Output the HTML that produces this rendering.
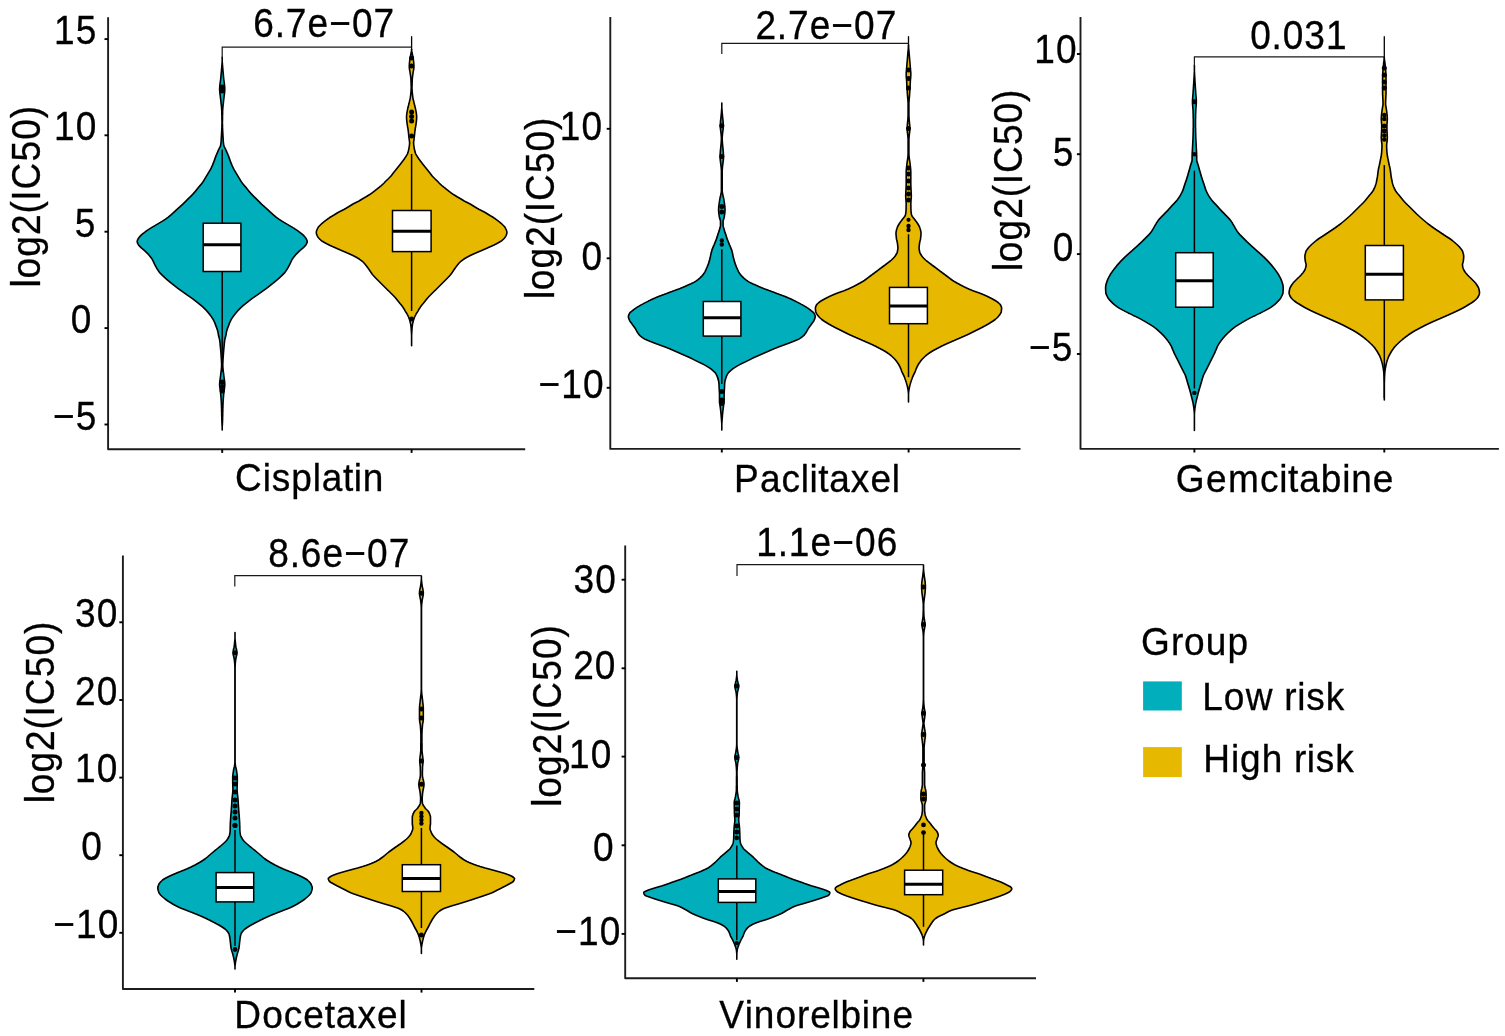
<!DOCTYPE html>
<html lang="en"><head><meta charset="utf-8"><title>Drug sensitivity violin plots</title>
<style>html,body{margin:0;padding:0;background:#fff;overflow:hidden;}svg{display:block;}text{font-family:"Liberation Sans", Arial, Helvetica, sans-serif;fill:#000;stroke:#000;stroke-width:0.3px;}</style></head><body>
<svg width="1505" height="1036" viewBox="0 0 1505 1036">
<rect width="1505" height="1036" fill="#fff"/>
<g>
<path d="M222.2,57.4 222.2,57.9 222.2,58.4 222.2,58.9 222.2,59.4 222.2,59.9 222.2,60.4 222.2,60.9 222.2,61.4 222.2,61.9 222.3,62.4 222.3,62.9 222.4,63.4 222.4,63.9 222.4,64.4 222.5,64.9 222.5,65.4 222.6,65.9 222.6,66.4 222.6,66.9 222.7,67.4 222.7,67.9 222.8,68.4 222.8,68.9 222.9,69.4 222.9,69.9 222.9,70.4 223.0,70.9 223.0,71.4 223.1,71.9 223.1,72.4 223.2,72.9 223.2,73.4 223.3,73.9 223.3,74.4 223.4,74.9 223.4,75.4 223.4,75.9 223.5,76.4 223.5,76.9 223.6,77.4 223.6,77.9 223.7,78.4 223.7,78.9 223.8,79.4 223.8,79.9 223.9,80.4 224.0,80.9 224.0,81.4 224.1,81.9 224.2,82.4 224.2,82.9 224.3,83.4 224.4,83.9 224.4,84.4 224.5,84.9 224.5,85.4 224.6,85.9 224.6,86.4 224.7,86.9 224.7,87.4 224.7,87.9 224.7,88.4 224.8,88.9 224.8,89.4 224.8,89.9 224.7,90.4 224.7,90.9 224.7,91.4 224.6,91.9 224.6,92.4 224.5,92.9 224.5,93.4 224.4,93.9 224.4,94.4 224.3,94.9 224.2,95.4 224.2,95.9 224.1,96.4 224.0,96.9 224.0,97.4 223.9,97.9 223.9,98.4 223.8,98.9 223.7,99.4 223.7,99.9 223.6,100.4 223.6,100.9 223.5,101.4 223.5,101.9 223.4,102.4 223.4,102.9 223.3,103.4 223.3,103.9 223.2,104.4 223.1,104.9 223.1,105.4 223.0,105.9 223.0,106.4 222.9,106.9 222.9,107.4 222.8,107.9 222.8,108.4 222.8,108.9 222.7,109.4 222.7,109.9 222.7,110.4 222.6,110.9 222.6,111.4 222.6,111.9 222.6,112.4 222.6,112.9 222.6,113.4 222.6,113.9 222.6,114.4 222.5,114.9 222.5,115.4 222.5,115.9 222.5,116.4 222.5,116.9 222.5,117.4 222.5,117.9 222.5,118.4 222.5,118.9 222.5,119.4 222.5,119.9 222.5,120.4 222.4,120.9 222.4,121.4 222.4,121.9 222.4,122.4 222.4,122.9 222.4,123.4 222.4,123.9 222.5,124.4 222.5,124.9 222.5,125.4 222.5,125.9 222.5,126.4 222.5,126.9 222.5,127.4 222.5,127.9 222.6,128.4 222.6,128.9 222.6,129.4 222.6,129.9 222.7,130.4 222.7,130.9 222.7,131.4 222.7,131.9 222.8,132.4 222.8,132.9 222.8,133.4 222.9,133.9 222.9,134.4 222.9,134.9 222.9,135.4 223.0,135.9 223.0,136.4 223.0,136.9 223.1,137.4 223.1,137.9 223.1,138.4 223.1,138.9 223.2,139.4 223.2,139.9 223.2,140.4 223.3,140.9 223.3,141.4 223.3,141.9 223.4,142.4 223.4,142.9 223.5,143.4 223.6,143.9 223.6,144.4 223.7,144.9 223.8,145.4 223.9,145.9 224.1,146.4 224.3,146.9 224.6,147.4 224.9,147.9 225.1,148.4 225.4,148.9 225.6,149.4 225.9,149.9 226.1,150.4 226.3,150.9 226.5,151.4 226.7,151.9 226.9,152.4 227.2,152.9 227.4,153.4 227.6,153.9 227.8,154.4 228.0,154.9 228.3,155.4 228.4,155.9 228.6,156.4 228.8,156.9 229.0,157.4 229.1,157.9 229.3,158.4 229.5,158.9 229.7,159.4 229.8,159.9 230.0,160.4 230.2,160.9 230.4,161.4 230.6,161.9 230.8,162.4 231.0,162.9 231.2,163.4 231.4,163.9 231.6,164.4 231.8,164.9 232.0,165.4 232.2,165.9 232.5,166.4 232.7,166.9 232.9,167.4 233.2,167.9 233.4,168.4 233.7,168.9 233.9,169.4 234.2,169.9 234.5,170.4 234.8,170.9 235.1,171.4 235.4,171.9 235.7,172.4 236.0,172.9 236.3,173.4 236.6,173.9 236.9,174.4 237.2,174.9 237.5,175.4 237.8,175.9 238.1,176.4 238.4,176.9 238.7,177.4 239.0,177.9 239.3,178.4 239.6,178.9 239.9,179.4 240.2,179.9 240.5,180.4 240.8,180.9 241.2,181.4 241.5,181.9 241.9,182.4 242.2,182.9 242.6,183.4 243.0,183.9 243.4,184.4 243.8,184.9 244.2,185.4 244.7,185.9 245.1,186.4 245.5,186.9 246.0,187.4 246.4,187.9 246.8,188.4 247.2,188.9 247.6,189.4 248.0,189.9 248.4,190.4 248.8,190.9 249.2,191.4 249.6,191.9 250.0,192.4 250.5,192.9 250.9,193.4 251.3,193.9 251.8,194.4 252.3,194.9 252.7,195.4 253.2,195.9 253.7,196.4 254.2,196.9 254.8,197.4 255.3,197.9 255.8,198.4 256.3,198.9 256.8,199.4 257.3,199.9 257.8,200.4 258.3,200.9 258.8,201.4 259.3,201.9 259.8,202.4 260.3,202.9 260.8,203.4 261.3,203.9 261.8,204.4 262.4,204.9 262.9,205.4 263.5,205.9 264.1,206.4 264.6,206.9 265.2,207.4 265.8,207.9 266.3,208.4 266.9,208.9 267.4,209.4 268.0,209.9 268.5,210.4 269.0,210.9 269.6,211.4 270.1,211.9 270.7,212.4 271.2,212.9 271.8,213.4 272.3,213.9 272.9,214.4 273.4,214.9 274.0,215.4 274.6,215.9 275.2,216.4 275.8,216.9 276.4,217.4 277.1,217.9 277.8,218.4 278.5,218.9 279.2,219.4 280.0,219.9 280.8,220.4 281.5,220.9 282.4,221.4 283.2,221.9 284.0,222.4 284.9,222.9 285.7,223.4 286.6,223.9 287.4,224.4 288.3,224.9 289.1,225.4 290.0,225.9 290.8,226.4 291.7,226.9 292.5,227.4 293.3,227.9 294.2,228.4 294.9,228.9 295.7,229.4 296.4,229.9 297.2,230.4 297.9,230.9 298.6,231.4 299.2,231.9 299.9,232.4 300.5,232.9 301.2,233.4 301.8,233.9 302.4,234.4 303.0,234.9 303.5,235.4 304.0,235.9 304.4,236.4 304.9,236.9 305.3,237.4 305.7,237.9 306.0,238.4 306.3,238.9 306.5,239.4 306.8,239.9 307.0,240.4 307.1,240.9 307.2,241.4 307.2,241.9 307.1,242.4 306.9,242.9 306.7,243.4 306.4,243.9 306.2,244.4 305.9,244.9 305.5,245.4 305.0,245.9 304.6,246.4 304.1,246.9 303.6,247.4 303.1,247.9 302.5,248.4 301.9,248.9 301.3,249.4 300.7,249.9 300.1,250.4 299.6,250.9 299.0,251.4 298.5,251.9 298.0,252.4 297.5,252.9 297.0,253.4 296.5,253.9 296.0,254.4 295.5,254.9 295.1,255.4 294.7,255.9 294.3,256.4 293.9,256.9 293.5,257.4 293.1,257.9 292.8,258.4 292.4,258.9 292.1,259.4 291.9,259.9 291.6,260.4 291.4,260.9 291.1,261.4 290.9,261.9 290.7,262.4 290.4,262.9 290.2,263.4 290.0,263.9 289.7,264.4 289.5,264.9 289.2,265.4 289.0,265.9 288.7,266.4 288.4,266.9 288.1,267.4 287.9,267.9 287.6,268.4 287.3,268.9 286.9,269.4 286.6,269.9 286.3,270.4 285.9,270.9 285.6,271.4 285.2,271.9 284.8,272.4 284.4,272.9 284.0,273.4 283.5,273.9 283.0,274.4 282.5,274.9 282.0,275.4 281.5,275.9 280.9,276.4 280.4,276.9 279.9,277.4 279.3,277.9 278.8,278.4 278.2,278.9 277.7,279.4 277.1,279.9 276.5,280.4 275.9,280.9 275.3,281.4 274.7,281.9 274.1,282.4 273.5,282.9 272.8,283.4 272.2,283.9 271.5,284.4 270.9,284.9 270.3,285.4 269.7,285.9 269.0,286.4 268.4,286.9 267.8,287.4 267.1,287.9 266.5,288.4 265.8,288.9 265.1,289.4 264.4,289.9 263.7,290.4 263.0,290.9 262.3,291.4 261.6,291.9 260.9,292.4 260.2,292.9 259.5,293.4 258.8,293.9 258.1,294.4 257.4,294.9 256.6,295.4 255.9,295.9 255.2,296.4 254.5,296.9 253.7,297.4 253.0,297.9 252.3,298.4 251.6,298.9 250.9,299.4 250.3,299.9 249.7,300.4 249.0,300.9 248.4,301.4 247.8,301.9 247.2,302.4 246.5,302.9 245.9,303.4 245.3,303.9 244.6,304.4 244.0,304.9 243.4,305.4 242.8,305.9 242.2,306.4 241.7,306.9 241.1,307.4 240.6,307.9 240.1,308.4 239.6,308.9 239.1,309.4 238.6,309.9 238.1,310.4 237.6,310.9 237.2,311.4 236.8,311.9 236.3,312.4 235.9,312.9 235.5,313.4 235.1,313.9 234.7,314.4 234.3,314.9 233.9,315.4 233.6,315.9 233.2,316.4 232.9,316.9 232.6,317.4 232.2,317.9 231.9,318.4 231.6,318.9 231.3,319.4 231.0,319.9 230.8,320.4 230.5,320.9 230.3,321.4 230.0,321.9 229.8,322.4 229.6,322.9 229.4,323.4 229.2,323.9 229.0,324.4 228.9,324.9 228.7,325.4 228.5,325.9 228.3,326.4 228.1,326.9 227.9,327.4 227.7,327.9 227.5,328.4 227.4,328.9 227.2,329.4 227.0,329.9 226.9,330.4 226.8,330.9 226.6,331.4 226.5,331.9 226.4,332.4 226.3,332.9 226.2,333.4 226.2,333.9 226.1,334.4 226.0,334.9 225.9,335.4 225.8,335.9 225.6,336.4 225.5,336.9 225.4,337.4 225.2,337.9 225.1,338.4 225.0,338.9 224.9,339.4 224.8,339.9 224.7,340.4 224.6,340.9 224.6,341.4 224.5,341.9 224.4,342.4 224.4,342.9 224.3,343.4 224.3,343.9 224.3,344.4 224.2,344.9 224.2,345.4 224.1,345.9 224.1,346.4 224.0,346.9 224.0,347.4 223.9,347.9 223.9,348.4 223.8,348.9 223.8,349.4 223.7,349.9 223.7,350.4 223.6,350.9 223.6,351.4 223.6,351.9 223.5,352.4 223.5,352.9 223.4,353.4 223.4,353.9 223.4,354.4 223.3,354.9 223.3,355.4 223.3,355.9 223.2,356.4 223.2,356.9 223.2,357.4 223.1,357.9 223.1,358.4 223.1,358.9 223.0,359.4 223.0,359.9 223.0,360.4 222.9,360.9 222.9,361.4 222.9,361.9 222.9,362.4 222.9,362.9 222.8,363.4 222.8,363.9 222.8,364.4 222.8,364.9 222.8,365.4 222.8,365.9 222.8,366.4 222.9,366.9 222.9,367.4 222.9,367.9 223.0,368.4 223.0,368.9 223.1,369.4 223.1,369.9 223.2,370.4 223.2,370.9 223.3,371.4 223.4,371.9 223.4,372.4 223.5,372.9 223.6,373.4 223.6,373.9 223.7,374.4 223.7,374.9 223.8,375.4 223.8,375.9 223.9,376.4 224.0,376.9 224.0,377.4 224.1,377.9 224.2,378.4 224.2,378.9 224.3,379.4 224.4,379.9 224.5,380.4 224.5,380.9 224.6,381.4 224.6,381.9 224.7,382.4 224.7,382.9 224.7,383.4 224.8,383.9 224.8,384.4 224.8,384.9 224.7,385.4 224.7,385.9 224.7,386.4 224.6,386.9 224.6,387.4 224.5,387.9 224.4,388.4 224.4,388.9 224.3,389.4 224.2,389.9 224.2,390.4 224.1,390.9 224.0,391.4 224.0,391.9 223.9,392.4 223.8,392.9 223.8,393.4 223.7,393.9 223.7,394.4 223.6,394.9 223.6,395.4 223.5,395.9 223.5,396.4 223.5,396.9 223.4,397.4 223.4,397.9 223.3,398.4 223.3,398.9 223.3,399.4 223.2,399.9 223.2,400.4 223.2,400.9 223.1,401.4 223.1,401.9 223.1,402.4 223.0,402.9 223.0,403.4 223.0,403.9 223.0,404.4 223.0,404.9 222.9,405.4 222.9,405.9 222.9,406.4 222.9,406.9 222.9,407.4 222.9,407.9 222.8,408.4 222.8,408.9 222.8,409.4 222.8,409.9 222.8,410.4 222.8,410.9 222.8,411.4 222.8,411.9 222.7,412.4 222.7,412.9 222.7,413.4 222.7,413.9 222.7,414.4 222.7,414.9 222.7,415.4 222.7,415.9 222.7,416.4 222.6,416.9 222.6,417.4 222.6,417.9 222.6,418.4 222.6,418.9 222.6,419.4 222.6,419.9 222.5,420.4 222.5,420.9 222.5,421.4 222.5,421.9 222.5,422.4 222.4,422.9 222.4,423.4 222.4,423.9 222.4,424.4 222.3,424.9 222.3,425.4 222.3,425.9 222.2,426.4 222.2,426.9 222.2,427.4 222.2,427.9 222.2,428.4 222.2,428.9 222.2,429.4 222.2,429.9 222.2,429.9 222.2,429.4 222.2,428.9 222.2,428.4 222.2,427.9 222.2,427.4 222.2,426.9 222.2,426.4 222.1,425.9 222.1,425.4 222.1,424.9 222.0,424.4 222.0,423.9 222.0,423.4 222.0,422.9 221.9,422.4 221.9,421.9 221.9,421.4 221.9,420.9 221.9,420.4 221.8,419.9 221.8,419.4 221.8,418.9 221.8,418.4 221.8,417.9 221.8,417.4 221.8,416.9 221.7,416.4 221.7,415.9 221.7,415.4 221.7,414.9 221.7,414.4 221.7,413.9 221.7,413.4 221.7,412.9 221.7,412.4 221.6,411.9 221.6,411.4 221.6,410.9 221.6,410.4 221.6,409.9 221.6,409.4 221.6,408.9 221.6,408.4 221.5,407.9 221.5,407.4 221.5,406.9 221.5,406.4 221.5,405.9 221.5,405.4 221.4,404.9 221.4,404.4 221.4,403.9 221.4,403.4 221.4,402.9 221.3,402.4 221.3,401.9 221.3,401.4 221.2,400.9 221.2,400.4 221.2,399.9 221.1,399.4 221.1,398.9 221.1,398.4 221.0,397.9 221.0,397.4 220.9,396.9 220.9,396.4 220.9,395.9 220.8,395.4 220.8,394.9 220.7,394.4 220.7,393.9 220.6,393.4 220.6,392.9 220.5,392.4 220.4,391.9 220.4,391.4 220.3,390.9 220.2,390.4 220.2,389.9 220.1,389.4 220.0,388.9 220.0,388.4 219.9,387.9 219.8,387.4 219.8,386.9 219.7,386.4 219.7,385.9 219.7,385.4 219.6,384.9 219.6,384.4 219.6,383.9 219.7,383.4 219.7,382.9 219.7,382.4 219.8,381.9 219.8,381.4 219.9,380.9 219.9,380.4 220.0,379.9 220.1,379.4 220.2,378.9 220.2,378.4 220.3,377.9 220.4,377.4 220.4,376.9 220.5,376.4 220.6,375.9 220.6,375.4 220.7,374.9 220.7,374.4 220.8,373.9 220.8,373.4 220.9,372.9 221.0,372.4 221.0,371.9 221.1,371.4 221.2,370.9 221.2,370.4 221.3,369.9 221.3,369.4 221.4,368.9 221.4,368.4 221.5,367.9 221.5,367.4 221.5,366.9 221.6,366.4 221.6,365.9 221.6,365.4 221.6,364.9 221.6,364.4 221.6,363.9 221.6,363.4 221.5,362.9 221.5,362.4 221.5,361.9 221.5,361.4 221.5,360.9 221.4,360.4 221.4,359.9 221.4,359.4 221.3,358.9 221.3,358.4 221.3,357.9 221.2,357.4 221.2,356.9 221.2,356.4 221.1,355.9 221.1,355.4 221.1,354.9 221.0,354.4 221.0,353.9 221.0,353.4 220.9,352.9 220.9,352.4 220.8,351.9 220.8,351.4 220.8,350.9 220.7,350.4 220.7,349.9 220.6,349.4 220.6,348.9 220.5,348.4 220.5,347.9 220.4,347.4 220.4,346.9 220.3,346.4 220.3,345.9 220.2,345.4 220.2,344.9 220.1,344.4 220.1,343.9 220.1,343.4 220.0,342.9 220.0,342.4 219.9,341.9 219.8,341.4 219.8,340.9 219.7,340.4 219.6,339.9 219.5,339.4 219.4,338.9 219.3,338.4 219.2,337.9 219.0,337.4 218.9,336.9 218.8,336.4 218.6,335.9 218.5,335.4 218.4,334.9 218.3,334.4 218.2,333.9 218.2,333.4 218.1,332.9 218.0,332.4 217.9,331.9 217.8,331.4 217.6,330.9 217.5,330.4 217.4,329.9 217.2,329.4 217.0,328.9 216.9,328.4 216.7,327.9 216.5,327.4 216.3,326.9 216.1,326.4 215.9,325.9 215.7,325.4 215.5,324.9 215.4,324.4 215.2,323.9 215.0,323.4 214.8,322.9 214.6,322.4 214.4,321.9 214.1,321.4 213.9,320.9 213.6,320.4 213.4,319.9 213.1,319.4 212.8,318.9 212.5,318.4 212.2,317.9 211.8,317.4 211.5,316.9 211.2,316.4 210.8,315.9 210.5,315.4 210.1,314.9 209.7,314.4 209.3,313.9 208.9,313.4 208.5,312.9 208.1,312.4 207.6,311.9 207.2,311.4 206.8,310.9 206.3,310.4 205.8,309.9 205.3,309.4 204.8,308.9 204.3,308.4 203.8,307.9 203.3,307.4 202.7,306.9 202.2,306.4 201.6,305.9 201.0,305.4 200.4,304.9 199.8,304.4 199.1,303.9 198.5,303.4 197.9,302.9 197.2,302.4 196.6,301.9 196.0,301.4 195.4,300.9 194.7,300.4 194.1,299.9 193.5,299.4 192.8,298.9 192.1,298.4 191.4,297.9 190.7,297.4 189.9,296.9 189.2,296.4 188.5,295.9 187.8,295.4 187.0,294.9 186.3,294.4 185.6,293.9 184.9,293.4 184.2,292.9 183.5,292.4 182.8,291.9 182.1,291.4 181.4,290.9 180.7,290.4 180.0,289.9 179.3,289.4 178.6,288.9 177.9,288.4 177.3,287.9 176.6,287.4 176.0,286.9 175.4,286.4 174.7,285.9 174.1,285.4 173.5,284.9 172.9,284.4 172.2,283.9 171.6,283.4 170.9,282.9 170.3,282.4 169.7,281.9 169.1,281.4 168.5,280.9 167.9,280.4 167.3,279.9 166.7,279.4 166.2,278.9 165.6,278.4 165.1,277.9 164.5,277.4 164.0,276.9 163.5,276.4 162.9,275.9 162.4,275.4 161.9,274.9 161.4,274.4 160.9,273.9 160.4,273.4 160.0,272.9 159.6,272.4 159.2,271.9 158.8,271.4 158.5,270.9 158.1,270.4 157.8,269.9 157.5,269.4 157.1,268.9 156.8,268.4 156.5,267.9 156.3,267.4 156.0,266.9 155.7,266.4 155.4,265.9 155.2,265.4 154.9,264.9 154.7,264.4 154.4,263.9 154.2,263.4 154.0,262.9 153.7,262.4 153.5,261.9 153.3,261.4 153.0,260.9 152.8,260.4 152.5,259.9 152.3,259.4 152.0,258.9 151.6,258.4 151.3,257.9 150.9,257.4 150.5,256.9 150.1,256.4 149.7,255.9 149.3,255.4 148.9,254.9 148.4,254.4 147.9,253.9 147.4,253.4 146.9,252.9 146.4,252.4 145.9,251.9 145.4,251.4 144.8,250.9 144.3,250.4 143.7,249.9 143.1,249.4 142.5,248.9 141.9,248.4 141.3,247.9 140.8,247.4 140.3,246.9 139.8,246.4 139.4,245.9 138.9,245.4 138.5,244.9 138.2,244.4 138.0,243.9 137.7,243.4 137.5,242.9 137.3,242.4 137.2,241.9 137.2,241.4 137.3,240.9 137.4,240.4 137.6,239.9 137.9,239.4 138.1,238.9 138.4,238.4 138.7,237.9 139.1,237.4 139.5,236.9 140.0,236.4 140.4,235.9 140.9,235.4 141.4,234.9 142.0,234.4 142.6,233.9 143.2,233.4 143.9,232.9 144.5,232.4 145.2,231.9 145.8,231.4 146.5,230.9 147.2,230.4 148.0,229.9 148.7,229.4 149.5,228.9 150.2,228.4 151.1,227.9 151.9,227.4 152.7,226.9 153.6,226.4 154.4,225.9 155.3,225.4 156.1,224.9 157.0,224.4 157.8,223.9 158.7,223.4 159.5,222.9 160.4,222.4 161.2,221.9 162.0,221.4 162.9,220.9 163.6,220.4 164.4,219.9 165.2,219.4 165.9,218.9 166.6,218.4 167.3,217.9 168.0,217.4 168.6,216.9 169.2,216.4 169.8,215.9 170.4,215.4 171.0,214.9 171.5,214.4 172.1,213.9 172.6,213.4 173.2,212.9 173.7,212.4 174.3,211.9 174.8,211.4 175.4,210.9 175.9,210.4 176.4,209.9 177.0,209.4 177.5,208.9 178.1,208.4 178.6,207.9 179.2,207.4 179.8,206.9 180.3,206.4 180.9,205.9 181.5,205.4 182.0,204.9 182.6,204.4 183.1,203.9 183.6,203.4 184.1,202.9 184.6,202.4 185.1,201.9 185.6,201.4 186.1,200.9 186.6,200.4 187.1,199.9 187.6,199.4 188.1,198.9 188.6,198.4 189.1,197.9 189.6,197.4 190.2,196.9 190.7,196.4 191.2,195.9 191.7,195.4 192.1,194.9 192.6,194.4 193.1,193.9 193.5,193.4 193.9,192.9 194.4,192.4 194.8,191.9 195.2,191.4 195.6,190.9 196.0,190.4 196.4,189.9 196.8,189.4 197.2,188.9 197.6,188.4 198.0,187.9 198.4,187.4 198.9,186.9 199.3,186.4 199.7,185.9 200.2,185.4 200.6,184.9 201.0,184.4 201.4,183.9 201.8,183.4 202.2,182.9 202.5,182.4 202.9,181.9 203.2,181.4 203.6,180.9 203.9,180.4 204.2,179.9 204.5,179.4 204.8,178.9 205.1,178.4 205.4,177.9 205.7,177.4 206.0,176.9 206.3,176.4 206.6,175.9 206.9,175.4 207.2,174.9 207.5,174.4 207.8,173.9 208.1,173.4 208.4,172.9 208.7,172.4 209.0,171.9 209.3,171.4 209.6,170.9 209.9,170.4 210.2,169.9 210.5,169.4 210.7,168.9 211.0,168.4 211.2,167.9 211.5,167.4 211.7,166.9 211.9,166.4 212.2,165.9 212.4,165.4 212.6,164.9 212.8,164.4 213.0,163.9 213.2,163.4 213.4,162.9 213.6,162.4 213.8,161.9 214.0,161.4 214.2,160.9 214.4,160.4 214.6,159.9 214.7,159.4 214.9,158.9 215.1,158.4 215.3,157.9 215.4,157.4 215.6,156.9 215.8,156.4 216.0,155.9 216.1,155.4 216.4,154.9 216.6,154.4 216.8,153.9 217.0,153.4 217.2,152.9 217.5,152.4 217.7,151.9 217.9,151.4 218.1,150.9 218.3,150.4 218.5,149.9 218.8,149.4 219.0,148.9 219.3,148.4 219.5,147.9 219.8,147.4 220.1,146.9 220.3,146.4 220.5,145.9 220.6,145.4 220.7,144.9 220.8,144.4 220.8,143.9 220.9,143.4 221.0,142.9 221.0,142.4 221.1,141.9 221.1,141.4 221.1,140.9 221.2,140.4 221.2,139.9 221.2,139.4 221.3,138.9 221.3,138.4 221.3,137.9 221.3,137.4 221.4,136.9 221.4,136.4 221.4,135.9 221.5,135.4 221.5,134.9 221.5,134.4 221.5,133.9 221.6,133.4 221.6,132.9 221.6,132.4 221.7,131.9 221.7,131.4 221.7,130.9 221.7,130.4 221.8,129.9 221.8,129.4 221.8,128.9 221.8,128.4 221.9,127.9 221.9,127.4 221.9,126.9 221.9,126.4 221.9,125.9 221.9,125.4 221.9,124.9 221.9,124.4 222.0,123.9 222.0,123.4 222.0,122.9 222.0,122.4 222.0,121.9 222.0,121.4 222.0,120.9 221.9,120.4 221.9,119.9 221.9,119.4 221.9,118.9 221.9,118.4 221.9,117.9 221.9,117.4 221.9,116.9 221.9,116.4 221.9,115.9 221.9,115.4 221.9,114.9 221.8,114.4 221.8,113.9 221.8,113.4 221.8,112.9 221.8,112.4 221.8,111.9 221.8,111.4 221.8,110.9 221.7,110.4 221.7,109.9 221.7,109.4 221.6,108.9 221.6,108.4 221.6,107.9 221.5,107.4 221.5,106.9 221.4,106.4 221.4,105.9 221.3,105.4 221.3,104.9 221.2,104.4 221.1,103.9 221.1,103.4 221.0,102.9 221.0,102.4 220.9,101.9 220.9,101.4 220.8,100.9 220.8,100.4 220.7,99.9 220.7,99.4 220.6,98.9 220.5,98.4 220.5,97.9 220.4,97.4 220.4,96.9 220.3,96.4 220.2,95.9 220.2,95.4 220.1,94.9 220.0,94.4 220.0,93.9 219.9,93.4 219.9,92.9 219.8,92.4 219.8,91.9 219.7,91.4 219.7,90.9 219.7,90.4 219.6,89.9 219.6,89.4 219.6,88.9 219.7,88.4 219.7,87.9 219.7,87.4 219.7,86.9 219.8,86.4 219.8,85.9 219.9,85.4 219.9,84.9 220.0,84.4 220.0,83.9 220.1,83.4 220.2,82.9 220.2,82.4 220.3,81.9 220.4,81.4 220.4,80.9 220.5,80.4 220.6,79.9 220.6,79.4 220.7,78.9 220.7,78.4 220.8,77.9 220.8,77.4 220.9,76.9 220.9,76.4 221.0,75.9 221.0,75.4 221.0,74.9 221.1,74.4 221.1,73.9 221.2,73.4 221.2,72.9 221.3,72.4 221.3,71.9 221.4,71.4 221.4,70.9 221.5,70.4 221.5,69.9 221.5,69.4 221.6,68.9 221.6,68.4 221.7,67.9 221.7,67.4 221.8,66.9 221.8,66.4 221.8,65.9 221.9,65.4 221.9,64.9 222.0,64.4 222.0,63.9 222.0,63.4 222.1,62.9 222.1,62.4 222.2,61.9 222.2,61.4 222.2,60.9 222.2,60.4 222.2,59.9 222.2,59.4 222.2,58.9 222.2,58.4 222.2,57.9 222.2,57.4Z" fill="#00AFBB" stroke="#000" stroke-width="1.60" stroke-linejoin="round"/>
<line x1="222.20" y1="149.50" x2="222.20" y2="372.00" stroke="#000" stroke-width="1.50"/>
<circle cx="222.20" cy="87.00" r="2.50" fill="#000"/>
<circle cx="222.20" cy="91.00" r="2.50" fill="#000"/>
<circle cx="222.20" cy="382.00" r="2.50" fill="#000"/>
<circle cx="222.20" cy="386.50" r="2.50" fill="#000"/>
<circle cx="222.20" cy="391.00" r="2.50" fill="#000"/>
<rect x="203.20" y="223.20" width="37.70" height="48.30" fill="#fff" stroke="#000" stroke-width="1.50"/>
<line x1="203.20" y1="244.70" x2="240.90" y2="244.70" stroke="#000" stroke-width="3.00"/>
<path d="M411.6,49.3 411.6,49.8 411.6,50.3 411.7,50.8 411.8,51.3 411.9,51.8 412.0,52.3 412.1,52.8 412.2,53.3 412.3,53.8 412.4,54.3 412.5,54.8 412.6,55.3 412.7,55.8 412.8,56.3 412.9,56.8 413.0,57.3 413.1,57.8 413.2,58.3 413.2,58.8 413.3,59.3 413.4,59.8 413.5,60.3 413.5,60.8 413.6,61.3 413.6,61.8 413.7,62.3 413.7,62.8 413.8,63.3 413.8,63.8 413.8,64.3 413.9,64.8 413.9,65.3 413.9,65.8 413.9,66.3 413.9,66.8 413.9,67.3 413.9,67.8 413.8,68.3 413.8,68.8 413.7,69.3 413.6,69.8 413.5,70.3 413.4,70.8 413.3,71.3 413.2,71.8 413.1,72.3 413.1,72.8 413.0,73.3 412.9,73.8 412.9,74.3 412.8,74.8 412.7,75.3 412.6,75.8 412.6,76.3 412.5,76.8 412.5,77.3 412.4,77.8 412.3,78.3 412.3,78.8 412.3,79.3 412.2,79.8 412.2,80.3 412.2,80.8 412.2,81.3 412.2,81.8 412.1,82.3 412.1,82.8 412.1,83.3 412.1,83.8 412.1,84.3 412.1,84.8 412.1,85.3 412.0,85.8 412.0,86.3 412.0,86.8 412.0,87.3 412.0,87.8 412.0,88.3 412.0,88.8 412.1,89.3 412.1,89.8 412.1,90.3 412.1,90.8 412.2,91.3 412.2,91.8 412.3,92.3 412.3,92.8 412.4,93.3 412.4,93.8 412.5,94.3 412.5,94.8 412.6,95.3 412.6,95.8 412.7,96.3 412.8,96.8 412.8,97.3 412.9,97.8 413.0,98.3 413.1,98.8 413.2,99.3 413.3,99.8 413.4,100.3 413.6,100.8 413.7,101.3 413.8,101.8 413.9,102.3 414.0,102.8 414.1,103.3 414.3,103.8 414.4,104.3 414.5,104.8 414.6,105.3 414.8,105.8 414.9,106.3 415.0,106.8 415.1,107.3 415.3,107.8 415.4,108.3 415.5,108.8 415.6,109.3 415.7,109.8 415.8,110.3 415.9,110.8 416.0,111.3 416.1,111.8 416.2,112.3 416.3,112.8 416.3,113.3 416.4,113.8 416.5,114.3 416.5,114.8 416.6,115.3 416.6,115.8 416.6,116.3 416.7,116.8 416.7,117.3 416.6,117.8 416.6,118.3 416.6,118.8 416.6,119.3 416.5,119.8 416.5,120.3 416.4,120.8 416.4,121.3 416.3,121.8 416.2,122.3 416.2,122.8 416.1,123.3 416.1,123.8 416.0,124.3 415.9,124.8 415.8,125.3 415.8,125.8 415.7,126.3 415.6,126.8 415.5,127.3 415.4,127.8 415.3,128.3 415.2,128.8 415.2,129.3 415.1,129.8 415.0,130.3 415.0,130.8 414.9,131.3 414.8,131.8 414.8,132.3 414.7,132.8 414.7,133.3 414.6,133.8 414.6,134.3 414.5,134.8 414.5,135.3 414.4,135.8 414.4,136.3 414.3,136.8 414.3,137.3 414.2,137.8 414.1,138.3 414.1,138.8 414.0,139.3 413.9,139.8 413.9,140.3 413.8,140.8 413.7,141.3 413.7,141.8 413.6,142.3 413.6,142.8 413.6,143.3 413.7,143.8 413.7,144.3 413.7,144.8 413.8,145.3 413.9,145.8 413.9,146.3 414.0,146.8 414.1,147.3 414.2,147.8 414.3,148.3 414.3,148.8 414.4,149.3 414.5,149.8 414.7,150.3 414.8,150.8 414.9,151.3 415.0,151.8 415.2,152.3 415.3,152.8 415.5,153.3 415.7,153.8 416.0,154.3 416.3,154.8 416.6,155.3 416.9,155.8 417.2,156.3 417.5,156.8 417.8,157.3 418.1,157.8 418.5,158.3 418.8,158.8 419.1,159.3 419.5,159.8 419.9,160.3 420.2,160.8 420.6,161.3 421.0,161.8 421.4,162.3 421.8,162.8 422.1,163.3 422.5,163.8 422.9,164.3 423.3,164.8 423.7,165.3 424.1,165.8 424.5,166.3 424.9,166.8 425.3,167.3 425.7,167.8 426.1,168.3 426.5,168.8 426.9,169.3 427.3,169.8 427.7,170.3 428.1,170.8 428.5,171.3 428.9,171.8 429.3,172.3 429.7,172.8 430.1,173.3 430.5,173.8 430.8,174.3 431.2,174.8 431.6,175.3 432.0,175.8 432.4,176.3 432.9,176.8 433.4,177.3 433.9,177.8 434.4,178.3 434.9,178.8 435.4,179.3 436.0,179.8 436.5,180.3 437.0,180.8 437.5,181.3 438.0,181.8 438.5,182.3 438.9,182.8 439.4,183.3 440.0,183.8 440.5,184.3 441.1,184.8 441.6,185.3 442.2,185.8 442.9,186.3 443.5,186.8 444.1,187.3 444.8,187.8 445.4,188.3 446.0,188.8 446.6,189.3 447.3,189.8 447.9,190.3 448.5,190.8 449.2,191.3 449.8,191.8 450.5,192.3 451.1,192.8 451.8,193.3 452.5,193.8 453.2,194.3 453.9,194.8 454.7,195.3 455.5,195.8 456.3,196.3 457.1,196.8 458.0,197.3 458.9,197.8 459.7,198.3 460.6,198.8 461.4,199.3 462.2,199.8 463.0,200.3 463.8,200.8 464.7,201.3 465.7,201.8 466.7,202.3 467.7,202.8 468.7,203.3 469.7,203.8 470.6,204.3 471.4,204.8 472.2,205.3 473.0,205.8 473.8,206.3 474.6,206.8 475.5,207.3 476.3,207.8 477.1,208.3 478.0,208.8 478.8,209.3 479.8,209.8 480.8,210.3 481.8,210.8 482.8,211.3 483.8,211.8 484.7,212.3 485.6,212.8 486.4,213.3 487.2,213.8 488.0,214.3 488.8,214.8 489.6,215.3 490.5,215.8 491.3,216.3 492.2,216.8 493.0,217.3 493.8,217.8 494.5,218.3 495.3,218.8 496.0,219.3 496.7,219.8 497.4,220.3 498.1,220.8 498.7,221.3 499.4,221.8 499.9,222.3 500.5,222.8 501.1,223.3 501.6,223.8 502.1,224.3 502.6,224.8 503.1,225.3 503.6,225.8 504.1,226.3 504.6,226.8 505.0,227.3 505.3,227.8 505.5,228.3 505.8,228.8 506.0,229.3 506.2,229.8 506.4,230.3 506.6,230.8 506.8,231.3 506.8,231.8 506.9,232.3 506.9,232.8 506.8,233.3 506.7,233.8 506.6,234.3 506.4,234.8 506.2,235.3 505.9,235.8 505.7,236.3 505.4,236.8 505.1,237.3 504.7,237.8 504.3,238.3 503.8,238.8 503.2,239.3 502.7,239.8 502.1,240.3 501.5,240.8 500.8,241.3 500.0,241.8 499.2,242.3 498.3,242.8 497.4,243.3 496.5,243.8 495.5,244.3 494.5,244.8 493.5,245.3 492.4,245.8 491.3,246.3 490.1,246.8 489.0,247.3 487.9,247.8 486.8,248.3 485.7,248.8 484.5,249.3 483.4,249.8 482.2,250.3 481.1,250.8 479.9,251.3 478.7,251.8 477.5,252.3 476.4,252.8 475.2,253.3 474.1,253.8 473.0,254.3 471.9,254.8 470.8,255.3 469.8,255.8 468.8,256.3 467.9,256.8 466.9,257.3 466.1,257.8 465.2,258.3 464.4,258.8 463.6,259.3 462.9,259.8 462.2,260.3 461.5,260.8 460.9,261.3 460.4,261.8 459.9,262.3 459.4,262.8 458.9,263.3 458.5,263.8 458.1,264.3 457.7,264.8 457.3,265.3 456.9,265.8 456.5,266.3 456.1,266.8 455.8,267.3 455.4,267.8 455.0,268.3 454.7,268.8 454.3,269.3 454.0,269.8 453.6,270.3 453.3,270.8 453.0,271.3 452.6,271.8 452.3,272.3 452.0,272.8 451.6,273.3 451.3,273.8 450.9,274.3 450.5,274.8 450.1,275.3 449.6,275.8 449.2,276.3 448.7,276.8 448.2,277.3 447.8,277.8 447.3,278.3 446.8,278.8 446.3,279.3 445.8,279.8 445.3,280.3 444.8,280.8 444.3,281.3 443.8,281.8 443.3,282.3 442.8,282.8 442.3,283.3 441.8,283.8 441.3,284.3 440.8,284.8 440.3,285.3 439.8,285.8 439.3,286.3 438.8,286.8 438.3,287.3 437.8,287.8 437.3,288.3 436.8,288.8 436.3,289.3 435.8,289.8 435.2,290.3 434.7,290.8 434.2,291.3 433.7,291.8 433.2,292.3 432.7,292.8 432.2,293.3 431.7,293.8 431.2,294.3 430.7,294.8 430.2,295.3 429.7,295.8 429.2,296.3 428.7,296.8 428.3,297.3 427.8,297.8 427.4,298.3 427.0,298.8 426.6,299.3 426.2,299.8 425.8,300.3 425.4,300.8 425.0,301.3 424.6,301.8 424.2,302.3 423.8,302.8 423.4,303.3 423.0,303.8 422.5,304.3 422.1,304.8 421.7,305.3 421.3,305.8 420.9,306.3 420.6,306.8 420.2,307.3 419.9,307.8 419.6,308.3 419.3,308.8 418.9,309.3 418.6,309.8 418.4,310.3 418.1,310.8 417.8,311.3 417.5,311.8 417.2,312.3 416.9,312.8 416.5,313.3 416.2,313.8 416.0,314.3 415.7,314.8 415.4,315.3 415.2,315.8 415.0,316.3 414.7,316.8 414.5,317.3 414.3,317.8 414.2,318.3 414.0,318.8 413.8,319.3 413.6,319.8 413.5,320.3 413.3,320.8 413.2,321.3 413.1,321.8 413.0,322.3 412.9,322.8 412.7,323.3 412.6,323.8 412.5,324.3 412.5,324.8 412.4,325.3 412.3,325.8 412.2,326.3 412.2,326.8 412.1,327.3 412.1,327.8 412.0,328.3 412.0,328.8 412.0,329.3 411.9,329.8 411.9,330.3 411.9,330.8 411.8,331.3 411.8,331.8 411.8,332.3 411.7,332.8 411.7,333.3 411.7,333.8 411.7,334.3 411.6,334.8 411.6,335.3 411.6,335.8 411.6,336.3 411.6,336.8 411.6,337.3 411.6,337.8 411.6,338.3 411.6,338.8 411.6,339.3 411.6,339.8 411.6,340.3 411.6,340.8 411.6,341.3 411.6,341.8 411.6,342.3 411.6,342.8 411.6,343.3 411.6,343.8 411.6,344.3 411.6,344.8 411.6,345.3 411.6,345.8 411.6,345.8 411.6,345.3 411.6,344.8 411.6,344.3 411.6,343.8 411.6,343.3 411.6,342.8 411.6,342.3 411.6,341.8 411.6,341.3 411.6,340.8 411.6,340.3 411.6,339.8 411.6,339.3 411.6,338.8 411.6,338.3 411.6,337.8 411.6,337.3 411.6,336.8 411.6,336.3 411.6,335.8 411.6,335.3 411.6,334.8 411.5,334.3 411.5,333.8 411.5,333.3 411.5,332.8 411.4,332.3 411.4,331.8 411.4,331.3 411.3,330.8 411.3,330.3 411.3,329.8 411.2,329.3 411.2,328.8 411.2,328.3 411.1,327.8 411.1,327.3 411.0,326.8 411.0,326.3 410.9,325.8 410.8,325.3 410.7,324.8 410.7,324.3 410.6,323.8 410.5,323.3 410.3,322.8 410.2,322.3 410.1,321.8 410.0,321.3 409.9,320.8 409.7,320.3 409.6,319.8 409.4,319.3 409.2,318.8 409.0,318.3 408.9,317.8 408.7,317.3 408.5,316.8 408.2,316.3 408.0,315.8 407.8,315.3 407.5,314.8 407.2,314.3 407.0,313.8 406.7,313.3 406.3,312.8 406.0,312.3 405.7,311.8 405.4,311.3 405.1,310.8 404.8,310.3 404.6,309.8 404.3,309.3 403.9,308.8 403.6,308.3 403.3,307.8 403.0,307.3 402.6,306.8 402.3,306.3 401.9,305.8 401.5,305.3 401.1,304.8 400.7,304.3 400.2,303.8 399.8,303.3 399.4,302.8 399.0,302.3 398.6,301.8 398.2,301.3 397.8,300.8 397.4,300.3 397.0,299.8 396.6,299.3 396.2,298.8 395.8,298.3 395.4,297.8 394.9,297.3 394.5,296.8 394.0,296.3 393.5,295.8 393.0,295.3 392.5,294.8 392.0,294.3 391.5,293.8 391.0,293.3 390.5,292.8 390.0,292.3 389.5,291.8 389.0,291.3 388.5,290.8 388.0,290.3 387.4,289.8 386.9,289.3 386.4,288.8 385.9,288.3 385.4,287.8 384.9,287.3 384.4,286.8 383.9,286.3 383.4,285.8 382.9,285.3 382.4,284.8 381.9,284.3 381.4,283.8 380.9,283.3 380.4,282.8 379.9,282.3 379.4,281.8 378.9,281.3 378.4,280.8 377.9,280.3 377.4,279.8 376.9,279.3 376.4,278.8 375.9,278.3 375.4,277.8 375.0,277.3 374.5,276.8 374.0,276.3 373.6,275.8 373.1,275.3 372.7,274.8 372.3,274.3 371.9,273.8 371.6,273.3 371.2,272.8 370.9,272.3 370.6,271.8 370.2,271.3 369.9,270.8 369.6,270.3 369.2,269.8 368.9,269.3 368.5,268.8 368.2,268.3 367.8,267.8 367.4,267.3 367.1,266.8 366.7,266.3 366.3,265.8 365.9,265.3 365.5,264.8 365.1,264.3 364.7,263.8 364.3,263.3 363.8,262.8 363.3,262.3 362.8,261.8 362.3,261.3 361.7,260.8 361.0,260.3 360.3,259.8 359.6,259.3 358.8,258.8 358.0,258.3 357.1,257.8 356.3,257.3 355.3,256.8 354.4,256.3 353.4,255.8 352.4,255.3 351.3,254.8 350.2,254.3 349.1,253.8 348.0,253.3 346.8,252.8 345.7,252.3 344.5,251.8 343.3,251.3 342.1,250.8 341.0,250.3 339.8,249.8 338.7,249.3 337.5,248.8 336.4,248.3 335.3,247.8 334.2,247.3 333.1,246.8 331.9,246.3 330.8,245.8 329.7,245.3 328.7,244.8 327.7,244.3 326.7,243.8 325.8,243.3 324.9,242.8 324.0,242.3 323.2,241.8 322.4,241.3 321.7,240.8 321.1,240.3 320.5,239.8 320.0,239.3 319.4,238.8 318.9,238.3 318.5,237.8 318.1,237.3 317.8,236.8 317.5,236.3 317.3,235.8 317.0,235.3 316.8,234.8 316.6,234.3 316.5,233.8 316.4,233.3 316.3,232.8 316.3,232.3 316.4,231.8 316.4,231.3 316.6,230.8 316.8,230.3 317.0,229.8 317.2,229.3 317.4,228.8 317.7,228.3 317.9,227.8 318.2,227.3 318.6,226.8 319.1,226.3 319.6,225.8 320.1,225.3 320.6,224.8 321.1,224.3 321.6,223.8 322.1,223.3 322.7,222.8 323.3,222.3 323.8,221.8 324.5,221.3 325.1,220.8 325.8,220.3 326.5,219.8 327.2,219.3 327.9,218.8 328.7,218.3 329.4,217.8 330.2,217.3 331.0,216.8 331.9,216.3 332.7,215.8 333.6,215.3 334.4,214.8 335.2,214.3 336.0,213.8 336.8,213.3 337.6,212.8 338.5,212.3 339.4,211.8 340.4,211.3 341.4,210.8 342.4,210.3 343.4,209.8 344.4,209.3 345.2,208.8 346.1,208.3 346.9,207.8 347.7,207.3 348.6,206.8 349.4,206.3 350.2,205.8 351.0,205.3 351.8,204.8 352.6,204.3 353.5,203.8 354.5,203.3 355.5,202.8 356.5,202.3 357.5,201.8 358.5,201.3 359.4,200.8 360.2,200.3 361.0,199.8 361.8,199.3 362.6,198.8 363.5,198.3 364.3,197.8 365.2,197.3 366.1,196.8 366.9,196.3 367.7,195.8 368.5,195.3 369.3,194.8 370.0,194.3 370.7,193.8 371.4,193.3 372.1,192.8 372.7,192.3 373.4,191.8 374.0,191.3 374.7,190.8 375.3,190.3 375.9,189.8 376.6,189.3 377.2,188.8 377.8,188.3 378.4,187.8 379.1,187.3 379.7,186.8 380.3,186.3 381.0,185.8 381.6,185.3 382.1,184.8 382.7,184.3 383.2,183.8 383.8,183.3 384.3,182.8 384.7,182.3 385.2,181.8 385.7,181.3 386.2,180.8 386.7,180.3 387.2,179.8 387.8,179.3 388.3,178.8 388.8,178.3 389.3,177.8 389.8,177.3 390.3,176.8 390.8,176.3 391.2,175.8 391.6,175.3 392.0,174.8 392.4,174.3 392.7,173.8 393.1,173.3 393.5,172.8 393.9,172.3 394.3,171.8 394.7,171.3 395.1,170.8 395.5,170.3 395.9,169.8 396.3,169.3 396.7,168.8 397.1,168.3 397.5,167.8 397.9,167.3 398.3,166.8 398.7,166.3 399.1,165.8 399.5,165.3 399.9,164.8 400.3,164.3 400.7,163.8 401.1,163.3 401.4,162.8 401.8,162.3 402.2,161.8 402.6,161.3 403.0,160.8 403.3,160.3 403.7,159.8 404.1,159.3 404.4,158.8 404.7,158.3 405.1,157.8 405.4,157.3 405.7,156.8 406.0,156.3 406.3,155.8 406.6,155.3 406.9,154.8 407.2,154.3 407.5,153.8 407.7,153.3 407.9,152.8 408.0,152.3 408.2,151.8 408.3,151.3 408.4,150.8 408.5,150.3 408.7,149.8 408.8,149.3 408.9,148.8 408.9,148.3 409.0,147.8 409.1,147.3 409.2,146.8 409.3,146.3 409.3,145.8 409.4,145.3 409.5,144.8 409.5,144.3 409.5,143.8 409.6,143.3 409.6,142.8 409.6,142.3 409.5,141.8 409.5,141.3 409.4,140.8 409.3,140.3 409.3,139.8 409.2,139.3 409.1,138.8 409.1,138.3 409.0,137.8 408.9,137.3 408.9,136.8 408.8,136.3 408.8,135.8 408.7,135.3 408.7,134.8 408.6,134.3 408.6,133.8 408.5,133.3 408.5,132.8 408.4,132.3 408.4,131.8 408.3,131.3 408.2,130.8 408.2,130.3 408.1,129.8 408.0,129.3 408.0,128.8 407.9,128.3 407.8,127.8 407.7,127.3 407.6,126.8 407.5,126.3 407.4,125.8 407.4,125.3 407.3,124.8 407.2,124.3 407.1,123.8 407.1,123.3 407.0,122.8 407.0,122.3 406.9,121.8 406.8,121.3 406.8,120.8 406.7,120.3 406.7,119.8 406.6,119.3 406.6,118.8 406.6,118.3 406.6,117.8 406.5,117.3 406.5,116.8 406.6,116.3 406.6,115.8 406.6,115.3 406.7,114.8 406.7,114.3 406.8,113.8 406.9,113.3 406.9,112.8 407.0,112.3 407.1,111.8 407.2,111.3 407.3,110.8 407.4,110.3 407.5,109.8 407.6,109.3 407.7,108.8 407.8,108.3 407.9,107.8 408.1,107.3 408.2,106.8 408.3,106.3 408.4,105.8 408.6,105.3 408.7,104.8 408.8,104.3 408.9,103.8 409.1,103.3 409.2,102.8 409.3,102.3 409.4,101.8 409.5,101.3 409.6,100.8 409.8,100.3 409.9,99.8 410.0,99.3 410.1,98.8 410.2,98.3 410.3,97.8 410.4,97.3 410.4,96.8 410.5,96.3 410.6,95.8 410.6,95.3 410.7,94.8 410.7,94.3 410.8,93.8 410.8,93.3 410.9,92.8 410.9,92.3 411.0,91.8 411.0,91.3 411.1,90.8 411.1,90.3 411.1,89.8 411.1,89.3 411.2,88.8 411.2,88.3 411.2,87.8 411.2,87.3 411.2,86.8 411.2,86.3 411.2,85.8 411.1,85.3 411.1,84.8 411.1,84.3 411.1,83.8 411.1,83.3 411.1,82.8 411.1,82.3 411.0,81.8 411.0,81.3 411.0,80.8 411.0,80.3 411.0,79.8 410.9,79.3 410.9,78.8 410.9,78.3 410.8,77.8 410.7,77.3 410.7,76.8 410.6,76.3 410.6,75.8 410.5,75.3 410.4,74.8 410.3,74.3 410.3,73.8 410.2,73.3 410.1,72.8 410.1,72.3 410.0,71.8 409.9,71.3 409.8,70.8 409.7,70.3 409.6,69.8 409.5,69.3 409.4,68.8 409.4,68.3 409.3,67.8 409.3,67.3 409.3,66.8 409.3,66.3 409.3,65.8 409.3,65.3 409.3,64.8 409.4,64.3 409.4,63.8 409.4,63.3 409.5,62.8 409.5,62.3 409.6,61.8 409.6,61.3 409.7,60.8 409.7,60.3 409.8,59.8 409.9,59.3 410.0,58.8 410.0,58.3 410.1,57.8 410.2,57.3 410.3,56.8 410.4,56.3 410.5,55.8 410.6,55.3 410.7,54.8 410.8,54.3 410.9,53.8 411.0,53.3 411.1,52.8 411.2,52.3 411.3,51.8 411.4,51.3 411.5,50.8 411.6,50.3 411.6,49.8 411.6,49.3Z" fill="#E7B800" stroke="#000" stroke-width="1.60" stroke-linejoin="round"/>
<line x1="411.60" y1="154.00" x2="411.60" y2="311.00" stroke="#000" stroke-width="1.50"/>
<line x1="411.60" y1="36.20" x2="411.60" y2="50.00" stroke="#000" stroke-width="1.30"/>
<circle cx="411.60" cy="58.00" r="2.50" fill="#000"/>
<circle cx="411.60" cy="66.00" r="2.50" fill="#000"/>
<circle cx="411.60" cy="112.00" r="2.50" fill="#000"/>
<circle cx="411.60" cy="116.50" r="2.50" fill="#000"/>
<circle cx="411.60" cy="121.00" r="2.50" fill="#000"/>
<circle cx="411.60" cy="136.00" r="2.50" fill="#000"/>
<circle cx="411.60" cy="319.00" r="2.50" fill="#000"/>
<rect x="392.50" y="210.50" width="38.60" height="41.10" fill="#fff" stroke="#000" stroke-width="1.50"/>
<line x1="392.50" y1="231.30" x2="431.10" y2="231.30" stroke="#000" stroke-width="3.00"/>
<path d="M222.20,58.00 V47.10 H411.60 V47.10" fill="none" stroke="#1a1a1a" stroke-width="1.20"/>
<text transform="translate(323.70,37.30) scale(0.950,1.040)" font-size="39.00" x="-74.20 -51.65 -39.96 -17.13 5.73 29.68 52.51">6.7e−07</text>
<path d="M108.10,17.20 V449.30 H525.20" fill="none" stroke="#1c1c1c" stroke-width="1.90" stroke-linecap="butt" stroke-linejoin="round"/>
<line x1="104.50" y1="39.10" x2="108.10" y2="39.10" stroke="#000" stroke-width="1.90"/>
<text transform="translate(96.80,43.50) scale(0.950,1.040)" font-size="39.00" x="-45.09 -22.26">15</text>
<line x1="104.50" y1="135.30" x2="108.10" y2="135.30" stroke="#000" stroke-width="1.90"/>
<text transform="translate(96.80,139.80) scale(0.950,1.040)" font-size="39.00" x="-45.09 -22.26">10</text>
<line x1="104.50" y1="231.70" x2="108.10" y2="231.70" stroke="#000" stroke-width="1.90"/>
<text transform="translate(95.90,237.15) scale(0.950,1.040)" font-size="39.00" x="-22.26">5</text>
<line x1="104.50" y1="328.10" x2="108.10" y2="328.10" stroke="#000" stroke-width="1.90"/>
<text transform="translate(91.80,333.40) scale(0.950,1.040)" font-size="39.00" x="-22.26">0</text>
<line x1="104.50" y1="424.50" x2="108.10" y2="424.50" stroke="#000" stroke-width="1.90"/>
<text transform="translate(96.80,430.15) scale(0.950,1.040)" font-size="39.00" x="-46.21 -22.26">−5</text>
<line x1="222.20" y1="449.30" x2="222.20" y2="452.90" stroke="#000" stroke-width="1.90"/>
<line x1="411.60" y1="449.30" x2="411.60" y2="452.90" stroke="#000" stroke-width="1.90"/>
<text transform="translate(309.20,491.00) scale(0.950,1.012)" font-size="39.00" x="-77.98 -48.84 -39.44 -18.85 3.64 13.10 35.64 46.99 56.46">Cisplatin</text>
<text transform="translate(39.80,196.60) rotate(-90) scale(0.950,1.030)" font-size="39.00" x="-95.61 -86.14 -63.31 -40.48 -17.88 -4.27 7.60 37.07 59.90 82.51">log2(IC50)</text>
</g>
<g>
<path d="M721.8,103.1 721.8,103.6 721.8,104.1 721.8,104.6 721.8,105.1 721.8,105.6 721.8,106.1 721.8,106.6 721.8,107.1 721.8,107.6 721.8,108.1 721.9,108.6 721.9,109.1 722.0,109.6 722.0,110.1 722.0,110.6 722.1,111.1 722.1,111.6 722.1,112.1 722.2,112.6 722.2,113.1 722.3,113.6 722.3,114.1 722.4,114.6 722.4,115.1 722.5,115.6 722.5,116.1 722.6,116.6 722.6,117.1 722.7,117.6 722.7,118.1 722.8,118.6 722.8,119.1 722.9,119.6 723.0,120.1 723.0,120.6 723.1,121.1 723.1,121.6 723.1,122.1 723.2,122.6 723.2,123.1 723.2,123.6 723.3,124.1 723.3,124.6 723.3,125.1 723.3,125.6 723.3,126.1 723.3,126.6 723.3,127.1 723.2,127.6 723.2,128.1 723.2,128.6 723.1,129.1 723.1,129.6 723.0,130.1 722.9,130.6 722.9,131.1 722.8,131.6 722.7,132.1 722.7,132.6 722.6,133.1 722.6,133.6 722.5,134.1 722.4,134.6 722.4,135.1 722.4,135.6 722.3,136.1 722.3,136.6 722.3,137.1 722.2,137.6 722.2,138.1 722.2,138.6 722.2,139.1 722.2,139.6 722.3,140.1 722.3,140.6 722.3,141.1 722.3,141.6 722.4,142.1 722.4,142.6 722.4,143.1 722.5,143.6 722.5,144.1 722.6,144.6 722.6,145.1 722.7,145.6 722.7,146.1 722.8,146.6 722.8,147.1 722.9,147.6 722.9,148.1 723.0,148.6 723.0,149.1 723.1,149.6 723.1,150.1 723.2,150.6 723.2,151.1 723.3,151.6 723.3,152.1 723.3,152.6 723.4,153.1 723.4,153.6 723.4,154.1 723.5,154.6 723.5,155.1 723.5,155.6 723.5,156.1 723.5,156.6 723.5,157.1 723.5,157.6 723.5,158.1 723.4,158.6 723.4,159.1 723.4,159.6 723.3,160.1 723.3,160.6 723.2,161.1 723.1,161.6 723.1,162.1 723.0,162.6 723.0,163.1 722.9,163.6 722.8,164.1 722.8,164.6 722.7,165.1 722.6,165.6 722.6,166.1 722.5,166.6 722.5,167.1 722.4,167.6 722.4,168.1 722.3,168.6 722.3,169.1 722.3,169.6 722.2,170.1 722.2,170.6 722.2,171.1 722.2,171.6 722.2,172.1 722.2,172.6 722.2,173.1 722.2,173.6 722.2,174.1 722.2,174.6 722.2,175.1 722.2,175.6 722.2,176.1 722.2,176.6 722.2,177.1 722.2,177.6 722.2,178.1 722.2,178.6 722.2,179.1 722.2,179.6 722.2,180.1 722.2,180.6 722.2,181.1 722.2,181.6 722.2,182.1 722.2,182.6 722.2,183.1 722.2,183.6 722.2,184.1 722.2,184.6 722.2,185.1 722.2,185.6 722.2,186.1 722.2,186.6 722.2,187.1 722.2,187.6 722.2,188.1 722.2,188.6 722.2,189.1 722.2,189.6 722.2,190.1 722.2,190.6 722.2,191.1 722.3,191.6 722.3,192.1 722.4,192.6 722.5,193.1 722.6,193.6 722.7,194.1 722.8,194.6 722.9,195.1 723.0,195.6 723.1,196.1 723.2,196.6 723.3,197.1 723.5,197.6 723.6,198.1 723.7,198.6 723.8,199.1 723.9,199.6 723.9,200.1 724.0,200.6 724.1,201.1 724.2,201.6 724.2,202.1 724.3,202.6 724.4,203.1 724.5,203.6 724.5,204.1 724.6,204.6 724.7,205.1 724.7,205.6 724.8,206.1 724.9,206.6 724.9,207.1 724.9,207.6 725.0,208.1 725.0,208.6 725.0,209.1 725.0,209.6 725.0,210.1 725.0,210.6 725.0,211.1 724.9,211.6 724.9,212.1 724.9,212.6 724.8,213.1 724.7,213.6 724.7,214.1 724.6,214.6 724.5,215.1 724.4,215.6 724.4,216.1 724.3,216.6 724.2,217.1 724.1,217.6 724.0,218.1 723.8,218.6 723.7,219.1 723.5,219.6 723.3,220.1 723.2,220.6 723.1,221.1 723.1,221.6 723.1,222.1 723.1,222.6 723.1,223.1 723.1,223.6 723.1,224.1 723.1,224.6 723.1,225.1 723.1,225.6 723.2,226.1 723.3,226.6 723.4,227.1 723.5,227.6 723.7,228.1 723.8,228.6 723.9,229.1 724.1,229.6 724.2,230.1 724.4,230.6 724.5,231.1 724.7,231.6 724.9,232.1 725.0,232.6 725.2,233.1 725.4,233.6 725.6,234.1 725.7,234.6 725.9,235.1 726.0,235.6 726.2,236.1 726.3,236.6 726.5,237.1 726.7,237.6 726.8,238.1 727.0,238.6 727.2,239.1 727.4,239.6 727.6,240.1 727.8,240.6 728.0,241.1 728.2,241.6 728.4,242.1 728.6,242.6 728.8,243.1 729.0,243.6 729.2,244.1 729.4,244.6 729.6,245.1 729.9,245.6 730.1,246.1 730.3,246.6 730.5,247.1 730.7,247.6 730.9,248.1 731.1,248.6 731.3,249.1 731.5,249.6 731.6,250.1 731.8,250.6 731.9,251.1 732.1,251.6 732.2,252.1 732.3,252.6 732.5,253.1 732.6,253.6 732.7,254.1 732.8,254.6 732.9,255.1 733.0,255.6 733.1,256.1 733.2,256.6 733.3,257.1 733.4,257.6 733.5,258.1 733.7,258.6 733.8,259.1 733.9,259.6 734.0,260.1 734.2,260.6 734.3,261.1 734.5,261.6 734.6,262.1 734.8,262.6 734.9,263.1 735.1,263.6 735.3,264.1 735.5,264.6 735.7,265.1 735.9,265.6 736.1,266.1 736.3,266.6 736.5,267.1 736.7,267.6 737.0,268.1 737.2,268.6 737.4,269.1 737.6,269.6 737.8,270.1 738.1,270.6 738.3,271.1 738.5,271.6 738.8,272.1 739.1,272.6 739.4,273.1 739.7,273.6 740.1,274.1 740.4,274.6 740.9,275.1 741.3,275.6 741.8,276.1 742.3,276.6 742.8,277.1 743.3,277.6 743.8,278.1 744.4,278.6 745.0,279.1 745.6,279.6 746.3,280.1 747.0,280.6 747.7,281.1 748.5,281.6 749.3,282.1 750.2,282.6 751.1,283.1 752.2,283.6 753.2,284.1 754.4,284.6 755.5,285.1 756.6,285.6 757.7,286.1 758.8,286.6 760.0,287.1 761.1,287.6 762.4,288.1 763.6,288.6 764.9,289.1 766.3,289.6 767.7,290.1 769.0,290.6 770.4,291.1 771.7,291.6 773.1,292.1 774.4,292.6 775.7,293.1 777.0,293.6 778.4,294.1 779.7,294.6 781.1,295.1 782.4,295.6 783.8,296.1 785.1,296.6 786.3,297.1 787.5,297.6 788.6,298.1 789.8,298.6 790.9,299.1 792.0,299.6 793.1,300.1 794.1,300.6 795.2,301.1 796.2,301.6 797.2,302.1 798.2,302.6 799.2,303.1 800.1,303.6 801.0,304.1 802.0,304.6 802.9,305.1 803.8,305.6 804.6,306.1 805.5,306.6 806.3,307.1 807.0,307.6 807.8,308.1 808.5,308.6 809.2,309.1 809.9,309.6 810.5,310.1 811.1,310.6 811.8,311.1 812.4,311.6 813.0,312.1 813.5,312.6 813.9,313.1 814.2,313.6 814.5,314.1 814.7,314.6 814.9,315.1 815.1,315.6 815.2,316.1 815.2,316.6 815.2,317.1 815.1,317.6 814.9,318.1 814.8,318.6 814.6,319.1 814.3,319.6 814.1,320.1 813.9,320.6 813.7,321.1 813.4,321.6 813.0,322.1 812.7,322.6 812.3,323.1 811.9,323.6 811.6,324.1 811.2,324.6 810.9,325.1 810.5,325.6 810.1,326.1 809.8,326.6 809.4,327.1 809.0,327.6 808.7,328.1 808.3,328.6 808.0,329.1 807.7,329.6 807.4,330.1 807.1,330.6 806.9,331.1 806.6,331.6 806.3,332.1 806.1,332.6 805.7,333.1 805.4,333.6 805.0,334.1 804.6,334.6 804.1,335.1 803.6,335.6 803.0,336.1 802.4,336.6 801.8,337.1 801.1,337.6 800.4,338.1 799.6,338.6 798.8,339.1 797.8,339.6 796.7,340.1 795.6,340.6 794.3,341.1 793.1,341.6 791.8,342.1 790.6,342.6 789.3,343.1 788.0,343.6 786.6,344.1 785.2,344.6 783.9,345.1 782.5,345.6 781.2,346.1 779.8,346.6 778.4,347.1 777.1,347.6 775.9,348.1 774.6,348.6 773.4,349.1 772.3,349.6 771.1,350.1 770.0,350.6 768.9,351.1 767.7,351.6 766.6,352.1 765.4,352.6 764.3,353.1 763.2,353.6 762.1,354.1 760.9,354.6 759.8,355.1 758.6,355.6 757.5,356.1 756.3,356.6 755.2,357.1 754.1,357.6 753.0,358.1 751.9,358.6 750.9,359.1 749.9,359.6 748.9,360.1 747.9,360.6 746.9,361.1 745.9,361.6 744.9,362.1 743.9,362.6 742.8,363.1 741.8,363.6 740.7,364.1 739.7,364.6 738.8,365.1 737.8,365.6 737.0,366.1 736.2,366.6 735.4,367.1 734.6,367.6 733.8,368.1 733.1,368.6 732.4,369.1 731.8,369.6 731.2,370.1 730.6,370.6 730.1,371.1 729.5,371.6 729.0,372.1 728.5,372.6 728.2,373.1 727.8,373.6 727.5,374.1 727.2,374.6 727.0,375.1 726.7,375.6 726.5,376.1 726.3,376.6 726.2,377.1 726.0,377.6 725.8,378.1 725.7,378.6 725.5,379.1 725.4,379.6 725.3,380.1 725.1,380.6 725.0,381.1 724.9,381.6 724.8,382.1 724.8,382.6 724.7,383.1 724.7,383.6 724.6,384.1 724.6,384.6 724.6,385.1 724.6,385.6 724.5,386.1 724.5,386.6 724.5,387.1 724.5,387.6 724.5,388.1 724.4,388.6 724.4,389.1 724.4,389.6 724.3,390.1 724.3,390.6 724.3,391.1 724.2,391.6 724.2,392.1 724.2,392.6 724.2,393.1 724.1,393.6 724.1,394.1 724.1,394.6 724.1,395.1 724.1,395.6 724.1,396.1 724.1,396.6 724.1,397.1 724.1,397.6 724.1,398.1 724.1,398.6 724.1,399.1 724.1,399.6 724.1,400.1 724.1,400.6 724.1,401.1 724.1,401.6 724.1,402.1 724.1,402.6 724.0,403.1 723.9,403.6 723.8,404.1 723.7,404.6 723.6,405.1 723.6,405.6 723.5,406.1 723.4,406.6 723.4,407.1 723.3,407.6 723.2,408.1 723.2,408.6 723.1,409.1 723.1,409.6 723.0,410.1 722.9,410.6 722.9,411.1 722.8,411.6 722.8,412.1 722.7,412.6 722.7,413.1 722.6,413.6 722.6,414.1 722.5,414.6 722.5,415.1 722.4,415.6 722.4,416.1 722.4,416.6 722.3,417.1 722.3,417.6 722.2,418.1 722.2,418.6 722.2,419.1 722.1,419.6 722.1,420.1 722.0,420.6 722.0,421.1 722.0,421.6 721.9,422.1 721.9,422.6 721.9,423.1 721.8,423.6 721.8,424.1 721.8,424.6 721.8,425.1 721.8,425.6 721.8,426.1 721.8,426.6 721.8,427.1 721.8,427.6 721.8,428.1 721.8,428.6 721.8,429.1 721.8,429.6 721.8,430.1 721.8,430.1 721.8,429.6 721.8,429.1 721.8,428.6 721.8,428.1 721.8,427.6 721.8,427.1 721.8,426.6 721.8,426.1 721.8,425.6 721.8,425.1 721.8,424.6 721.8,424.1 721.8,423.6 721.7,423.1 721.7,422.6 721.7,422.1 721.6,421.6 721.6,421.1 721.6,420.6 721.5,420.1 721.5,419.6 721.4,419.1 721.4,418.6 721.4,418.1 721.3,417.6 721.3,417.1 721.2,416.6 721.2,416.1 721.2,415.6 721.1,415.1 721.1,414.6 721.0,414.1 721.0,413.6 720.9,413.1 720.9,412.6 720.8,412.1 720.8,411.6 720.7,411.1 720.7,410.6 720.6,410.1 720.5,409.6 720.5,409.1 720.4,408.6 720.4,408.1 720.3,407.6 720.2,407.1 720.2,406.6 720.1,406.1 720.0,405.6 720.0,405.1 719.9,404.6 719.8,404.1 719.7,403.6 719.6,403.1 719.5,402.6 719.5,402.1 719.5,401.6 719.5,401.1 719.5,400.6 719.5,400.1 719.5,399.6 719.5,399.1 719.5,398.6 719.5,398.1 719.5,397.6 719.5,397.1 719.5,396.6 719.5,396.1 719.5,395.6 719.5,395.1 719.5,394.6 719.5,394.1 719.5,393.6 719.4,393.1 719.4,392.6 719.4,392.1 719.4,391.6 719.3,391.1 719.3,390.6 719.3,390.1 719.2,389.6 719.2,389.1 719.2,388.6 719.1,388.1 719.1,387.6 719.1,387.1 719.1,386.6 719.1,386.1 719.0,385.6 719.0,385.1 719.0,384.6 719.0,384.1 718.9,383.6 718.9,383.1 718.8,382.6 718.8,382.1 718.7,381.6 718.6,381.1 718.5,380.6 718.3,380.1 718.2,379.6 718.1,379.1 717.9,378.6 717.8,378.1 717.6,377.6 717.4,377.1 717.3,376.6 717.1,376.1 716.9,375.6 716.6,375.1 716.4,374.6 716.1,374.1 715.8,373.6 715.4,373.1 715.1,372.6 714.6,372.1 714.1,371.6 713.5,371.1 713.0,370.6 712.4,370.1 711.8,369.6 711.2,369.1 710.5,368.6 709.8,368.1 709.0,367.6 708.2,367.1 707.4,366.6 706.6,366.1 705.8,365.6 704.8,365.1 703.9,364.6 702.9,364.1 701.8,363.6 700.8,363.1 699.7,362.6 698.7,362.1 697.7,361.6 696.7,361.1 695.7,360.6 694.7,360.1 693.7,359.6 692.7,359.1 691.7,358.6 690.6,358.1 689.5,357.6 688.4,357.1 687.3,356.6 686.1,356.1 685.0,355.6 683.8,355.1 682.7,354.6 681.5,354.1 680.4,353.6 679.3,353.1 678.2,352.6 677.0,352.1 675.9,351.6 674.7,351.1 673.6,350.6 672.5,350.1 671.3,349.6 670.2,349.1 669.0,348.6 667.7,348.1 666.5,347.6 665.2,347.1 663.8,346.6 662.4,346.1 661.1,345.6 659.7,345.1 658.4,344.6 657.0,344.1 655.6,343.6 654.3,343.1 653.0,342.6 651.8,342.1 650.5,341.6 649.3,341.1 648.0,340.6 646.9,340.1 645.8,339.6 644.8,339.1 644.0,338.6 643.2,338.1 642.5,337.6 641.8,337.1 641.2,336.6 640.6,336.1 640.0,335.6 639.5,335.1 639.0,334.6 638.6,334.1 638.2,333.6 637.9,333.1 637.5,332.6 637.3,332.1 637.0,331.6 636.7,331.1 636.5,330.6 636.2,330.1 635.9,329.6 635.6,329.1 635.3,328.6 634.9,328.1 634.6,327.6 634.2,327.1 633.8,326.6 633.5,326.1 633.1,325.6 632.7,325.1 632.4,324.6 632.0,324.1 631.7,323.6 631.3,323.1 630.9,322.6 630.6,322.1 630.2,321.6 629.9,321.1 629.7,320.6 629.5,320.1 629.3,319.6 629.0,319.1 628.8,318.6 628.7,318.1 628.5,317.6 628.4,317.1 628.4,316.6 628.4,316.1 628.5,315.6 628.7,315.1 628.9,314.6 629.1,314.1 629.4,313.6 629.7,313.1 630.1,312.6 630.6,312.1 631.2,311.6 631.8,311.1 632.5,310.6 633.1,310.1 633.7,309.6 634.4,309.1 635.1,308.6 635.8,308.1 636.6,307.6 637.3,307.1 638.1,306.6 639.0,306.1 639.8,305.6 640.7,305.1 641.6,304.6 642.6,304.1 643.5,303.6 644.4,303.1 645.4,302.6 646.4,302.1 647.4,301.6 648.4,301.1 649.5,300.6 650.5,300.1 651.6,299.6 652.7,299.1 653.8,298.6 655.0,298.1 656.1,297.6 657.3,297.1 658.5,296.6 659.8,296.1 661.2,295.6 662.5,295.1 663.9,294.6 665.2,294.1 666.6,293.6 667.9,293.1 669.2,292.6 670.5,292.1 671.9,291.6 673.2,291.1 674.6,290.6 675.9,290.1 677.3,289.6 678.7,289.1 680.0,288.6 681.2,288.1 682.5,287.6 683.6,287.1 684.8,286.6 685.9,286.1 687.0,285.6 688.1,285.1 689.2,284.6 690.4,284.1 691.4,283.6 692.5,283.1 693.4,282.6 694.3,282.1 695.1,281.6 695.9,281.1 696.6,280.6 697.3,280.1 698.0,279.6 698.6,279.1 699.2,278.6 699.8,278.1 700.3,277.6 700.8,277.1 701.3,276.6 701.8,276.1 702.3,275.6 702.7,275.1 703.2,274.6 703.5,274.1 703.9,273.6 704.2,273.1 704.5,272.6 704.8,272.1 705.1,271.6 705.3,271.1 705.5,270.6 705.8,270.1 706.0,269.6 706.2,269.1 706.4,268.6 706.6,268.1 706.9,267.6 707.1,267.1 707.3,266.6 707.5,266.1 707.7,265.6 707.9,265.1 708.1,264.6 708.3,264.1 708.5,263.6 708.7,263.1 708.8,262.6 709.0,262.1 709.1,261.6 709.3,261.1 709.4,260.6 709.6,260.1 709.7,259.6 709.8,259.1 709.9,258.6 710.1,258.1 710.2,257.6 710.3,257.1 710.4,256.6 710.5,256.1 710.6,255.6 710.7,255.1 710.8,254.6 710.9,254.1 711.0,253.6 711.1,253.1 711.3,252.6 711.4,252.1 711.5,251.6 711.7,251.1 711.8,250.6 712.0,250.1 712.1,249.6 712.3,249.1 712.5,248.6 712.7,248.1 712.9,247.6 713.1,247.1 713.3,246.6 713.5,246.1 713.7,245.6 714.0,245.1 714.2,244.6 714.4,244.1 714.6,243.6 714.8,243.1 715.0,242.6 715.2,242.1 715.4,241.6 715.6,241.1 715.8,240.6 716.0,240.1 716.2,239.6 716.4,239.1 716.6,238.6 716.8,238.1 716.9,237.6 717.1,237.1 717.3,236.6 717.4,236.1 717.6,235.6 717.7,235.1 717.9,234.6 718.0,234.1 718.2,233.6 718.4,233.1 718.6,232.6 718.7,232.1 718.9,231.6 719.1,231.1 719.2,230.6 719.4,230.1 719.5,229.6 719.7,229.1 719.8,228.6 719.9,228.1 720.1,227.6 720.2,227.1 720.3,226.6 720.4,226.1 720.5,225.6 720.5,225.1 720.5,224.6 720.5,224.1 720.5,223.6 720.5,223.1 720.5,222.6 720.5,222.1 720.5,221.6 720.5,221.1 720.4,220.6 720.3,220.1 720.1,219.6 719.9,219.1 719.8,218.6 719.6,218.1 719.5,217.6 719.4,217.1 719.3,216.6 719.2,216.1 719.2,215.6 719.1,215.1 719.0,214.6 718.9,214.1 718.9,213.6 718.8,213.1 718.7,212.6 718.7,212.1 718.7,211.6 718.6,211.1 718.6,210.6 718.6,210.1 718.6,209.6 718.6,209.1 718.6,208.6 718.6,208.1 718.7,207.6 718.7,207.1 718.7,206.6 718.8,206.1 718.9,205.6 718.9,205.1 719.0,204.6 719.1,204.1 719.1,203.6 719.2,203.1 719.3,202.6 719.4,202.1 719.4,201.6 719.5,201.1 719.6,200.6 719.7,200.1 719.7,199.6 719.8,199.1 719.9,198.6 720.0,198.1 720.1,197.6 720.3,197.1 720.4,196.6 720.5,196.1 720.6,195.6 720.7,195.1 720.8,194.6 720.9,194.1 721.0,193.6 721.1,193.1 721.2,192.6 721.3,192.1 721.3,191.6 721.4,191.1 721.4,190.6 721.4,190.1 721.4,189.6 721.4,189.1 721.4,188.6 721.4,188.1 721.4,187.6 721.4,187.1 721.4,186.6 721.4,186.1 721.4,185.6 721.4,185.1 721.4,184.6 721.4,184.1 721.4,183.6 721.4,183.1 721.4,182.6 721.4,182.1 721.4,181.6 721.4,181.1 721.4,180.6 721.4,180.1 721.4,179.6 721.4,179.1 721.4,178.6 721.4,178.1 721.4,177.6 721.4,177.1 721.4,176.6 721.4,176.1 721.4,175.6 721.4,175.1 721.4,174.6 721.4,174.1 721.4,173.6 721.4,173.1 721.4,172.6 721.4,172.1 721.4,171.6 721.4,171.1 721.4,170.6 721.4,170.1 721.3,169.6 721.3,169.1 721.3,168.6 721.2,168.1 721.2,167.6 721.1,167.1 721.1,166.6 721.0,166.1 721.0,165.6 720.9,165.1 720.8,164.6 720.8,164.1 720.7,163.6 720.6,163.1 720.6,162.6 720.5,162.1 720.5,161.6 720.4,161.1 720.3,160.6 720.3,160.1 720.2,159.6 720.2,159.1 720.2,158.6 720.1,158.1 720.1,157.6 720.1,157.1 720.1,156.6 720.1,156.1 720.1,155.6 720.1,155.1 720.1,154.6 720.2,154.1 720.2,153.6 720.2,153.1 720.3,152.6 720.3,152.1 720.3,151.6 720.4,151.1 720.4,150.6 720.5,150.1 720.5,149.6 720.6,149.1 720.6,148.6 720.7,148.1 720.7,147.6 720.8,147.1 720.8,146.6 720.9,146.1 720.9,145.6 721.0,145.1 721.0,144.6 721.1,144.1 721.1,143.6 721.2,143.1 721.2,142.6 721.2,142.1 721.3,141.6 721.3,141.1 721.3,140.6 721.3,140.1 721.4,139.6 721.4,139.1 721.4,138.6 721.4,138.1 721.4,137.6 721.3,137.1 721.3,136.6 721.3,136.1 721.2,135.6 721.2,135.1 721.2,134.6 721.1,134.1 721.0,133.6 721.0,133.1 720.9,132.6 720.9,132.1 720.8,131.6 720.7,131.1 720.7,130.6 720.6,130.1 720.5,129.6 720.5,129.1 720.4,128.6 720.4,128.1 720.4,127.6 720.3,127.1 720.3,126.6 720.3,126.1 720.3,125.6 720.3,125.1 720.3,124.6 720.3,124.1 720.4,123.6 720.4,123.1 720.4,122.6 720.5,122.1 720.5,121.6 720.5,121.1 720.6,120.6 720.6,120.1 720.7,119.6 720.8,119.1 720.8,118.6 720.9,118.1 720.9,117.6 721.0,117.1 721.0,116.6 721.1,116.1 721.1,115.6 721.2,115.1 721.2,114.6 721.3,114.1 721.3,113.6 721.4,113.1 721.4,112.6 721.5,112.1 721.5,111.6 721.5,111.1 721.6,110.6 721.6,110.1 721.6,109.6 721.7,109.1 721.7,108.6 721.8,108.1 721.8,107.6 721.8,107.1 721.8,106.6 721.8,106.1 721.8,105.6 721.8,105.1 721.8,104.6 721.8,104.1 721.8,103.6 721.8,103.1Z" fill="#00AFBB" stroke="#000" stroke-width="1.60" stroke-linejoin="round"/>
<line x1="721.80" y1="249.30" x2="721.80" y2="384.00" stroke="#000" stroke-width="1.50"/>
<circle cx="721.80" cy="125.70" r="2.50" fill="#000"/>
<circle cx="721.80" cy="156.60" r="2.50" fill="#000"/>
<circle cx="721.80" cy="206.50" r="2.50" fill="#000"/>
<circle cx="721.80" cy="212.00" r="2.50" fill="#000"/>
<circle cx="721.80" cy="240.50" r="2.20" fill="#000"/>
<circle cx="721.80" cy="244.50" r="2.20" fill="#000"/>
<circle cx="721.80" cy="391.50" r="2.50" fill="#000"/>
<circle cx="721.80" cy="400.00" r="2.50" fill="#000"/>
<circle cx="721.80" cy="403.50" r="2.50" fill="#000"/>
<rect x="703.30" y="301.50" width="37.60" height="34.60" fill="#fff" stroke="#000" stroke-width="1.50"/>
<line x1="703.30" y1="317.80" x2="740.90" y2="317.80" stroke="#000" stroke-width="3.00"/>
<path d="M908.5,45.0 908.5,45.5 908.5,46.0 908.5,46.5 908.5,47.0 908.5,47.5 908.6,48.0 908.7,48.5 908.7,49.0 908.8,49.5 908.8,50.0 908.9,50.5 908.9,51.0 909.0,51.5 909.0,52.0 909.1,52.5 909.1,53.0 909.1,53.5 909.2,54.0 909.2,54.5 909.3,55.0 909.3,55.5 909.4,56.0 909.4,56.5 909.4,57.0 909.5,57.5 909.5,58.0 909.6,58.5 909.6,59.0 909.6,59.5 909.7,60.0 909.7,60.5 909.8,61.0 909.8,61.5 909.9,62.0 909.9,62.5 910.0,63.0 910.0,63.5 910.0,64.0 910.1,64.5 910.1,65.0 910.2,65.5 910.2,66.0 910.2,66.5 910.3,67.0 910.3,67.5 910.4,68.0 910.4,68.5 910.5,69.0 910.5,69.5 910.5,70.0 910.6,70.5 910.6,71.0 910.7,71.5 910.7,72.0 910.8,72.5 910.8,73.0 910.8,73.5 910.8,74.0 910.8,74.5 910.8,75.0 910.8,75.5 910.8,76.0 910.7,76.5 910.7,77.0 910.7,77.5 910.6,78.0 910.6,78.5 910.5,79.0 910.5,79.5 910.4,80.0 910.4,80.5 910.4,81.0 910.3,81.5 910.3,82.0 910.3,82.5 910.3,83.0 910.2,83.5 910.2,84.0 910.2,84.5 910.2,85.0 910.1,85.5 910.1,86.0 910.1,86.5 910.1,87.0 910.0,87.5 910.0,88.0 910.0,88.5 909.9,89.0 909.9,89.5 909.9,90.0 909.8,90.5 909.8,91.0 909.8,91.5 909.7,92.0 909.7,92.5 909.7,93.0 909.6,93.5 909.6,94.0 909.6,94.5 909.5,95.0 909.5,95.5 909.5,96.0 909.4,96.5 909.4,97.0 909.3,97.5 909.3,98.0 909.2,98.5 909.2,99.0 909.1,99.5 909.1,100.0 909.1,100.5 909.0,101.0 909.0,101.5 909.0,102.0 908.9,102.5 908.9,103.0 908.9,103.5 908.9,104.0 908.9,104.5 908.9,105.0 908.9,105.5 908.9,106.0 908.9,106.5 908.9,107.0 908.9,107.5 908.9,108.0 908.9,108.5 908.9,109.0 908.9,109.5 908.9,110.0 908.9,110.5 908.9,111.0 908.9,111.5 908.9,112.0 908.9,112.5 908.9,113.0 908.9,113.5 908.9,114.0 908.9,114.5 908.9,115.0 908.9,115.5 908.9,116.0 909.0,116.5 909.0,117.0 909.0,117.5 909.0,118.0 909.1,118.5 909.1,119.0 909.1,119.5 909.2,120.0 909.2,120.5 909.3,121.0 909.3,121.5 909.4,122.0 909.4,122.5 909.5,123.0 909.5,123.5 909.6,124.0 909.6,124.5 909.7,125.0 909.7,125.5 909.7,126.0 909.7,126.5 909.8,127.0 909.8,127.5 909.8,128.0 909.8,128.5 909.8,129.0 909.8,129.5 909.8,130.0 909.7,130.5 909.7,131.0 909.7,131.5 909.6,132.0 909.6,132.5 909.5,133.0 909.4,133.5 909.4,134.0 909.3,134.5 909.3,135.0 909.2,135.5 909.2,136.0 909.1,136.5 909.1,137.0 909.0,137.5 909.0,138.0 909.0,138.5 908.9,139.0 908.9,139.5 908.9,140.0 908.9,140.5 908.9,141.0 908.9,141.5 908.9,142.0 908.9,142.5 908.9,143.0 908.9,143.5 908.9,144.0 908.9,144.5 908.9,145.0 908.9,145.5 908.9,146.0 908.9,146.5 908.9,147.0 908.9,147.5 908.9,148.0 908.9,148.5 908.9,149.0 908.9,149.5 908.9,150.0 908.9,150.5 908.9,151.0 908.9,151.5 908.9,152.0 908.9,152.5 908.9,153.0 908.9,153.5 908.9,154.0 908.9,154.5 909.0,155.0 909.0,155.5 909.0,156.0 909.1,156.5 909.1,157.0 909.2,157.5 909.2,158.0 909.3,158.5 909.4,159.0 909.4,159.5 909.5,160.0 909.6,160.5 909.7,161.0 909.7,161.5 909.8,162.0 909.9,162.5 910.0,163.0 910.0,163.5 910.1,164.0 910.1,164.5 910.2,165.0 910.2,165.5 910.3,166.0 910.4,166.5 910.4,167.0 910.5,167.5 910.5,168.0 910.6,168.5 910.6,169.0 910.7,169.5 910.7,170.0 910.7,170.5 910.8,171.0 910.8,171.5 910.8,172.0 910.8,172.5 910.8,173.0 910.8,173.5 910.8,174.0 910.8,174.5 910.8,175.0 910.8,175.5 910.8,176.0 910.8,176.5 910.8,177.0 910.8,177.5 910.8,178.0 910.8,178.5 910.8,179.0 910.8,179.5 910.8,180.0 910.8,180.5 910.8,181.0 910.8,181.5 910.8,182.0 910.8,182.5 910.8,183.0 910.8,183.5 910.8,184.0 910.8,184.5 910.8,185.0 910.9,185.5 910.9,186.0 910.9,186.5 910.9,187.0 910.9,187.5 910.9,188.0 911.0,188.5 911.0,189.0 911.0,189.5 911.0,190.0 911.1,190.5 911.1,191.0 911.1,191.5 911.2,192.0 911.2,192.5 911.2,193.0 911.2,193.5 911.2,194.0 911.3,194.5 911.3,195.0 911.3,195.5 911.3,196.0 911.3,196.5 911.3,197.0 911.2,197.5 911.2,198.0 911.2,198.5 911.1,199.0 911.1,199.5 911.0,200.0 911.0,200.5 911.0,201.0 910.9,201.5 910.9,202.0 910.9,202.5 910.9,203.0 910.8,203.5 910.8,204.0 910.8,204.5 910.8,205.0 910.9,205.5 910.9,206.0 910.9,206.5 910.9,207.0 910.9,207.5 910.9,208.0 910.9,208.5 910.9,209.0 910.9,209.5 911.0,210.0 911.0,210.5 911.0,211.0 911.0,211.5 911.1,212.0 911.2,212.5 911.2,213.0 911.3,213.5 911.4,214.0 911.5,214.5 911.6,215.0 911.8,215.5 912.0,216.0 912.3,216.5 912.7,217.0 913.1,217.5 913.5,218.0 913.9,218.5 914.3,219.0 914.7,219.5 915.1,220.0 915.4,220.5 915.8,221.0 916.2,221.5 916.6,222.0 916.9,222.5 917.3,223.0 917.6,223.5 917.9,224.0 918.2,224.5 918.5,225.0 918.8,225.5 919.0,226.0 919.3,226.5 919.5,227.0 919.8,227.5 919.9,228.0 920.1,228.5 920.2,229.0 920.4,229.5 920.5,230.0 920.6,230.5 920.7,231.0 920.8,231.5 920.9,232.0 921.0,232.5 921.0,233.0 921.0,233.5 921.0,234.0 921.0,234.5 920.9,235.0 920.9,235.5 920.8,236.0 920.8,236.5 920.7,237.0 920.7,237.5 920.6,238.0 920.6,238.5 920.5,239.0 920.4,239.5 920.3,240.0 920.1,240.5 920.0,241.0 919.9,241.5 919.8,242.0 919.7,242.5 919.6,243.0 919.5,243.5 919.5,244.0 919.4,244.5 919.3,245.0 919.3,245.5 919.2,246.0 919.2,246.5 919.1,247.0 919.1,247.5 919.1,248.0 919.1,248.5 919.2,249.0 919.2,249.5 919.3,250.0 919.4,250.5 919.5,251.0 919.6,251.5 919.7,252.0 919.8,252.5 920.0,253.0 920.3,253.5 920.6,254.0 920.9,254.5 921.2,255.0 921.5,255.5 921.8,256.0 922.2,256.5 922.6,257.0 923.1,257.5 923.5,258.0 924.0,258.5 924.5,259.0 925.0,259.5 925.5,260.0 926.1,260.5 926.7,261.0 927.4,261.5 928.0,262.0 928.7,262.5 929.3,263.0 930.0,263.5 930.6,264.0 931.3,264.5 932.0,265.0 932.6,265.5 933.3,266.0 934.0,266.5 934.7,267.0 935.4,267.5 936.0,268.0 936.7,268.5 937.4,269.0 938.0,269.5 938.7,270.0 939.3,270.5 940.0,271.0 940.6,271.5 941.3,272.0 942.0,272.5 942.6,273.0 943.3,273.5 944.0,274.0 944.7,274.5 945.3,275.0 946.0,275.5 946.7,276.0 947.4,276.5 948.0,277.0 948.7,277.5 949.3,278.0 950.0,278.5 950.6,279.0 951.3,279.5 952.0,280.0 952.7,280.5 953.5,281.0 954.3,281.5 955.2,282.0 956.1,282.5 956.9,283.0 957.9,283.5 958.8,284.0 959.7,284.5 960.6,285.0 961.6,285.5 962.5,286.0 963.5,286.5 964.5,287.0 965.6,287.5 966.6,288.0 967.7,288.5 968.8,289.0 970.0,289.5 971.2,290.0 972.4,290.5 973.7,291.0 975.1,291.5 976.5,292.0 978.0,292.5 979.4,293.0 980.7,293.5 981.9,294.0 983.1,294.5 984.3,295.0 985.4,295.5 986.5,296.0 987.6,296.5 988.6,297.0 989.6,297.5 990.6,298.0 991.6,298.5 992.5,299.0 993.4,299.5 994.3,300.0 995.2,300.5 996.0,301.0 996.8,301.5 997.4,302.0 998.1,302.5 998.7,303.0 999.2,303.5 999.8,304.0 1000.2,304.5 1000.5,305.0 1000.8,305.5 1001.0,306.0 1001.2,306.5 1001.4,307.0 1001.5,307.5 1001.6,308.0 1001.6,308.5 1001.6,309.0 1001.5,309.5 1001.5,310.0 1001.4,310.5 1001.3,311.0 1001.3,311.5 1001.2,312.0 1001.0,312.5 1000.8,313.0 1000.5,313.5 1000.2,314.0 999.8,314.5 999.5,315.0 999.1,315.5 998.7,316.0 998.3,316.5 997.9,317.0 997.4,317.5 996.9,318.0 996.3,318.5 995.7,319.0 995.2,319.5 994.5,320.0 993.8,320.5 993.1,321.0 992.3,321.5 991.5,322.0 990.7,322.5 989.9,323.0 989.1,323.5 988.3,324.0 987.4,324.5 986.5,325.0 985.6,325.5 984.7,326.0 983.7,326.5 982.8,327.0 981.9,327.5 980.9,328.0 979.9,328.5 978.9,329.0 977.9,329.5 976.9,330.0 975.9,330.5 974.9,331.0 973.9,331.5 972.9,332.0 971.9,332.5 970.9,333.0 969.9,333.5 968.9,334.0 967.8,334.5 966.8,335.0 965.6,335.5 964.5,336.0 963.4,336.5 962.2,337.0 961.1,337.5 959.9,338.0 958.8,338.5 957.6,339.0 956.5,339.5 955.3,340.0 954.2,340.5 953.0,341.0 951.9,341.5 950.8,342.0 949.6,342.5 948.4,343.0 947.3,343.5 946.2,344.0 945.1,344.5 944.0,345.0 943.0,345.5 941.9,346.0 940.9,346.5 940.0,347.0 939.0,347.5 938.1,348.0 937.1,348.5 936.2,349.0 935.2,349.5 934.3,350.0 933.4,350.5 932.5,351.0 931.7,351.5 930.9,352.0 930.1,352.5 929.4,353.0 928.6,353.5 928.0,354.0 927.3,354.5 926.7,355.0 926.0,355.5 925.5,356.0 924.9,356.5 924.4,357.0 923.9,357.5 923.4,358.0 922.9,358.5 922.4,359.0 921.9,359.5 921.5,360.0 921.1,360.5 920.7,361.0 920.3,361.5 920.0,362.0 919.6,362.5 919.3,363.0 918.9,363.5 918.6,364.0 918.3,364.5 918.0,365.0 917.8,365.5 917.5,366.0 917.2,366.5 917.0,367.0 916.8,367.5 916.6,368.0 916.3,368.5 916.1,369.0 915.9,369.5 915.7,370.0 915.6,370.5 915.4,371.0 915.2,371.5 915.0,372.0 914.8,372.5 914.5,373.0 914.3,373.5 914.0,374.0 913.8,374.5 913.5,375.0 913.3,375.5 913.1,376.0 912.8,376.5 912.6,377.0 912.4,377.5 912.2,378.0 912.1,378.5 911.9,379.0 911.7,379.5 911.5,380.0 911.3,380.5 911.2,381.0 911.0,381.5 910.8,382.0 910.7,382.5 910.5,383.0 910.4,383.5 910.2,384.0 910.1,384.5 910.0,385.0 909.8,385.5 909.7,386.0 909.6,386.5 909.5,387.0 909.4,387.5 909.3,388.0 909.2,388.5 909.1,389.0 909.0,389.5 908.9,390.0 908.9,390.5 908.8,391.0 908.7,391.5 908.7,392.0 908.6,392.5 908.6,393.0 908.5,393.5 908.5,394.0 908.5,394.5 908.5,395.0 908.5,395.5 908.5,396.0 908.5,396.5 908.5,397.0 908.5,397.5 908.5,398.0 908.5,398.5 908.5,399.0 908.5,399.5 908.5,400.0 908.5,400.5 908.5,401.0 908.5,401.5 908.5,402.0 908.5,402.0 908.5,401.5 908.5,401.0 908.5,400.5 908.5,400.0 908.5,399.5 908.5,399.0 908.5,398.5 908.5,398.0 908.5,397.5 908.5,397.0 908.5,396.5 908.5,396.0 908.5,395.5 908.5,395.0 908.5,394.5 908.5,394.0 908.5,393.5 908.4,393.0 908.4,392.5 908.3,392.0 908.3,391.5 908.2,391.0 908.1,390.5 908.1,390.0 908.0,389.5 907.9,389.0 907.8,388.5 907.7,388.0 907.6,387.5 907.5,387.0 907.4,386.5 907.3,386.0 907.2,385.5 907.0,385.0 906.9,384.5 906.8,384.0 906.6,383.5 906.5,383.0 906.3,382.5 906.2,382.0 906.0,381.5 905.8,381.0 905.7,380.5 905.5,380.0 905.3,379.5 905.1,379.0 904.9,378.5 904.8,378.0 904.6,377.5 904.4,377.0 904.2,376.5 903.9,376.0 903.7,375.5 903.5,375.0 903.2,374.5 903.0,374.0 902.7,373.5 902.5,373.0 902.2,372.5 902.0,372.0 901.8,371.5 901.6,371.0 901.4,370.5 901.3,370.0 901.1,369.5 900.9,369.0 900.7,368.5 900.4,368.0 900.2,367.5 900.0,367.0 899.8,366.5 899.5,366.0 899.2,365.5 899.0,365.0 898.7,364.5 898.4,364.0 898.1,363.5 897.7,363.0 897.4,362.5 897.0,362.0 896.7,361.5 896.3,361.0 895.9,360.5 895.5,360.0 895.1,359.5 894.6,359.0 894.1,358.5 893.6,358.0 893.1,357.5 892.6,357.0 892.1,356.5 891.5,356.0 891.0,355.5 890.3,355.0 889.7,354.5 889.0,354.0 888.4,353.5 887.6,353.0 886.9,352.5 886.1,352.0 885.3,351.5 884.5,351.0 883.6,350.5 882.7,350.0 881.8,349.5 880.8,349.0 879.9,348.5 878.9,348.0 878.0,347.5 877.0,347.0 876.1,346.5 875.1,346.0 874.0,345.5 873.0,345.0 871.9,344.5 870.8,344.0 869.7,343.5 868.6,343.0 867.4,342.5 866.2,342.0 865.1,341.5 864.0,341.0 862.8,340.5 861.7,340.0 860.5,339.5 859.4,339.0 858.2,338.5 857.1,338.0 855.9,337.5 854.8,337.0 853.6,336.5 852.5,336.0 851.4,335.5 850.2,335.0 849.2,334.5 848.1,334.0 847.1,333.5 846.1,333.0 845.1,332.5 844.1,332.0 843.1,331.5 842.1,331.0 841.1,330.5 840.1,330.0 839.1,329.5 838.1,329.0 837.1,328.5 836.1,328.0 835.1,327.5 834.2,327.0 833.3,326.5 832.3,326.0 831.4,325.5 830.5,325.0 829.6,324.5 828.7,324.0 827.9,323.5 827.1,323.0 826.3,322.5 825.5,322.0 824.7,321.5 823.9,321.0 823.2,320.5 822.5,320.0 821.8,319.5 821.3,319.0 820.7,318.5 820.1,318.0 819.6,317.5 819.1,317.0 818.7,316.5 818.3,316.0 817.9,315.5 817.5,315.0 817.2,314.5 816.8,314.0 816.5,313.5 816.2,313.0 816.0,312.5 815.8,312.0 815.7,311.5 815.7,311.0 815.6,310.5 815.5,310.0 815.5,309.5 815.4,309.0 815.4,308.5 815.4,308.0 815.5,307.5 815.6,307.0 815.8,306.5 816.0,306.0 816.2,305.5 816.5,305.0 816.8,304.5 817.2,304.0 817.8,303.5 818.3,303.0 818.9,302.5 819.6,302.0 820.2,301.5 821.0,301.0 821.8,300.5 822.7,300.0 823.6,299.5 824.5,299.0 825.4,298.5 826.4,298.0 827.4,297.5 828.4,297.0 829.4,296.5 830.5,296.0 831.6,295.5 832.7,295.0 833.9,294.5 835.1,294.0 836.3,293.5 837.6,293.0 839.0,292.5 840.5,292.0 841.9,291.5 843.3,291.0 844.6,290.5 845.8,290.0 847.0,289.5 848.2,289.0 849.3,288.5 850.4,288.0 851.4,287.5 852.5,287.0 853.5,286.5 854.5,286.0 855.4,285.5 856.4,285.0 857.3,284.5 858.2,284.0 859.1,283.5 860.1,283.0 860.9,282.5 861.8,282.0 862.7,281.5 863.5,281.0 864.3,280.5 865.0,280.0 865.7,279.5 866.4,279.0 867.0,278.5 867.7,278.0 868.3,277.5 869.0,277.0 869.6,276.5 870.3,276.0 871.0,275.5 871.7,275.0 872.3,274.5 873.0,274.0 873.7,273.5 874.4,273.0 875.0,272.5 875.7,272.0 876.4,271.5 877.0,271.0 877.7,270.5 878.3,270.0 879.0,269.5 879.6,269.0 880.3,268.5 881.0,268.0 881.6,267.5 882.3,267.0 883.0,266.5 883.7,266.0 884.4,265.5 885.0,265.0 885.7,264.5 886.4,264.0 887.0,263.5 887.7,263.0 888.3,262.5 889.0,262.0 889.6,261.5 890.3,261.0 890.9,260.5 891.5,260.0 892.0,259.5 892.5,259.0 893.0,258.5 893.5,258.0 893.9,257.5 894.4,257.0 894.8,256.5 895.2,256.0 895.5,255.5 895.8,255.0 896.1,254.5 896.4,254.0 896.7,253.5 897.0,253.0 897.2,252.5 897.3,252.0 897.4,251.5 897.5,251.0 897.6,250.5 897.7,250.0 897.8,249.5 897.8,249.0 897.9,248.5 897.9,248.0 897.9,247.5 897.9,247.0 897.8,246.5 897.8,246.0 897.7,245.5 897.7,245.0 897.6,244.5 897.5,244.0 897.5,243.5 897.4,243.0 897.3,242.5 897.2,242.0 897.1,241.5 897.0,241.0 896.9,240.5 896.7,240.0 896.6,239.5 896.5,239.0 896.4,238.5 896.4,238.0 896.3,237.5 896.3,237.0 896.2,236.5 896.2,236.0 896.1,235.5 896.1,235.0 896.0,234.5 896.0,234.0 896.0,233.5 896.0,233.0 896.0,232.5 896.1,232.0 896.2,231.5 896.3,231.0 896.4,230.5 896.5,230.0 896.6,229.5 896.8,229.0 896.9,228.5 897.1,228.0 897.2,227.5 897.5,227.0 897.7,226.5 898.0,226.0 898.2,225.5 898.5,225.0 898.8,224.5 899.1,224.0 899.4,223.5 899.7,223.0 900.1,222.5 900.4,222.0 900.8,221.5 901.2,221.0 901.6,220.5 901.9,220.0 902.3,219.5 902.7,219.0 903.1,218.5 903.5,218.0 903.9,217.5 904.3,217.0 904.7,216.5 905.0,216.0 905.2,215.5 905.4,215.0 905.5,214.5 905.6,214.0 905.7,213.5 905.8,213.0 905.8,212.5 905.9,212.0 906.0,211.5 906.0,211.0 906.0,210.5 906.0,210.0 906.1,209.5 906.1,209.0 906.1,208.5 906.1,208.0 906.1,207.5 906.1,207.0 906.1,206.5 906.1,206.0 906.1,205.5 906.2,205.0 906.2,204.5 906.2,204.0 906.2,203.5 906.1,203.0 906.1,202.5 906.1,202.0 906.1,201.5 906.0,201.0 906.0,200.5 906.0,200.0 905.9,199.5 905.9,199.0 905.8,198.5 905.8,198.0 905.8,197.5 905.7,197.0 905.7,196.5 905.7,196.0 905.7,195.5 905.7,195.0 905.7,194.5 905.8,194.0 905.8,193.5 905.8,193.0 905.8,192.5 905.8,192.0 905.9,191.5 905.9,191.0 905.9,190.5 906.0,190.0 906.0,189.5 906.0,189.0 906.0,188.5 906.1,188.0 906.1,187.5 906.1,187.0 906.1,186.5 906.1,186.0 906.1,185.5 906.2,185.0 906.2,184.5 906.2,184.0 906.2,183.5 906.2,183.0 906.2,182.5 906.2,182.0 906.2,181.5 906.2,181.0 906.2,180.5 906.2,180.0 906.2,179.5 906.2,179.0 906.2,178.5 906.2,178.0 906.2,177.5 906.2,177.0 906.2,176.5 906.2,176.0 906.2,175.5 906.2,175.0 906.2,174.5 906.2,174.0 906.2,173.5 906.2,173.0 906.2,172.5 906.2,172.0 906.2,171.5 906.2,171.0 906.3,170.5 906.3,170.0 906.3,169.5 906.4,169.0 906.4,168.5 906.5,168.0 906.5,167.5 906.6,167.0 906.6,166.5 906.7,166.0 906.8,165.5 906.8,165.0 906.9,164.5 906.9,164.0 907.0,163.5 907.0,163.0 907.1,162.5 907.2,162.0 907.3,161.5 907.3,161.0 907.4,160.5 907.5,160.0 907.6,159.5 907.6,159.0 907.7,158.5 907.8,158.0 907.8,157.5 907.9,157.0 907.9,156.5 908.0,156.0 908.0,155.5 908.0,155.0 908.1,154.5 908.1,154.0 908.1,153.5 908.1,153.0 908.1,152.5 908.1,152.0 908.1,151.5 908.1,151.0 908.1,150.5 908.1,150.0 908.1,149.5 908.1,149.0 908.1,148.5 908.1,148.0 908.1,147.5 908.1,147.0 908.1,146.5 908.1,146.0 908.1,145.5 908.1,145.0 908.1,144.5 908.1,144.0 908.1,143.5 908.1,143.0 908.1,142.5 908.1,142.0 908.1,141.5 908.1,141.0 908.1,140.5 908.1,140.0 908.1,139.5 908.1,139.0 908.0,138.5 908.0,138.0 908.0,137.5 907.9,137.0 907.9,136.5 907.8,136.0 907.8,135.5 907.7,135.0 907.7,134.5 907.6,134.0 907.6,133.5 907.5,133.0 907.4,132.5 907.4,132.0 907.3,131.5 907.3,131.0 907.3,130.5 907.2,130.0 907.2,129.5 907.2,129.0 907.2,128.5 907.2,128.0 907.2,127.5 907.2,127.0 907.3,126.5 907.3,126.0 907.3,125.5 907.3,125.0 907.4,124.5 907.4,124.0 907.5,123.5 907.5,123.0 907.6,122.5 907.6,122.0 907.7,121.5 907.7,121.0 907.8,120.5 907.8,120.0 907.9,119.5 907.9,119.0 907.9,118.5 908.0,118.0 908.0,117.5 908.0,117.0 908.0,116.5 908.1,116.0 908.1,115.5 908.1,115.0 908.1,114.5 908.1,114.0 908.1,113.5 908.1,113.0 908.1,112.5 908.1,112.0 908.1,111.5 908.1,111.0 908.1,110.5 908.1,110.0 908.1,109.5 908.1,109.0 908.1,108.5 908.1,108.0 908.1,107.5 908.1,107.0 908.1,106.5 908.1,106.0 908.1,105.5 908.1,105.0 908.1,104.5 908.1,104.0 908.1,103.5 908.1,103.0 908.1,102.5 908.0,102.0 908.0,101.5 908.0,101.0 907.9,100.5 907.9,100.0 907.9,99.5 907.8,99.0 907.8,98.5 907.7,98.0 907.7,97.5 907.6,97.0 907.6,96.5 907.5,96.0 907.5,95.5 907.5,95.0 907.4,94.5 907.4,94.0 907.4,93.5 907.3,93.0 907.3,92.5 907.3,92.0 907.2,91.5 907.2,91.0 907.2,90.5 907.1,90.0 907.1,89.5 907.1,89.0 907.0,88.5 907.0,88.0 907.0,87.5 906.9,87.0 906.9,86.5 906.9,86.0 906.9,85.5 906.8,85.0 906.8,84.5 906.8,84.0 906.8,83.5 906.7,83.0 906.7,82.5 906.7,82.0 906.7,81.5 906.6,81.0 906.6,80.5 906.6,80.0 906.5,79.5 906.5,79.0 906.4,78.5 906.4,78.0 906.3,77.5 906.3,77.0 906.3,76.5 906.2,76.0 906.2,75.5 906.2,75.0 906.2,74.5 906.2,74.0 906.2,73.5 906.2,73.0 906.2,72.5 906.3,72.0 906.3,71.5 906.4,71.0 906.4,70.5 906.5,70.0 906.5,69.5 906.5,69.0 906.6,68.5 906.6,68.0 906.7,67.5 906.7,67.0 906.8,66.5 906.8,66.0 906.8,65.5 906.9,65.0 906.9,64.5 907.0,64.0 907.0,63.5 907.0,63.0 907.1,62.5 907.1,62.0 907.2,61.5 907.2,61.0 907.3,60.5 907.3,60.0 907.4,59.5 907.4,59.0 907.4,58.5 907.5,58.0 907.5,57.5 907.6,57.0 907.6,56.5 907.6,56.0 907.7,55.5 907.7,55.0 907.8,54.5 907.8,54.0 907.9,53.5 907.9,53.0 907.9,52.5 908.0,52.0 908.0,51.5 908.1,51.0 908.1,50.5 908.2,50.0 908.2,49.5 908.3,49.0 908.3,48.5 908.4,48.0 908.5,47.5 908.5,47.0 908.5,46.5 908.5,46.0 908.5,45.5 908.5,45.0Z" fill="#E7B800" stroke="#000" stroke-width="1.60" stroke-linejoin="round"/>
<line x1="908.50" y1="234.30" x2="908.50" y2="377.20" stroke="#000" stroke-width="1.50"/>
<line x1="908.50" y1="36.20" x2="908.50" y2="48.00" stroke="#000" stroke-width="1.30"/>
<circle cx="908.50" cy="70.00" r="2.50" fill="#000"/>
<circle cx="908.50" cy="78.50" r="2.50" fill="#000"/>
<circle cx="908.50" cy="88.00" r="2.50" fill="#000"/>
<circle cx="908.50" cy="128.50" r="2.50" fill="#000"/>
<circle cx="908.50" cy="168.00" r="2.50" fill="#000"/>
<circle cx="908.50" cy="174.00" r="2.50" fill="#000"/>
<circle cx="908.50" cy="181.00" r="2.50" fill="#000"/>
<circle cx="908.50" cy="188.00" r="2.50" fill="#000"/>
<circle cx="908.50" cy="194.00" r="2.50" fill="#000"/>
<circle cx="908.50" cy="200.00" r="2.50" fill="#000"/>
<circle cx="908.50" cy="219.80" r="2.10" fill="#000"/>
<circle cx="908.50" cy="226.00" r="2.20" fill="#000"/>
<circle cx="908.50" cy="230.00" r="2.20" fill="#000"/>
<rect x="889.50" y="287.40" width="37.90" height="36.30" fill="#fff" stroke="#000" stroke-width="1.50"/>
<line x1="889.50" y1="306.10" x2="927.40" y2="306.10" stroke="#000" stroke-width="3.00"/>
<path d="M721.80,54.00 V43.30 H908.50 V43.30" fill="none" stroke="#1a1a1a" stroke-width="1.20"/>
<text transform="translate(825.90,39.30) scale(0.950,1.040)" font-size="39.00" x="-74.20 -51.65 -39.96 -17.13 5.73 29.68 52.51">2.7e−07</text>
<path d="M610.30,17.00 V448.90 H1020.50" fill="none" stroke="#1c1c1c" stroke-width="1.90" stroke-linecap="butt" stroke-linejoin="round"/>
<line x1="606.70" y1="128.80" x2="610.30" y2="128.80" stroke="#000" stroke-width="1.90"/>
<text transform="translate(602.70,140.20) scale(0.950,1.040)" font-size="39.00" x="-45.09 -22.26">10</text>
<line x1="606.70" y1="258.30" x2="610.30" y2="258.30" stroke="#000" stroke-width="1.90"/>
<text transform="translate(602.70,269.90) scale(0.950,1.040)" font-size="39.00" x="-22.26">0</text>
<line x1="606.70" y1="387.80" x2="610.30" y2="387.80" stroke="#000" stroke-width="1.90"/>
<text transform="translate(604.10,398.20) scale(0.950,1.040)" font-size="39.00" x="-69.04 -45.09 -22.26">−10</text>
<line x1="721.80" y1="448.90" x2="721.80" y2="452.50" stroke="#000" stroke-width="1.90"/>
<line x1="908.60" y1="448.90" x2="908.60" y2="452.50" stroke="#000" stroke-width="1.90"/>
<text transform="translate(816.80,492.45) scale(0.950,1.012)" font-size="39.00" x="-87.16 -59.90 -37.12 -16.88 -7.76 1.42 13.11 35.88 56.47 78.96">Paclitaxel</text>
<text transform="translate(554.10,208.30) rotate(-90) scale(0.950,1.030)" font-size="39.00" x="-95.61 -86.14 -63.31 -40.48 -17.88 -4.27 7.60 37.07 59.90 82.51">log2(IC50)</text>
</g>
<g>
<path d="M1194.4,65.4 1194.4,65.9 1194.4,66.4 1194.4,66.9 1194.4,67.4 1194.4,67.9 1194.4,68.4 1194.4,68.9 1194.4,69.4 1194.4,69.9 1194.4,70.4 1194.4,70.9 1194.4,71.4 1194.4,71.9 1194.5,72.4 1194.5,72.9 1194.5,73.4 1194.5,73.9 1194.6,74.4 1194.6,74.9 1194.6,75.4 1194.6,75.9 1194.7,76.4 1194.7,76.9 1194.7,77.4 1194.8,77.9 1194.8,78.4 1194.8,78.9 1194.9,79.4 1194.9,79.9 1194.9,80.4 1194.9,80.9 1195.0,81.4 1195.0,81.9 1195.0,82.4 1195.1,82.9 1195.1,83.4 1195.1,83.9 1195.2,84.4 1195.2,84.9 1195.2,85.4 1195.3,85.9 1195.3,86.4 1195.3,86.9 1195.4,87.4 1195.4,87.9 1195.4,88.4 1195.5,88.9 1195.5,89.4 1195.5,89.9 1195.6,90.4 1195.6,90.9 1195.6,91.4 1195.7,91.9 1195.7,92.4 1195.7,92.9 1195.8,93.4 1195.8,93.9 1195.8,94.4 1195.9,94.9 1195.9,95.4 1196.0,95.9 1196.0,96.4 1196.1,96.9 1196.1,97.4 1196.1,97.9 1196.2,98.4 1196.2,98.9 1196.2,99.4 1196.3,99.9 1196.3,100.4 1196.3,100.9 1196.3,101.4 1196.3,101.9 1196.3,102.4 1196.3,102.9 1196.3,103.4 1196.3,103.9 1196.2,104.4 1196.2,104.9 1196.2,105.4 1196.1,105.9 1196.1,106.4 1196.0,106.9 1196.0,107.4 1195.9,107.9 1195.9,108.4 1195.9,108.9 1195.8,109.4 1195.8,109.9 1195.8,110.4 1195.7,110.9 1195.7,111.4 1195.7,111.9 1195.7,112.4 1195.7,112.9 1195.7,113.4 1195.6,113.9 1195.6,114.4 1195.6,114.9 1195.6,115.4 1195.6,115.9 1195.6,116.4 1195.6,116.9 1195.6,117.4 1195.6,117.9 1195.5,118.4 1195.5,118.9 1195.5,119.4 1195.5,119.9 1195.5,120.4 1195.5,120.9 1195.5,121.4 1195.5,121.9 1195.5,122.4 1195.5,122.9 1195.5,123.4 1195.5,123.9 1195.5,124.4 1195.5,124.9 1195.5,125.4 1195.5,125.9 1195.5,126.4 1195.5,126.9 1195.5,127.4 1195.5,127.9 1195.6,128.4 1195.6,128.9 1195.6,129.4 1195.6,129.9 1195.6,130.4 1195.6,130.9 1195.6,131.4 1195.6,131.9 1195.6,132.4 1195.7,132.9 1195.7,133.4 1195.7,133.9 1195.7,134.4 1195.7,134.9 1195.7,135.4 1195.7,135.9 1195.7,136.4 1195.8,136.9 1195.8,137.4 1195.8,137.9 1195.8,138.4 1195.8,138.9 1195.9,139.4 1195.9,139.9 1195.9,140.4 1195.9,140.9 1196.0,141.4 1196.0,141.9 1196.0,142.4 1196.0,142.9 1196.1,143.4 1196.1,143.9 1196.1,144.4 1196.1,144.9 1196.2,145.4 1196.2,145.9 1196.2,146.4 1196.2,146.9 1196.3,147.4 1196.3,147.9 1196.3,148.4 1196.4,148.9 1196.4,149.4 1196.4,149.9 1196.4,150.4 1196.5,150.9 1196.5,151.4 1196.5,151.9 1196.6,152.4 1196.6,152.9 1196.6,153.4 1196.6,153.9 1196.6,154.4 1196.7,154.9 1196.7,155.4 1196.7,155.9 1196.7,156.4 1196.7,156.9 1196.7,157.4 1196.7,157.9 1196.7,158.4 1196.7,158.9 1196.7,159.4 1196.7,159.9 1196.8,160.4 1196.8,160.9 1196.9,161.4 1197.1,161.9 1197.2,162.4 1197.4,162.9 1197.6,163.4 1197.7,163.9 1197.9,164.4 1198.1,164.9 1198.2,165.4 1198.4,165.9 1198.5,166.4 1198.6,166.9 1198.8,167.4 1198.9,167.9 1199.0,168.4 1199.2,168.9 1199.3,169.4 1199.4,169.9 1199.6,170.4 1199.7,170.9 1199.9,171.4 1200.0,171.9 1200.2,172.4 1200.3,172.9 1200.5,173.4 1200.6,173.9 1200.8,174.4 1200.9,174.9 1201.0,175.4 1201.2,175.9 1201.3,176.4 1201.5,176.9 1201.6,177.4 1201.8,177.9 1201.9,178.4 1202.1,178.9 1202.3,179.4 1202.4,179.9 1202.6,180.4 1202.8,180.9 1203.0,181.4 1203.1,181.9 1203.3,182.4 1203.5,182.9 1203.7,183.4 1203.8,183.9 1204.0,184.4 1204.2,184.9 1204.3,185.4 1204.5,185.9 1204.6,186.4 1204.8,186.9 1204.9,187.4 1205.1,187.9 1205.3,188.4 1205.4,188.9 1205.6,189.4 1205.8,189.9 1206.0,190.4 1206.2,190.9 1206.4,191.4 1206.7,191.9 1206.9,192.4 1207.2,192.9 1207.4,193.4 1207.7,193.9 1208.0,194.4 1208.2,194.9 1208.5,195.4 1208.8,195.9 1209.1,196.4 1209.5,196.9 1209.8,197.4 1210.1,197.9 1210.5,198.4 1210.9,198.9 1211.2,199.4 1211.6,199.9 1212.0,200.4 1212.4,200.9 1212.8,201.4 1213.3,201.9 1213.7,202.4 1214.2,202.9 1214.6,203.4 1215.1,203.9 1215.6,204.4 1216.1,204.9 1216.6,205.4 1217.0,205.9 1217.5,206.4 1217.9,206.9 1218.4,207.4 1218.8,207.9 1219.3,208.4 1219.7,208.9 1220.2,209.4 1220.6,209.9 1221.1,210.4 1221.5,210.9 1222.0,211.4 1222.5,211.9 1223.0,212.4 1223.5,212.9 1224.0,213.4 1224.5,213.9 1224.9,214.4 1225.4,214.9 1225.9,215.4 1226.4,215.9 1226.9,216.4 1227.4,216.9 1227.9,217.4 1228.3,217.9 1228.8,218.4 1229.3,218.9 1229.8,219.4 1230.2,219.9 1230.6,220.4 1231.0,220.9 1231.3,221.4 1231.6,221.9 1232.0,222.4 1232.3,222.9 1232.5,223.4 1232.8,223.9 1233.1,224.4 1233.4,224.9 1233.7,225.4 1234.0,225.9 1234.3,226.4 1234.6,226.9 1234.8,227.4 1235.1,227.9 1235.4,228.4 1235.7,228.9 1236.0,229.4 1236.3,229.9 1236.6,230.4 1237.0,230.9 1237.3,231.4 1237.7,231.9 1238.1,232.4 1238.4,232.9 1238.8,233.4 1239.3,233.9 1239.7,234.4 1240.1,234.9 1240.6,235.4 1241.1,235.9 1241.6,236.4 1242.1,236.9 1242.6,237.4 1243.1,237.9 1243.6,238.4 1244.1,238.9 1244.6,239.4 1245.1,239.9 1245.6,240.4 1246.1,240.9 1246.6,241.4 1247.1,241.9 1247.7,242.4 1248.2,242.9 1248.7,243.4 1249.3,243.9 1249.8,244.4 1250.3,244.9 1250.9,245.4 1251.4,245.9 1252.0,246.4 1252.5,246.9 1253.1,247.4 1253.7,247.9 1254.2,248.4 1254.8,248.9 1255.3,249.4 1255.9,249.9 1256.4,250.4 1257.0,250.9 1257.6,251.4 1258.1,251.9 1258.7,252.4 1259.3,252.9 1259.8,253.4 1260.4,253.9 1260.9,254.4 1261.5,254.9 1262.1,255.4 1262.6,255.9 1263.1,256.4 1263.7,256.9 1264.2,257.4 1264.7,257.9 1265.2,258.4 1265.7,258.9 1266.2,259.4 1266.7,259.9 1267.2,260.4 1267.7,260.9 1268.2,261.4 1268.6,261.9 1269.1,262.4 1269.5,262.9 1270.0,263.4 1270.4,263.9 1270.9,264.4 1271.3,264.9 1271.8,265.4 1272.2,265.9 1272.6,266.4 1273.0,266.9 1273.4,267.4 1273.8,267.9 1274.2,268.4 1274.6,268.9 1275.0,269.4 1275.3,269.9 1275.7,270.4 1276.1,270.9 1276.4,271.4 1276.8,271.9 1277.1,272.4 1277.5,272.9 1277.8,273.4 1278.1,273.9 1278.4,274.4 1278.7,274.9 1279.0,275.4 1279.2,275.9 1279.5,276.4 1279.8,276.9 1280.1,277.4 1280.3,277.9 1280.6,278.4 1280.8,278.9 1281.0,279.4 1281.2,279.9 1281.4,280.4 1281.6,280.9 1281.8,281.4 1281.9,281.9 1282.1,282.4 1282.3,282.9 1282.4,283.4 1282.6,283.9 1282.7,284.4 1282.8,284.9 1283.0,285.4 1283.0,285.9 1283.1,286.4 1283.2,286.9 1283.2,287.4 1283.2,287.9 1283.2,288.4 1283.2,288.9 1283.2,289.4 1283.2,289.9 1283.1,290.4 1283.1,290.9 1283.1,291.4 1283.0,291.9 1283.0,292.4 1283.0,292.9 1282.9,293.4 1282.7,293.9 1282.5,294.4 1282.3,294.9 1282.1,295.4 1281.8,295.9 1281.6,296.4 1281.3,296.9 1281.0,297.4 1280.8,297.9 1280.4,298.4 1280.1,298.9 1279.7,299.4 1279.2,299.9 1278.8,300.4 1278.3,300.9 1277.9,301.4 1277.4,301.9 1276.9,302.4 1276.4,302.9 1275.9,303.4 1275.3,303.9 1274.8,304.4 1274.2,304.9 1273.5,305.4 1272.9,305.9 1272.2,306.4 1271.5,306.9 1270.8,307.4 1270.0,307.9 1269.2,308.4 1268.3,308.9 1267.3,309.4 1266.4,309.9 1265.5,310.4 1264.5,310.9 1263.6,311.4 1262.6,311.9 1261.6,312.4 1260.6,312.9 1259.5,313.4 1258.5,313.9 1257.5,314.4 1256.5,314.9 1255.5,315.4 1254.4,315.9 1253.4,316.4 1252.4,316.9 1251.4,317.4 1250.4,317.9 1249.4,318.4 1248.5,318.9 1247.5,319.4 1246.6,319.9 1245.8,320.4 1244.9,320.9 1244.0,321.4 1243.2,321.9 1242.3,322.4 1241.5,322.9 1240.7,323.4 1239.8,323.9 1239.0,324.4 1238.2,324.9 1237.4,325.4 1236.6,325.9 1235.8,326.4 1235.1,326.9 1234.4,327.4 1233.8,327.9 1233.1,328.4 1232.5,328.9 1231.9,329.4 1231.3,329.9 1230.8,330.4 1230.2,330.9 1229.7,331.4 1229.1,331.9 1228.6,332.4 1228.0,332.9 1227.5,333.4 1227.0,333.9 1226.5,334.4 1226.0,334.9 1225.5,335.4 1225.0,335.9 1224.5,336.4 1224.1,336.9 1223.7,337.4 1223.2,337.9 1222.8,338.4 1222.4,338.9 1222.0,339.4 1221.6,339.9 1221.2,340.4 1220.9,340.9 1220.5,341.4 1220.2,341.9 1219.8,342.4 1219.5,342.9 1219.2,343.4 1218.9,343.9 1218.6,344.4 1218.3,344.9 1218.0,345.4 1217.7,345.9 1217.4,346.4 1217.2,346.9 1217.0,347.4 1216.8,347.9 1216.6,348.4 1216.4,348.9 1216.2,349.4 1216.0,349.9 1215.7,350.4 1215.5,350.9 1215.3,351.4 1215.1,351.9 1214.9,352.4 1214.7,352.9 1214.5,353.4 1214.2,353.9 1214.0,354.4 1213.7,354.9 1213.5,355.4 1213.2,355.9 1213.0,356.4 1212.7,356.9 1212.5,357.4 1212.2,357.9 1212.0,358.4 1211.7,358.9 1211.5,359.4 1211.2,359.9 1211.0,360.4 1210.7,360.9 1210.5,361.4 1210.2,361.9 1210.0,362.4 1209.7,362.9 1209.5,363.4 1209.2,363.9 1209.0,364.4 1208.7,364.9 1208.5,365.4 1208.2,365.9 1208.0,366.4 1207.7,366.9 1207.5,367.4 1207.2,367.9 1207.0,368.4 1206.7,368.9 1206.5,369.4 1206.2,369.9 1206.0,370.4 1205.7,370.9 1205.4,371.4 1205.2,371.9 1204.9,372.4 1204.6,372.9 1204.4,373.4 1204.1,373.9 1203.9,374.4 1203.6,374.9 1203.4,375.4 1203.3,375.9 1203.1,376.4 1202.9,376.9 1202.8,377.4 1202.6,377.9 1202.5,378.4 1202.3,378.9 1202.2,379.4 1202.0,379.9 1201.9,380.4 1201.8,380.9 1201.6,381.4 1201.5,381.9 1201.3,382.4 1201.2,382.9 1201.0,383.4 1200.9,383.9 1200.7,384.4 1200.6,384.9 1200.4,385.4 1200.3,385.9 1200.1,386.4 1200.0,386.9 1199.8,387.4 1199.7,387.9 1199.5,388.4 1199.4,388.9 1199.2,389.4 1199.1,389.9 1199.0,390.4 1198.8,390.9 1198.7,391.4 1198.5,391.9 1198.4,392.4 1198.3,392.9 1198.1,393.4 1198.0,393.9 1197.9,394.4 1197.8,394.9 1197.6,395.4 1197.5,395.9 1197.4,396.4 1197.3,396.9 1197.1,397.4 1197.0,397.9 1196.9,398.4 1196.7,398.9 1196.6,399.4 1196.5,399.9 1196.4,400.4 1196.3,400.9 1196.1,401.4 1196.0,401.9 1195.9,402.4 1195.8,402.9 1195.7,403.4 1195.6,403.9 1195.5,404.4 1195.5,404.9 1195.4,405.4 1195.3,405.9 1195.2,406.4 1195.1,406.9 1195.1,407.4 1195.0,407.9 1194.9,408.4 1194.9,408.9 1194.8,409.4 1194.8,409.9 1194.7,410.4 1194.7,410.9 1194.6,411.4 1194.6,411.9 1194.5,412.4 1194.5,412.9 1194.5,413.4 1194.4,413.9 1194.4,414.4 1194.4,414.9 1194.4,415.4 1194.4,415.9 1194.4,416.4 1194.4,416.9 1194.4,417.4 1194.4,417.9 1194.4,418.4 1194.4,418.9 1194.4,419.4 1194.4,419.9 1194.4,420.4 1194.4,420.9 1194.4,421.4 1194.4,421.9 1194.4,422.4 1194.4,422.9 1194.4,423.4 1194.4,423.9 1194.4,424.4 1194.4,424.9 1194.4,425.4 1194.4,425.9 1194.4,426.4 1194.4,426.9 1194.4,427.4 1194.4,427.9 1194.4,428.4 1194.4,428.9 1194.4,429.4 1194.4,429.9 1194.4,430.4 1194.4,430.4 1194.4,429.9 1194.4,429.4 1194.4,428.9 1194.4,428.4 1194.4,427.9 1194.4,427.4 1194.4,426.9 1194.4,426.4 1194.4,425.9 1194.4,425.4 1194.4,424.9 1194.4,424.4 1194.4,423.9 1194.4,423.4 1194.4,422.9 1194.4,422.4 1194.4,421.9 1194.4,421.4 1194.4,420.9 1194.4,420.4 1194.4,419.9 1194.4,419.4 1194.4,418.9 1194.4,418.4 1194.4,417.9 1194.4,417.4 1194.4,416.9 1194.4,416.4 1194.4,415.9 1194.4,415.4 1194.4,414.9 1194.4,414.4 1194.4,413.9 1194.3,413.4 1194.3,412.9 1194.3,412.4 1194.2,411.9 1194.2,411.4 1194.1,410.9 1194.1,410.4 1194.0,409.9 1194.0,409.4 1193.9,408.9 1193.9,408.4 1193.8,407.9 1193.7,407.4 1193.7,406.9 1193.6,406.4 1193.5,405.9 1193.4,405.4 1193.3,404.9 1193.3,404.4 1193.2,403.9 1193.1,403.4 1193.0,402.9 1192.9,402.4 1192.8,401.9 1192.7,401.4 1192.5,400.9 1192.4,400.4 1192.3,399.9 1192.2,399.4 1192.1,398.9 1191.9,398.4 1191.8,397.9 1191.7,397.4 1191.5,396.9 1191.4,396.4 1191.3,395.9 1191.2,395.4 1191.0,394.9 1190.9,394.4 1190.8,393.9 1190.7,393.4 1190.5,392.9 1190.4,392.4 1190.3,391.9 1190.1,391.4 1190.0,390.9 1189.8,390.4 1189.7,389.9 1189.6,389.4 1189.4,388.9 1189.3,388.4 1189.1,387.9 1189.0,387.4 1188.8,386.9 1188.7,386.4 1188.5,385.9 1188.4,385.4 1188.2,384.9 1188.1,384.4 1187.9,383.9 1187.8,383.4 1187.6,382.9 1187.5,382.4 1187.3,381.9 1187.2,381.4 1187.0,380.9 1186.9,380.4 1186.8,379.9 1186.6,379.4 1186.5,378.9 1186.3,378.4 1186.2,377.9 1186.0,377.4 1185.9,376.9 1185.7,376.4 1185.5,375.9 1185.4,375.4 1185.2,374.9 1184.9,374.4 1184.7,373.9 1184.4,373.4 1184.2,372.9 1183.9,372.4 1183.6,371.9 1183.4,371.4 1183.1,370.9 1182.9,370.4 1182.6,369.9 1182.4,369.4 1182.1,368.9 1181.9,368.4 1181.6,367.9 1181.4,367.4 1181.1,366.9 1180.9,366.4 1180.6,365.9 1180.4,365.4 1180.1,364.9 1179.9,364.4 1179.6,363.9 1179.4,363.4 1179.1,362.9 1178.9,362.4 1178.6,361.9 1178.4,361.4 1178.1,360.9 1177.9,360.4 1177.6,359.9 1177.4,359.4 1177.1,358.9 1176.8,358.4 1176.6,357.9 1176.3,357.4 1176.1,356.9 1175.8,356.4 1175.6,355.9 1175.3,355.4 1175.1,354.9 1174.8,354.4 1174.6,353.9 1174.3,353.4 1174.1,352.9 1173.9,352.4 1173.7,351.9 1173.5,351.4 1173.3,350.9 1173.1,350.4 1172.8,349.9 1172.6,349.4 1172.4,348.9 1172.2,348.4 1172.0,347.9 1171.8,347.4 1171.6,346.9 1171.4,346.4 1171.1,345.9 1170.8,345.4 1170.5,344.9 1170.2,344.4 1169.9,343.9 1169.6,343.4 1169.3,342.9 1169.0,342.4 1168.6,341.9 1168.3,341.4 1167.9,340.9 1167.6,340.4 1167.2,339.9 1166.8,339.4 1166.4,338.9 1166.0,338.4 1165.6,337.9 1165.1,337.4 1164.7,336.9 1164.3,336.4 1163.8,335.9 1163.3,335.4 1162.8,334.9 1162.3,334.4 1161.8,333.9 1161.3,333.4 1160.8,332.9 1160.2,332.4 1159.7,331.9 1159.1,331.4 1158.6,330.9 1158.0,330.4 1157.5,329.9 1156.9,329.4 1156.3,328.9 1155.7,328.4 1155.0,327.9 1154.4,327.4 1153.7,326.9 1153.0,326.4 1152.2,325.9 1151.4,325.4 1150.6,324.9 1149.8,324.4 1149.0,323.9 1148.1,323.4 1147.3,322.9 1146.5,322.4 1145.6,321.9 1144.8,321.4 1143.9,320.9 1143.0,320.4 1142.2,319.9 1141.3,319.4 1140.3,318.9 1139.4,318.4 1138.4,317.9 1137.4,317.4 1136.4,316.9 1135.4,316.4 1134.4,315.9 1133.3,315.4 1132.3,314.9 1131.3,314.4 1130.3,313.9 1129.3,313.4 1128.2,312.9 1127.2,312.4 1126.2,311.9 1125.2,311.4 1124.3,310.9 1123.3,310.4 1122.4,309.9 1121.5,309.4 1120.5,308.9 1119.6,308.4 1118.8,307.9 1118.0,307.4 1117.3,306.9 1116.6,306.4 1115.9,305.9 1115.3,305.4 1114.6,304.9 1114.0,304.4 1113.5,303.9 1112.9,303.4 1112.4,302.9 1111.9,302.4 1111.4,301.9 1110.9,301.4 1110.5,300.9 1110.0,300.4 1109.6,299.9 1109.1,299.4 1108.7,298.9 1108.4,298.4 1108.0,297.9 1107.8,297.4 1107.5,296.9 1107.2,296.4 1107.0,295.9 1106.7,295.4 1106.5,294.9 1106.3,294.4 1106.1,293.9 1105.9,293.4 1105.8,292.9 1105.8,292.4 1105.8,291.9 1105.7,291.4 1105.7,290.9 1105.7,290.4 1105.6,289.9 1105.6,289.4 1105.6,288.9 1105.6,288.4 1105.6,287.9 1105.6,287.4 1105.6,286.9 1105.7,286.4 1105.8,285.9 1105.8,285.4 1106.0,284.9 1106.1,284.4 1106.2,283.9 1106.4,283.4 1106.5,282.9 1106.7,282.4 1106.9,281.9 1107.0,281.4 1107.2,280.9 1107.4,280.4 1107.6,279.9 1107.8,279.4 1108.0,278.9 1108.2,278.4 1108.5,277.9 1108.7,277.4 1109.0,276.9 1109.3,276.4 1109.6,275.9 1109.8,275.4 1110.1,274.9 1110.4,274.4 1110.7,273.9 1111.0,273.4 1111.3,272.9 1111.7,272.4 1112.0,271.9 1112.4,271.4 1112.7,270.9 1113.1,270.4 1113.5,269.9 1113.8,269.4 1114.2,268.9 1114.6,268.4 1115.0,267.9 1115.4,267.4 1115.8,266.9 1116.2,266.4 1116.6,265.9 1117.0,265.4 1117.5,264.9 1117.9,264.4 1118.4,263.9 1118.8,263.4 1119.3,262.9 1119.7,262.4 1120.2,261.9 1120.6,261.4 1121.1,260.9 1121.6,260.4 1122.1,259.9 1122.6,259.4 1123.1,258.9 1123.6,258.4 1124.1,257.9 1124.6,257.4 1125.1,256.9 1125.7,256.4 1126.2,255.9 1126.7,255.4 1127.3,254.9 1127.9,254.4 1128.4,253.9 1129.0,253.4 1129.5,252.9 1130.1,252.4 1130.7,251.9 1131.2,251.4 1131.8,250.9 1132.4,250.4 1132.9,249.9 1133.5,249.4 1134.0,248.9 1134.6,248.4 1135.1,247.9 1135.7,247.4 1136.3,246.9 1136.8,246.4 1137.4,245.9 1137.9,245.4 1138.5,244.9 1139.0,244.4 1139.5,243.9 1140.1,243.4 1140.6,242.9 1141.1,242.4 1141.7,241.9 1142.2,241.4 1142.7,240.9 1143.2,240.4 1143.7,239.9 1144.2,239.4 1144.7,238.9 1145.2,238.4 1145.7,237.9 1146.2,237.4 1146.7,236.9 1147.2,236.4 1147.7,235.9 1148.2,235.4 1148.7,234.9 1149.1,234.4 1149.5,233.9 1150.0,233.4 1150.4,232.9 1150.7,232.4 1151.1,231.9 1151.5,231.4 1151.8,230.9 1152.2,230.4 1152.5,229.9 1152.8,229.4 1153.1,228.9 1153.4,228.4 1153.7,227.9 1154.0,227.4 1154.2,226.9 1154.5,226.4 1154.8,225.9 1155.1,225.4 1155.4,224.9 1155.7,224.4 1156.0,223.9 1156.3,223.4 1156.5,222.9 1156.8,222.4 1157.2,221.9 1157.5,221.4 1157.8,220.9 1158.2,220.4 1158.6,219.9 1159.0,219.4 1159.5,218.9 1160.0,218.4 1160.5,217.9 1160.9,217.4 1161.4,216.9 1161.9,216.4 1162.4,215.9 1162.9,215.4 1163.4,214.9 1163.9,214.4 1164.3,213.9 1164.8,213.4 1165.3,212.9 1165.8,212.4 1166.3,211.9 1166.8,211.4 1167.3,210.9 1167.7,210.4 1168.2,209.9 1168.6,209.4 1169.1,208.9 1169.5,208.4 1170.0,207.9 1170.4,207.4 1170.9,206.9 1171.3,206.4 1171.8,205.9 1172.2,205.4 1172.7,204.9 1173.2,204.4 1173.7,203.9 1174.2,203.4 1174.6,202.9 1175.1,202.4 1175.5,201.9 1176.0,201.4 1176.4,200.9 1176.8,200.4 1177.2,199.9 1177.6,199.4 1177.9,198.9 1178.3,198.4 1178.7,197.9 1179.0,197.4 1179.3,196.9 1179.7,196.4 1180.0,195.9 1180.3,195.4 1180.6,194.9 1180.8,194.4 1181.1,193.9 1181.4,193.4 1181.6,192.9 1181.9,192.4 1182.1,191.9 1182.4,191.4 1182.6,190.9 1182.8,190.4 1183.0,189.9 1183.2,189.4 1183.4,188.9 1183.5,188.4 1183.7,187.9 1183.9,187.4 1184.0,186.9 1184.2,186.4 1184.3,185.9 1184.5,185.4 1184.6,184.9 1184.8,184.4 1185.0,183.9 1185.1,183.4 1185.3,182.9 1185.5,182.4 1185.7,181.9 1185.8,181.4 1186.0,180.9 1186.2,180.4 1186.4,179.9 1186.5,179.4 1186.7,178.9 1186.9,178.4 1187.0,177.9 1187.2,177.4 1187.3,176.9 1187.5,176.4 1187.6,175.9 1187.8,175.4 1187.9,174.9 1188.0,174.4 1188.2,173.9 1188.3,173.4 1188.5,172.9 1188.6,172.4 1188.8,171.9 1188.9,171.4 1189.1,170.9 1189.2,170.4 1189.4,169.9 1189.5,169.4 1189.6,168.9 1189.8,168.4 1189.9,167.9 1190.0,167.4 1190.2,166.9 1190.3,166.4 1190.4,165.9 1190.6,165.4 1190.7,164.9 1190.9,164.4 1191.1,163.9 1191.2,163.4 1191.4,162.9 1191.6,162.4 1191.7,161.9 1191.9,161.4 1192.0,160.9 1192.0,160.4 1192.1,159.9 1192.1,159.4 1192.1,158.9 1192.1,158.4 1192.1,157.9 1192.1,157.4 1192.1,156.9 1192.1,156.4 1192.1,155.9 1192.1,155.4 1192.1,154.9 1192.2,154.4 1192.2,153.9 1192.2,153.4 1192.2,152.9 1192.2,152.4 1192.3,151.9 1192.3,151.4 1192.3,150.9 1192.4,150.4 1192.4,149.9 1192.4,149.4 1192.4,148.9 1192.5,148.4 1192.5,147.9 1192.5,147.4 1192.6,146.9 1192.6,146.4 1192.6,145.9 1192.6,145.4 1192.7,144.9 1192.7,144.4 1192.7,143.9 1192.7,143.4 1192.8,142.9 1192.8,142.4 1192.8,141.9 1192.8,141.4 1192.9,140.9 1192.9,140.4 1192.9,139.9 1192.9,139.4 1193.0,138.9 1193.0,138.4 1193.0,137.9 1193.0,137.4 1193.0,136.9 1193.1,136.4 1193.1,135.9 1193.1,135.4 1193.1,134.9 1193.1,134.4 1193.1,133.9 1193.1,133.4 1193.1,132.9 1193.2,132.4 1193.2,131.9 1193.2,131.4 1193.2,130.9 1193.2,130.4 1193.2,129.9 1193.2,129.4 1193.2,128.9 1193.2,128.4 1193.3,127.9 1193.3,127.4 1193.3,126.9 1193.3,126.4 1193.3,125.9 1193.3,125.4 1193.3,124.9 1193.3,124.4 1193.3,123.9 1193.3,123.4 1193.3,122.9 1193.3,122.4 1193.3,121.9 1193.3,121.4 1193.3,120.9 1193.3,120.4 1193.3,119.9 1193.3,119.4 1193.3,118.9 1193.3,118.4 1193.2,117.9 1193.2,117.4 1193.2,116.9 1193.2,116.4 1193.2,115.9 1193.2,115.4 1193.2,114.9 1193.2,114.4 1193.2,113.9 1193.1,113.4 1193.1,112.9 1193.1,112.4 1193.1,111.9 1193.1,111.4 1193.1,110.9 1193.0,110.4 1193.0,109.9 1193.0,109.4 1192.9,108.9 1192.9,108.4 1192.9,107.9 1192.8,107.4 1192.8,106.9 1192.7,106.4 1192.7,105.9 1192.6,105.4 1192.6,104.9 1192.6,104.4 1192.5,103.9 1192.5,103.4 1192.5,102.9 1192.5,102.4 1192.5,101.9 1192.5,101.4 1192.5,100.9 1192.5,100.4 1192.5,99.9 1192.6,99.4 1192.6,98.9 1192.6,98.4 1192.7,97.9 1192.7,97.4 1192.7,96.9 1192.8,96.4 1192.8,95.9 1192.9,95.4 1192.9,94.9 1193.0,94.4 1193.0,93.9 1193.0,93.4 1193.1,92.9 1193.1,92.4 1193.1,91.9 1193.2,91.4 1193.2,90.9 1193.2,90.4 1193.3,89.9 1193.3,89.4 1193.3,88.9 1193.4,88.4 1193.4,87.9 1193.4,87.4 1193.5,86.9 1193.5,86.4 1193.5,85.9 1193.6,85.4 1193.6,84.9 1193.6,84.4 1193.7,83.9 1193.7,83.4 1193.7,82.9 1193.8,82.4 1193.8,81.9 1193.8,81.4 1193.9,80.9 1193.9,80.4 1193.9,79.9 1193.9,79.4 1194.0,78.9 1194.0,78.4 1194.0,77.9 1194.1,77.4 1194.1,76.9 1194.1,76.4 1194.2,75.9 1194.2,75.4 1194.2,74.9 1194.2,74.4 1194.3,73.9 1194.3,73.4 1194.3,72.9 1194.3,72.4 1194.4,71.9 1194.4,71.4 1194.4,70.9 1194.4,70.4 1194.4,69.9 1194.4,69.4 1194.4,68.9 1194.4,68.4 1194.4,67.9 1194.4,67.4 1194.4,66.9 1194.4,66.4 1194.4,65.9 1194.4,65.4Z" fill="#00AFBB" stroke="#000" stroke-width="1.60" stroke-linejoin="round"/>
<line x1="1194.40" y1="170.70" x2="1194.40" y2="388.50" stroke="#000" stroke-width="1.50"/>
<circle cx="1194.40" cy="101.70" r="2.50" fill="#000"/>
<circle cx="1194.40" cy="154.20" r="2.20" fill="#000"/>
<circle cx="1194.40" cy="392.90" r="2.20" fill="#000"/>
<rect x="1175.70" y="252.70" width="37.50" height="54.50" fill="#fff" stroke="#000" stroke-width="1.50"/>
<line x1="1175.70" y1="280.70" x2="1213.20" y2="280.70" stroke="#000" stroke-width="3.00"/>
<path d="M1384.3,57.0 1384.3,57.5 1384.3,58.0 1384.3,58.5 1384.3,59.0 1384.4,59.5 1384.5,60.0 1384.6,60.5 1384.6,61.0 1384.7,61.5 1384.8,62.0 1384.9,62.5 1384.9,63.0 1385.0,63.5 1385.0,64.0 1385.1,64.5 1385.1,65.0 1385.2,65.5 1385.2,66.0 1385.3,66.5 1385.3,67.0 1385.4,67.5 1385.4,68.0 1385.5,68.5 1385.5,69.0 1385.6,69.5 1385.6,70.0 1385.6,70.5 1385.7,71.0 1385.7,71.5 1385.8,72.0 1385.8,72.5 1385.8,73.0 1385.9,73.5 1385.9,74.0 1385.9,74.5 1385.9,75.0 1386.0,75.5 1386.0,76.0 1386.0,76.5 1386.0,77.0 1386.0,77.5 1386.0,78.0 1386.0,78.5 1386.0,79.0 1386.0,79.5 1386.0,80.0 1386.0,80.5 1386.0,81.0 1386.0,81.5 1386.0,82.0 1386.0,82.5 1386.0,83.0 1386.0,83.5 1386.0,84.0 1386.0,84.5 1386.0,85.0 1386.0,85.5 1386.0,86.0 1386.0,86.5 1386.0,87.0 1386.0,87.5 1386.0,88.0 1386.0,88.5 1386.0,89.0 1386.0,89.5 1386.0,90.0 1386.0,90.5 1386.0,91.0 1386.0,91.5 1386.0,92.0 1386.0,92.5 1386.0,93.0 1386.0,93.5 1386.0,94.0 1386.0,94.5 1385.9,95.0 1385.9,95.5 1385.9,96.0 1385.9,96.5 1385.8,97.0 1385.8,97.5 1385.8,98.0 1385.8,98.5 1385.7,99.0 1385.7,99.5 1385.7,100.0 1385.7,100.5 1385.6,101.0 1385.6,101.5 1385.6,102.0 1385.6,102.5 1385.6,103.0 1385.6,103.5 1385.6,104.0 1385.6,104.5 1385.7,105.0 1385.7,105.5 1385.8,106.0 1385.9,106.5 1386.0,107.0 1386.1,107.5 1386.2,108.0 1386.2,108.5 1386.3,109.0 1386.4,109.5 1386.5,110.0 1386.6,110.5 1386.6,111.0 1386.7,111.5 1386.7,112.0 1386.8,112.5 1386.9,113.0 1386.9,113.5 1387.0,114.0 1387.0,114.5 1387.1,115.0 1387.1,115.5 1387.2,116.0 1387.2,116.5 1387.2,117.0 1387.3,117.5 1387.3,118.0 1387.3,118.5 1387.3,119.0 1387.3,119.5 1387.3,120.0 1387.2,120.5 1387.2,121.0 1387.2,121.5 1387.1,122.0 1387.1,122.5 1387.1,123.0 1387.0,123.5 1387.0,124.0 1386.9,124.5 1386.9,125.0 1386.9,125.5 1386.9,126.0 1386.9,126.5 1386.9,127.0 1386.9,127.5 1386.9,128.0 1386.9,128.5 1386.9,129.0 1386.9,129.5 1387.0,130.0 1387.0,130.5 1387.0,131.0 1387.0,131.5 1387.1,132.0 1387.1,132.5 1387.1,133.0 1387.1,133.5 1387.2,134.0 1387.2,134.5 1387.2,135.0 1387.2,135.5 1387.3,136.0 1387.3,136.5 1387.3,137.0 1387.3,137.5 1387.3,138.0 1387.3,138.5 1387.3,139.0 1387.2,139.5 1387.2,140.0 1387.1,140.5 1387.1,141.0 1387.0,141.5 1387.0,142.0 1386.9,142.5 1386.8,143.0 1386.8,143.5 1386.7,144.0 1386.7,144.5 1386.7,145.0 1386.6,145.5 1386.6,146.0 1386.6,146.5 1386.7,147.0 1386.7,147.5 1386.7,148.0 1386.7,148.5 1386.7,149.0 1386.8,149.5 1386.8,150.0 1386.8,150.5 1386.9,151.0 1386.9,151.5 1386.9,152.0 1387.0,152.5 1387.0,153.0 1387.1,153.5 1387.1,154.0 1387.2,154.5 1387.3,155.0 1387.3,155.5 1387.4,156.0 1387.5,156.5 1387.6,157.0 1387.7,157.5 1387.8,158.0 1387.9,158.5 1388.0,159.0 1388.2,159.5 1388.2,160.0 1388.3,160.5 1388.4,161.0 1388.5,161.5 1388.6,162.0 1388.7,162.5 1388.8,163.0 1388.9,163.5 1389.0,164.0 1389.1,164.5 1389.2,165.0 1389.3,165.5 1389.5,166.0 1389.6,166.5 1389.7,167.0 1389.8,167.5 1389.9,168.0 1390.0,168.5 1390.1,169.0 1390.2,169.5 1390.3,170.0 1390.4,170.5 1390.4,171.0 1390.5,171.5 1390.6,172.0 1390.6,172.5 1390.7,173.0 1390.8,173.5 1390.8,174.0 1390.9,174.5 1390.9,175.0 1391.0,175.5 1391.1,176.0 1391.1,176.5 1391.2,177.0 1391.3,177.5 1391.4,178.0 1391.5,178.5 1391.6,179.0 1391.7,179.5 1391.8,180.0 1391.9,180.5 1392.0,181.0 1392.1,181.5 1392.2,182.0 1392.3,182.5 1392.4,183.0 1392.6,183.5 1392.7,184.0 1392.9,184.5 1393.0,185.0 1393.2,185.5 1393.4,186.0 1393.5,186.5 1393.7,187.0 1393.9,187.5 1394.2,188.0 1394.4,188.5 1394.6,189.0 1394.9,189.5 1395.1,190.0 1395.4,190.5 1395.7,191.0 1396.1,191.5 1396.4,192.0 1396.8,192.5 1397.2,193.0 1397.6,193.5 1398.0,194.0 1398.5,194.5 1398.9,195.0 1399.3,195.5 1399.7,196.0 1400.1,196.5 1400.5,197.0 1400.9,197.5 1401.3,198.0 1401.7,198.5 1402.1,199.0 1402.5,199.5 1402.9,200.0 1403.3,200.5 1403.8,201.0 1404.2,201.5 1404.7,202.0 1405.1,202.5 1405.6,203.0 1406.1,203.5 1406.6,204.0 1407.1,204.5 1407.6,205.0 1408.2,205.5 1408.7,206.0 1409.2,206.5 1409.7,207.0 1410.2,207.5 1410.7,208.0 1411.2,208.5 1411.7,209.0 1412.2,209.5 1412.7,210.0 1413.2,210.5 1413.7,211.0 1414.2,211.5 1414.7,212.0 1415.2,212.5 1415.7,213.0 1416.2,213.5 1416.7,214.0 1417.3,214.5 1417.8,215.0 1418.3,215.5 1418.9,216.0 1419.4,216.5 1420.0,217.0 1420.6,217.5 1421.1,218.0 1421.7,218.5 1422.3,219.0 1422.8,219.5 1423.4,220.0 1424.0,220.5 1424.6,221.0 1425.2,221.5 1425.8,222.0 1426.4,222.5 1427.0,223.0 1427.6,223.5 1428.3,224.0 1428.9,224.5 1429.6,225.0 1430.3,225.5 1430.9,226.0 1431.6,226.5 1432.3,227.0 1433.0,227.5 1433.7,228.0 1434.5,228.5 1435.2,229.0 1435.9,229.5 1436.7,230.0 1437.4,230.5 1438.2,231.0 1439.0,231.5 1439.7,232.0 1440.4,232.5 1441.2,233.0 1441.9,233.5 1442.7,234.0 1443.4,234.5 1444.1,235.0 1444.9,235.5 1445.7,236.0 1446.4,236.5 1447.2,237.0 1448.0,237.5 1448.8,238.0 1449.6,238.5 1450.3,239.0 1451.0,239.5 1451.6,240.0 1452.3,240.5 1452.9,241.0 1453.5,241.5 1454.1,242.0 1454.7,242.5 1455.3,243.0 1455.8,243.5 1456.4,244.0 1457.0,244.5 1457.5,245.0 1458.0,245.5 1458.5,246.0 1459.0,246.5 1459.5,247.0 1459.9,247.5 1460.3,248.0 1460.7,248.5 1461.1,249.0 1461.5,249.5 1461.8,250.0 1462.2,250.5 1462.4,251.0 1462.7,251.5 1462.8,252.0 1463.0,252.5 1463.1,253.0 1463.2,253.5 1463.4,254.0 1463.5,254.5 1463.6,255.0 1463.6,255.5 1463.7,256.0 1463.7,256.5 1463.7,257.0 1463.7,257.5 1463.6,258.0 1463.6,258.5 1463.6,259.0 1463.5,259.5 1463.4,260.0 1463.4,260.5 1463.3,261.0 1463.2,261.5 1463.1,262.0 1463.0,262.5 1462.8,263.0 1462.7,263.5 1462.6,264.0 1462.5,264.5 1462.5,265.0 1462.5,265.5 1462.6,266.0 1462.7,266.5 1462.8,267.0 1462.9,267.5 1463.1,268.0 1463.3,268.5 1463.4,269.0 1463.6,269.5 1463.8,270.0 1464.1,270.5 1464.4,271.0 1464.7,271.5 1465.1,272.0 1465.4,272.5 1465.8,273.0 1466.3,273.5 1466.7,274.0 1467.1,274.5 1467.5,275.0 1468.0,275.5 1468.5,276.0 1469.0,276.5 1469.5,277.0 1470.1,277.5 1470.6,278.0 1471.1,278.5 1471.6,279.0 1472.1,279.5 1472.6,280.0 1473.1,280.5 1473.6,281.0 1474.1,281.5 1474.6,282.0 1475.0,282.5 1475.5,283.0 1475.9,283.5 1476.2,284.0 1476.6,284.5 1476.9,285.0 1477.2,285.5 1477.5,286.0 1477.8,286.5 1478.1,287.0 1478.4,287.5 1478.6,288.0 1478.8,288.5 1478.9,289.0 1479.0,289.5 1479.1,290.0 1479.2,290.5 1479.3,291.0 1479.4,291.5 1479.5,292.0 1479.5,292.5 1479.5,293.0 1479.4,293.5 1479.3,294.0 1479.2,294.5 1479.0,295.0 1478.8,295.5 1478.5,296.0 1478.3,296.5 1478.0,297.0 1477.7,297.5 1477.3,298.0 1476.9,298.5 1476.4,299.0 1475.9,299.5 1475.4,300.0 1474.8,300.5 1474.2,301.0 1473.5,301.5 1472.8,302.0 1472.1,302.5 1471.3,303.0 1470.5,303.5 1469.6,304.0 1468.8,304.5 1468.0,305.0 1467.2,305.5 1466.4,306.0 1465.5,306.5 1464.7,307.0 1463.8,307.5 1462.9,308.0 1461.9,308.5 1461.0,309.0 1460.0,309.5 1459.0,310.0 1458.0,310.5 1456.9,311.0 1455.9,311.5 1454.8,312.0 1453.7,312.5 1452.7,313.0 1451.5,313.5 1450.4,314.0 1449.3,314.5 1448.2,315.0 1447.0,315.5 1445.9,316.0 1444.8,316.5 1443.6,317.0 1442.5,317.5 1441.3,318.0 1440.2,318.5 1439.0,319.0 1437.9,319.5 1436.7,320.0 1435.6,320.5 1434.5,321.0 1433.3,321.5 1432.2,322.0 1431.1,322.5 1430.0,323.0 1428.9,323.5 1427.9,324.0 1426.8,324.5 1425.8,325.0 1424.8,325.5 1423.8,326.0 1422.9,326.5 1421.9,327.0 1420.9,327.5 1420.0,328.0 1419.0,328.5 1418.1,329.0 1417.2,329.5 1416.2,330.0 1415.3,330.5 1414.4,331.0 1413.6,331.5 1412.7,332.0 1411.9,332.5 1411.2,333.0 1410.4,333.5 1409.7,334.0 1408.9,334.5 1408.2,335.0 1407.6,335.5 1406.9,336.0 1406.2,336.5 1405.6,337.0 1404.9,337.5 1404.3,338.0 1403.7,338.5 1403.0,339.0 1402.4,339.5 1401.9,340.0 1401.3,340.5 1400.7,341.0 1400.1,341.5 1399.6,342.0 1399.1,342.5 1398.5,343.0 1398.0,343.5 1397.5,344.0 1396.9,344.5 1396.4,345.0 1396.0,345.5 1395.5,346.0 1395.0,346.5 1394.6,347.0 1394.2,347.5 1393.8,348.0 1393.4,348.5 1393.1,349.0 1392.7,349.5 1392.4,350.0 1392.0,350.5 1391.7,351.0 1391.4,351.5 1391.1,352.0 1390.8,352.5 1390.6,353.0 1390.3,353.5 1390.0,354.0 1389.7,354.5 1389.4,355.0 1389.2,355.5 1388.9,356.0 1388.7,356.5 1388.5,357.0 1388.3,357.5 1388.1,358.0 1387.9,358.5 1387.7,359.0 1387.5,359.5 1387.4,360.0 1387.2,360.5 1387.0,361.0 1386.9,361.5 1386.7,362.0 1386.6,362.5 1386.5,363.0 1386.3,363.5 1386.2,364.0 1386.1,364.5 1386.0,365.0 1385.9,365.5 1385.8,366.0 1385.7,366.5 1385.6,367.0 1385.5,367.5 1385.4,368.0 1385.3,368.5 1385.3,369.0 1385.2,369.5 1385.1,370.0 1385.0,370.5 1385.0,371.0 1384.9,371.5 1384.8,372.0 1384.8,372.5 1384.7,373.0 1384.7,373.5 1384.7,374.0 1384.7,374.5 1384.6,375.0 1384.6,375.5 1384.6,376.0 1384.5,376.5 1384.5,377.0 1384.5,377.5 1384.5,378.0 1384.5,378.5 1384.4,379.0 1384.4,379.5 1384.4,380.0 1384.4,380.5 1384.4,381.0 1384.4,381.5 1384.3,382.0 1384.3,382.5 1384.3,383.0 1384.3,383.5 1384.3,384.0 1384.3,384.5 1384.3,385.0 1384.3,385.5 1384.3,386.0 1384.3,386.5 1384.3,387.0 1384.3,387.5 1384.3,388.0 1384.3,388.5 1384.3,389.0 1384.3,389.5 1384.3,390.0 1384.3,390.5 1384.3,391.0 1384.3,391.5 1384.3,392.0 1384.3,392.5 1384.3,393.0 1384.3,393.5 1384.3,394.0 1384.3,394.5 1384.3,395.0 1384.3,395.5 1384.3,396.0 1384.3,396.5 1384.3,397.0 1384.3,397.5 1384.3,398.0 1384.3,398.5 1384.3,399.0 1384.3,399.5 1384.3,400.0 1384.3,400.0 1384.3,399.5 1384.3,399.0 1384.3,398.5 1384.3,398.0 1384.3,397.5 1384.3,397.0 1384.3,396.5 1384.3,396.0 1384.3,395.5 1384.3,395.0 1384.3,394.5 1384.3,394.0 1384.3,393.5 1384.3,393.0 1384.3,392.5 1384.3,392.0 1384.3,391.5 1384.3,391.0 1384.3,390.5 1384.3,390.0 1384.3,389.5 1384.3,389.0 1384.3,388.5 1384.3,388.0 1384.3,387.5 1384.3,387.0 1384.3,386.5 1384.3,386.0 1384.3,385.5 1384.3,385.0 1384.3,384.5 1384.3,384.0 1384.3,383.5 1384.3,383.0 1384.3,382.5 1384.3,382.0 1384.2,381.5 1384.2,381.0 1384.2,380.5 1384.2,380.0 1384.2,379.5 1384.2,379.0 1384.1,378.5 1384.1,378.0 1384.1,377.5 1384.1,377.0 1384.1,376.5 1384.0,376.0 1384.0,375.5 1384.0,375.0 1383.9,374.5 1383.9,374.0 1383.9,373.5 1383.9,373.0 1383.8,372.5 1383.8,372.0 1383.7,371.5 1383.6,371.0 1383.6,370.5 1383.5,370.0 1383.4,369.5 1383.3,369.0 1383.3,368.5 1383.2,368.0 1383.1,367.5 1383.0,367.0 1382.9,366.5 1382.8,366.0 1382.7,365.5 1382.6,365.0 1382.5,364.5 1382.4,364.0 1382.3,363.5 1382.1,363.0 1382.0,362.5 1381.9,362.0 1381.7,361.5 1381.6,361.0 1381.4,360.5 1381.2,360.0 1381.1,359.5 1380.9,359.0 1380.7,358.5 1380.5,358.0 1380.3,357.5 1380.1,357.0 1379.9,356.5 1379.7,356.0 1379.4,355.5 1379.2,355.0 1378.9,354.5 1378.6,354.0 1378.3,353.5 1378.0,353.0 1377.8,352.5 1377.5,352.0 1377.2,351.5 1376.9,351.0 1376.6,350.5 1376.2,350.0 1375.9,349.5 1375.5,349.0 1375.2,348.5 1374.8,348.0 1374.4,347.5 1374.0,347.0 1373.6,346.5 1373.1,346.0 1372.6,345.5 1372.2,345.0 1371.7,344.5 1371.1,344.0 1370.6,343.5 1370.1,343.0 1369.5,342.5 1369.0,342.0 1368.5,341.5 1367.9,341.0 1367.3,340.5 1366.7,340.0 1366.2,339.5 1365.6,339.0 1364.9,338.5 1364.3,338.0 1363.7,337.5 1363.0,337.0 1362.4,336.5 1361.7,336.0 1361.0,335.5 1360.4,335.0 1359.7,334.5 1358.9,334.0 1358.2,333.5 1357.4,333.0 1356.7,332.5 1355.9,332.0 1355.0,331.5 1354.2,331.0 1353.3,330.5 1352.4,330.0 1351.4,329.5 1350.5,329.0 1349.6,328.5 1348.6,328.0 1347.7,327.5 1346.7,327.0 1345.7,326.5 1344.8,326.0 1343.8,325.5 1342.8,325.0 1341.8,324.5 1340.7,324.0 1339.7,323.5 1338.6,323.0 1337.5,322.5 1336.4,322.0 1335.3,321.5 1334.1,321.0 1333.0,320.5 1331.9,320.0 1330.7,319.5 1329.6,319.0 1328.4,318.5 1327.3,318.0 1326.1,317.5 1325.0,317.0 1323.8,316.5 1322.7,316.0 1321.6,315.5 1320.4,315.0 1319.3,314.5 1318.2,314.0 1317.1,313.5 1315.9,313.0 1314.9,312.5 1313.8,312.0 1312.7,311.5 1311.7,311.0 1310.6,310.5 1309.6,310.0 1308.6,309.5 1307.6,309.0 1306.7,308.5 1305.7,308.0 1304.8,307.5 1303.9,307.0 1303.1,306.5 1302.2,306.0 1301.4,305.5 1300.6,305.0 1299.8,304.5 1299.0,304.0 1298.1,303.5 1297.3,303.0 1296.5,302.5 1295.8,302.0 1295.1,301.5 1294.4,301.0 1293.8,300.5 1293.2,300.0 1292.7,299.5 1292.2,299.0 1291.7,298.5 1291.3,298.0 1290.9,297.5 1290.6,297.0 1290.3,296.5 1290.1,296.0 1289.8,295.5 1289.6,295.0 1289.4,294.5 1289.3,294.0 1289.2,293.5 1289.1,293.0 1289.1,292.5 1289.1,292.0 1289.2,291.5 1289.3,291.0 1289.4,290.5 1289.5,290.0 1289.6,289.5 1289.7,289.0 1289.8,288.5 1290.0,288.0 1290.2,287.5 1290.5,287.0 1290.8,286.5 1291.1,286.0 1291.4,285.5 1291.7,285.0 1292.0,284.5 1292.4,284.0 1292.7,283.5 1293.1,283.0 1293.6,282.5 1294.0,282.0 1294.5,281.5 1295.0,281.0 1295.5,280.5 1296.0,280.0 1296.5,279.5 1297.0,279.0 1297.5,278.5 1298.0,278.0 1298.5,277.5 1299.1,277.0 1299.6,276.5 1300.1,276.0 1300.6,275.5 1301.1,275.0 1301.5,274.5 1301.9,274.0 1302.3,273.5 1302.8,273.0 1303.2,272.5 1303.5,272.0 1303.9,271.5 1304.2,271.0 1304.5,270.5 1304.8,270.0 1305.0,269.5 1305.2,269.0 1305.3,268.5 1305.5,268.0 1305.7,267.5 1305.8,267.0 1305.9,266.5 1306.0,266.0 1306.1,265.5 1306.1,265.0 1306.1,264.5 1306.0,264.0 1305.9,263.5 1305.8,263.0 1305.6,262.5 1305.5,262.0 1305.4,261.5 1305.3,261.0 1305.2,260.5 1305.2,260.0 1305.1,259.5 1305.0,259.0 1305.0,258.5 1305.0,258.0 1304.9,257.5 1304.9,257.0 1304.9,256.5 1304.9,256.0 1305.0,255.5 1305.0,255.0 1305.1,254.5 1305.2,254.0 1305.4,253.5 1305.5,253.0 1305.6,252.5 1305.8,252.0 1305.9,251.5 1306.2,251.0 1306.4,250.5 1306.8,250.0 1307.1,249.5 1307.5,249.0 1307.9,248.5 1308.3,248.0 1308.7,247.5 1309.1,247.0 1309.6,246.5 1310.1,246.0 1310.6,245.5 1311.1,245.0 1311.6,244.5 1312.2,244.0 1312.8,243.5 1313.3,243.0 1313.9,242.5 1314.5,242.0 1315.1,241.5 1315.7,241.0 1316.3,240.5 1317.0,240.0 1317.6,239.5 1318.3,239.0 1319.0,238.5 1319.8,238.0 1320.6,237.5 1321.4,237.0 1322.2,236.5 1322.9,236.0 1323.7,235.5 1324.5,235.0 1325.2,234.5 1325.9,234.0 1326.7,233.5 1327.4,233.0 1328.2,232.5 1328.9,232.0 1329.6,231.5 1330.4,231.0 1331.2,230.5 1331.9,230.0 1332.7,229.5 1333.4,229.0 1334.1,228.5 1334.9,228.0 1335.6,227.5 1336.3,227.0 1337.0,226.5 1337.7,226.0 1338.3,225.5 1339.0,225.0 1339.7,224.5 1340.3,224.0 1341.0,223.5 1341.6,223.0 1342.2,222.5 1342.8,222.0 1343.4,221.5 1344.0,221.0 1344.6,220.5 1345.2,220.0 1345.8,219.5 1346.3,219.0 1346.9,218.5 1347.5,218.0 1348.0,217.5 1348.6,217.0 1349.2,216.5 1349.7,216.0 1350.3,215.5 1350.8,215.0 1351.3,214.5 1351.9,214.0 1352.4,213.5 1352.9,213.0 1353.4,212.5 1353.9,212.0 1354.4,211.5 1354.9,211.0 1355.4,210.5 1355.9,210.0 1356.4,209.5 1356.9,209.0 1357.4,208.5 1357.9,208.0 1358.4,207.5 1358.9,207.0 1359.4,206.5 1359.9,206.0 1360.4,205.5 1361.0,205.0 1361.5,204.5 1362.0,204.0 1362.5,203.5 1363.0,203.0 1363.5,202.5 1363.9,202.0 1364.4,201.5 1364.8,201.0 1365.3,200.5 1365.7,200.0 1366.1,199.5 1366.5,199.0 1366.9,198.5 1367.3,198.0 1367.7,197.5 1368.1,197.0 1368.5,196.5 1368.9,196.0 1369.3,195.5 1369.7,195.0 1370.1,194.5 1370.6,194.0 1371.0,193.5 1371.4,193.0 1371.8,192.5 1372.2,192.0 1372.5,191.5 1372.9,191.0 1373.2,190.5 1373.5,190.0 1373.7,189.5 1374.0,189.0 1374.2,188.5 1374.4,188.0 1374.7,187.5 1374.9,187.0 1375.1,186.5 1375.2,186.0 1375.4,185.5 1375.6,185.0 1375.7,184.5 1375.9,184.0 1376.0,183.5 1376.2,183.0 1376.3,182.5 1376.4,182.0 1376.5,181.5 1376.6,181.0 1376.7,180.5 1376.8,180.0 1376.9,179.5 1377.0,179.0 1377.1,178.5 1377.2,178.0 1377.3,177.5 1377.4,177.0 1377.5,176.5 1377.5,176.0 1377.6,175.5 1377.7,175.0 1377.7,174.5 1377.8,174.0 1377.8,173.5 1377.9,173.0 1378.0,172.5 1378.0,172.0 1378.1,171.5 1378.2,171.0 1378.2,170.5 1378.3,170.0 1378.4,169.5 1378.5,169.0 1378.6,168.5 1378.7,168.0 1378.8,167.5 1378.9,167.0 1379.0,166.5 1379.1,166.0 1379.3,165.5 1379.4,165.0 1379.5,164.5 1379.6,164.0 1379.7,163.5 1379.8,163.0 1379.9,162.5 1380.0,162.0 1380.1,161.5 1380.2,161.0 1380.3,160.5 1380.4,160.0 1380.4,159.5 1380.6,159.0 1380.7,158.5 1380.8,158.0 1380.9,157.5 1381.0,157.0 1381.1,156.5 1381.2,156.0 1381.3,155.5 1381.3,155.0 1381.4,154.5 1381.5,154.0 1381.5,153.5 1381.6,153.0 1381.6,152.5 1381.7,152.0 1381.7,151.5 1381.7,151.0 1381.8,150.5 1381.8,150.0 1381.8,149.5 1381.9,149.0 1381.9,148.5 1381.9,148.0 1381.9,147.5 1381.9,147.0 1382.0,146.5 1382.0,146.0 1382.0,145.5 1381.9,145.0 1381.9,144.5 1381.9,144.0 1381.8,143.5 1381.8,143.0 1381.7,142.5 1381.6,142.0 1381.6,141.5 1381.5,141.0 1381.5,140.5 1381.4,140.0 1381.4,139.5 1381.3,139.0 1381.3,138.5 1381.3,138.0 1381.3,137.5 1381.3,137.0 1381.3,136.5 1381.3,136.0 1381.4,135.5 1381.4,135.0 1381.4,134.5 1381.4,134.0 1381.5,133.5 1381.5,133.0 1381.5,132.5 1381.5,132.0 1381.6,131.5 1381.6,131.0 1381.6,130.5 1381.6,130.0 1381.7,129.5 1381.7,129.0 1381.7,128.5 1381.7,128.0 1381.7,127.5 1381.7,127.0 1381.7,126.5 1381.7,126.0 1381.7,125.5 1381.7,125.0 1381.7,124.5 1381.6,124.0 1381.6,123.5 1381.5,123.0 1381.5,122.5 1381.5,122.0 1381.4,121.5 1381.4,121.0 1381.4,120.5 1381.3,120.0 1381.3,119.5 1381.3,119.0 1381.3,118.5 1381.3,118.0 1381.3,117.5 1381.4,117.0 1381.4,116.5 1381.4,116.0 1381.5,115.5 1381.5,115.0 1381.6,114.5 1381.6,114.0 1381.7,113.5 1381.7,113.0 1381.8,112.5 1381.9,112.0 1381.9,111.5 1382.0,111.0 1382.0,110.5 1382.1,110.0 1382.2,109.5 1382.3,109.0 1382.4,108.5 1382.4,108.0 1382.5,107.5 1382.6,107.0 1382.7,106.5 1382.8,106.0 1382.9,105.5 1382.9,105.0 1383.0,104.5 1383.0,104.0 1383.0,103.5 1383.0,103.0 1383.0,102.5 1383.0,102.0 1383.0,101.5 1383.0,101.0 1382.9,100.5 1382.9,100.0 1382.9,99.5 1382.9,99.0 1382.8,98.5 1382.8,98.0 1382.8,97.5 1382.8,97.0 1382.7,96.5 1382.7,96.0 1382.7,95.5 1382.7,95.0 1382.6,94.5 1382.6,94.0 1382.6,93.5 1382.6,93.0 1382.6,92.5 1382.6,92.0 1382.6,91.5 1382.6,91.0 1382.6,90.5 1382.6,90.0 1382.6,89.5 1382.6,89.0 1382.6,88.5 1382.6,88.0 1382.6,87.5 1382.6,87.0 1382.6,86.5 1382.6,86.0 1382.6,85.5 1382.6,85.0 1382.6,84.5 1382.6,84.0 1382.6,83.5 1382.6,83.0 1382.6,82.5 1382.6,82.0 1382.6,81.5 1382.6,81.0 1382.6,80.5 1382.6,80.0 1382.6,79.5 1382.6,79.0 1382.6,78.5 1382.6,78.0 1382.6,77.5 1382.6,77.0 1382.6,76.5 1382.6,76.0 1382.6,75.5 1382.7,75.0 1382.7,74.5 1382.7,74.0 1382.7,73.5 1382.8,73.0 1382.8,72.5 1382.8,72.0 1382.9,71.5 1382.9,71.0 1383.0,70.5 1383.0,70.0 1383.0,69.5 1383.1,69.0 1383.1,68.5 1383.2,68.0 1383.2,67.5 1383.3,67.0 1383.3,66.5 1383.4,66.0 1383.4,65.5 1383.5,65.0 1383.5,64.5 1383.6,64.0 1383.6,63.5 1383.7,63.0 1383.7,62.5 1383.8,62.0 1383.9,61.5 1384.0,61.0 1384.0,60.5 1384.1,60.0 1384.2,59.5 1384.3,59.0 1384.3,58.5 1384.3,58.0 1384.3,57.5 1384.3,57.0Z" fill="#E7B800" stroke="#000" stroke-width="1.60" stroke-linejoin="round"/>
<line x1="1384.30" y1="165.10" x2="1384.30" y2="398.00" stroke="#000" stroke-width="1.50"/>
<line x1="1384.30" y1="36.20" x2="1384.30" y2="60.00" stroke="#000" stroke-width="1.30"/>
<circle cx="1384.30" cy="68.00" r="2.50" fill="#000"/>
<circle cx="1384.30" cy="75.00" r="2.50" fill="#000"/>
<circle cx="1384.30" cy="82.00" r="2.50" fill="#000"/>
<circle cx="1384.30" cy="88.00" r="2.50" fill="#000"/>
<circle cx="1384.30" cy="115.00" r="2.30" fill="#000"/>
<circle cx="1384.30" cy="119.00" r="2.30" fill="#000"/>
<circle cx="1384.30" cy="126.00" r="2.50" fill="#000"/>
<circle cx="1384.30" cy="131.00" r="2.50" fill="#000"/>
<circle cx="1384.30" cy="135.50" r="2.30" fill="#000"/>
<circle cx="1384.30" cy="139.50" r="2.30" fill="#000"/>
<rect x="1365.30" y="245.50" width="38.10" height="54.40" fill="#fff" stroke="#000" stroke-width="1.50"/>
<line x1="1365.30" y1="274.20" x2="1403.40" y2="274.20" stroke="#000" stroke-width="3.00"/>
<path d="M1194.40,66.00 V56.80 H1384.30 V56.80" fill="none" stroke="#1a1a1a" stroke-width="1.20"/>
<text transform="translate(1298.40,49.10) scale(0.950,1.040)" font-size="39.00" x="-50.80 -28.25 -16.56 6.27 29.11">0.031</text>
<path d="M1080.50,17.00 V448.90 H1498.90" fill="none" stroke="#1c1c1c" stroke-width="1.90" stroke-linecap="butt" stroke-linejoin="round"/>
<line x1="1076.90" y1="54.00" x2="1080.50" y2="54.00" stroke="#000" stroke-width="1.90"/>
<text transform="translate(1077.20,63.00) scale(0.950,1.040)" font-size="39.00" x="-45.09 -22.26">10</text>
<line x1="1076.90" y1="154.20" x2="1080.50" y2="154.20" stroke="#000" stroke-width="1.90"/>
<text transform="translate(1073.80,166.00) scale(0.950,1.040)" font-size="39.00" x="-22.26">5</text>
<line x1="1076.90" y1="254.10" x2="1080.50" y2="254.10" stroke="#000" stroke-width="1.90"/>
<text transform="translate(1073.80,260.60) scale(0.950,1.040)" font-size="39.00" x="-22.26">0</text>
<line x1="1076.90" y1="354.00" x2="1080.50" y2="354.00" stroke="#000" stroke-width="1.90"/>
<text transform="translate(1073.00,361.20) scale(0.950,1.040)" font-size="39.00" x="-46.21 -22.26">−5</text>
<line x1="1194.40" y1="448.90" x2="1194.40" y2="452.50" stroke="#000" stroke-width="1.90"/>
<line x1="1384.30" y1="448.90" x2="1384.30" y2="452.50" stroke="#000" stroke-width="1.90"/>
<text transform="translate(1284.55,491.80) scale(0.950,1.012)" font-size="39.00" x="-114.43 -82.73 -59.61 -25.76 -5.51 3.66 15.35 38.19 60.67 70.14 92.97">Gemcitabine</text>
<text transform="translate(1022.20,180.30) rotate(-90) scale(0.950,1.030)" font-size="39.00" x="-95.61 -86.14 -63.31 -40.48 -17.88 -4.27 7.60 37.07 59.90 82.51">log2(IC50)</text>
</g>
<g>
<path d="M235.0,632.5 235.0,633.0 235.0,633.5 235.0,634.0 235.0,634.5 235.0,635.0 235.0,635.5 235.0,636.0 235.0,636.5 235.0,637.0 235.0,637.5 235.0,638.0 235.0,638.5 235.0,639.0 235.1,639.5 235.1,640.0 235.2,640.5 235.2,641.0 235.3,641.5 235.3,642.0 235.4,642.5 235.4,643.0 235.5,643.5 235.5,644.0 235.6,644.5 235.6,645.0 235.7,645.5 235.8,646.0 235.8,646.5 235.9,647.0 236.0,647.5 236.2,648.0 236.3,648.5 236.4,649.0 236.5,649.5 236.6,650.0 236.7,650.5 236.8,651.0 236.8,651.5 236.9,652.0 236.9,652.5 236.9,653.0 236.9,653.5 236.8,654.0 236.8,654.5 236.7,655.0 236.6,655.5 236.4,656.0 236.3,656.5 236.2,657.0 236.1,657.5 236.0,658.0 235.9,658.5 235.8,659.0 235.7,659.5 235.6,660.0 235.6,660.5 235.5,661.0 235.5,661.5 235.4,662.0 235.4,662.5 235.3,663.0 235.3,663.5 235.2,664.0 235.2,664.5 235.2,665.0 235.2,665.5 235.2,666.0 235.1,666.5 235.1,667.0 235.1,667.5 235.1,668.0 235.1,668.5 235.1,669.0 235.1,669.5 235.1,670.0 235.1,670.5 235.1,671.0 235.1,671.5 235.1,672.0 235.1,672.5 235.1,673.0 235.1,673.5 235.1,674.0 235.1,674.5 235.1,675.0 235.1,675.5 235.1,676.0 235.1,676.5 235.1,677.0 235.1,677.5 235.1,678.0 235.1,678.5 235.1,679.0 235.1,679.5 235.1,680.0 235.1,680.5 235.1,681.0 235.1,681.5 235.1,682.0 235.1,682.5 235.1,683.0 235.1,683.5 235.1,684.0 235.1,684.5 235.1,685.0 235.1,685.5 235.1,686.0 235.1,686.5 235.1,687.0 235.1,687.5 235.1,688.0 235.1,688.5 235.1,689.0 235.1,689.5 235.1,690.0 235.1,690.5 235.1,691.0 235.1,691.5 235.1,692.0 235.1,692.5 235.1,693.0 235.1,693.5 235.1,694.0 235.1,694.5 235.1,695.0 235.1,695.5 235.1,696.0 235.1,696.5 235.1,697.0 235.1,697.5 235.1,698.0 235.1,698.5 235.1,699.0 235.1,699.5 235.1,700.0 235.1,700.5 235.1,701.0 235.1,701.5 235.1,702.0 235.1,702.5 235.1,703.0 235.1,703.5 235.1,704.0 235.1,704.5 235.1,705.0 235.1,705.5 235.1,706.0 235.1,706.5 235.1,707.0 235.1,707.5 235.1,708.0 235.1,708.5 235.1,709.0 235.1,709.5 235.1,710.0 235.1,710.5 235.1,711.0 235.1,711.5 235.1,712.0 235.1,712.5 235.1,713.0 235.1,713.5 235.1,714.0 235.1,714.5 235.1,715.0 235.1,715.5 235.1,716.0 235.1,716.5 235.1,717.0 235.1,717.5 235.1,718.0 235.1,718.5 235.1,719.0 235.1,719.5 235.1,720.0 235.1,720.5 235.1,721.0 235.1,721.5 235.1,722.0 235.1,722.5 235.1,723.0 235.1,723.5 235.1,724.0 235.1,724.5 235.1,725.0 235.1,725.5 235.1,726.0 235.1,726.5 235.1,727.0 235.1,727.5 235.1,728.0 235.1,728.5 235.1,729.0 235.1,729.5 235.1,730.0 235.1,730.5 235.1,731.0 235.1,731.5 235.1,732.0 235.1,732.5 235.1,733.0 235.1,733.5 235.1,734.0 235.1,734.5 235.1,735.0 235.1,735.5 235.1,736.0 235.1,736.5 235.1,737.0 235.1,737.5 235.1,738.0 235.1,738.5 235.1,739.0 235.1,739.5 235.1,740.0 235.1,740.5 235.1,741.0 235.1,741.5 235.1,742.0 235.1,742.5 235.1,743.0 235.1,743.5 235.1,744.0 235.1,744.5 235.1,745.0 235.1,745.5 235.1,746.0 235.1,746.5 235.1,747.0 235.1,747.5 235.1,748.0 235.1,748.5 235.1,749.0 235.1,749.5 235.1,750.0 235.1,750.5 235.1,751.0 235.1,751.5 235.1,752.0 235.1,752.5 235.1,753.0 235.1,753.5 235.1,754.0 235.1,754.5 235.1,755.0 235.1,755.5 235.1,756.0 235.1,756.5 235.1,757.0 235.1,757.5 235.1,758.0 235.1,758.5 235.1,759.0 235.1,759.5 235.1,760.0 235.1,760.5 235.1,761.0 235.1,761.5 235.1,762.0 235.1,762.5 235.1,763.0 235.2,763.5 235.2,764.0 235.3,764.5 235.3,765.0 235.4,765.5 235.5,766.0 235.6,766.5 235.7,767.0 235.9,767.5 236.0,768.0 236.1,768.5 236.2,769.0 236.3,769.5 236.4,770.0 236.5,770.5 236.6,771.0 236.6,771.5 236.7,772.0 236.8,772.5 236.9,773.0 236.9,773.5 237.0,774.0 237.1,774.5 237.1,775.0 237.2,775.5 237.2,776.0 237.3,776.5 237.3,777.0 237.3,777.5 237.3,778.0 237.3,778.5 237.3,779.0 237.3,779.5 237.3,780.0 237.3,780.5 237.3,781.0 237.3,781.5 237.3,782.0 237.3,782.5 237.3,783.0 237.2,783.5 237.2,784.0 237.2,784.5 237.2,785.0 237.2,785.5 237.2,786.0 237.2,786.5 237.2,787.0 237.1,787.5 237.1,788.0 237.1,788.5 237.1,789.0 237.1,789.5 237.1,790.0 237.1,790.5 237.2,791.0 237.2,791.5 237.2,792.0 237.3,792.5 237.3,793.0 237.4,793.5 237.4,794.0 237.5,794.5 237.5,795.0 237.6,795.5 237.6,796.0 237.7,796.5 237.8,797.0 237.8,797.5 237.9,798.0 237.9,798.5 238.0,799.0 238.0,799.5 238.1,800.0 238.1,800.5 238.1,801.0 238.2,801.5 238.2,802.0 238.2,802.5 238.2,803.0 238.3,803.5 238.3,804.0 238.3,804.5 238.4,805.0 238.4,805.5 238.4,806.0 238.5,806.5 238.5,807.0 238.5,807.5 238.6,808.0 238.6,808.5 238.6,809.0 238.7,809.5 238.7,810.0 238.7,810.5 238.8,811.0 238.8,811.5 238.9,812.0 238.9,812.5 238.9,813.0 239.0,813.5 239.0,814.0 239.1,814.5 239.1,815.0 239.2,815.5 239.2,816.0 239.2,816.5 239.3,817.0 239.3,817.5 239.3,818.0 239.4,818.5 239.4,819.0 239.4,819.5 239.5,820.0 239.5,820.5 239.5,821.0 239.6,821.5 239.6,822.0 239.6,822.5 239.6,823.0 239.7,823.5 239.7,824.0 239.7,824.5 239.7,825.0 239.7,825.5 239.7,826.0 239.8,826.5 239.8,827.0 239.8,827.5 239.8,828.0 239.8,828.5 239.8,829.0 239.8,829.5 239.8,830.0 239.9,830.5 239.9,831.0 239.9,831.5 240.0,832.0 240.0,832.5 240.1,833.0 240.2,833.5 240.3,834.0 240.3,834.5 240.5,835.0 240.6,835.5 240.8,836.0 241.0,836.5 241.3,837.0 241.5,837.5 241.8,838.0 242.1,838.5 242.4,839.0 242.8,839.5 243.1,840.0 243.5,840.5 243.9,841.0 244.4,841.5 244.9,842.0 245.5,842.5 246.0,843.0 246.6,843.5 247.1,844.0 247.7,844.5 248.3,845.0 248.8,845.5 249.4,846.0 250.0,846.5 250.7,847.0 251.3,847.5 251.9,848.0 252.5,848.5 253.1,849.0 253.7,849.5 254.3,850.0 255.0,850.5 255.6,851.0 256.2,851.5 256.8,852.0 257.4,852.5 258.0,853.0 258.6,853.5 259.2,854.0 259.8,854.5 260.3,855.0 260.9,855.5 261.5,856.0 262.0,856.5 262.6,857.0 263.2,857.5 263.8,858.0 264.4,858.5 265.1,859.0 265.8,859.5 266.5,860.0 267.3,860.5 268.1,861.0 268.9,861.5 269.7,862.0 270.5,862.5 271.4,863.0 272.3,863.5 273.2,864.0 274.1,864.5 275.0,865.0 276.0,865.5 277.0,866.0 278.0,866.5 279.0,867.0 280.1,867.5 281.2,868.0 282.3,868.5 283.4,869.0 284.6,869.5 285.8,870.0 287.1,870.5 288.4,871.0 289.6,871.5 290.9,872.0 292.1,872.5 293.3,873.0 294.5,873.5 295.7,874.0 296.9,874.5 298.0,875.0 299.1,875.5 300.2,876.0 301.2,876.5 302.2,877.0 303.2,877.5 304.1,878.0 305.0,878.5 305.9,879.0 306.7,879.5 307.4,880.0 307.9,880.5 308.5,881.0 309.0,881.5 309.5,882.0 309.9,882.5 310.3,883.0 310.7,883.5 311.0,884.0 311.2,884.5 311.4,885.0 311.6,885.5 311.8,886.0 312.0,886.5 312.1,887.0 312.2,887.5 312.2,888.0 312.2,888.5 312.1,889.0 312.0,889.5 311.9,890.0 311.8,890.5 311.6,891.0 311.5,891.5 311.3,892.0 311.1,892.5 310.9,893.0 310.6,893.5 310.2,894.0 309.8,894.5 309.4,895.0 308.9,895.5 308.4,896.0 307.8,896.5 307.3,897.0 306.7,897.5 306.1,898.0 305.5,898.5 304.9,899.0 304.2,899.5 303.5,900.0 302.8,900.5 302.1,901.0 301.3,901.5 300.5,902.0 299.7,902.5 298.9,903.0 298.1,903.5 297.3,904.0 296.4,904.5 295.5,905.0 294.6,905.5 293.6,906.0 292.6,906.5 291.6,907.0 290.6,907.5 289.4,908.0 288.2,908.5 286.9,909.0 285.6,909.5 284.3,910.0 283.0,910.5 281.8,911.0 280.5,911.5 279.2,912.0 277.9,912.5 276.6,913.0 275.4,913.5 274.1,914.0 272.9,914.5 271.7,915.0 270.5,915.5 269.3,916.0 268.2,916.5 267.1,917.0 266.0,917.5 264.9,918.0 263.8,918.5 262.8,919.0 261.8,919.5 260.7,920.0 259.7,920.5 258.8,921.0 257.8,921.5 256.8,922.0 255.9,922.5 254.9,923.0 254.0,923.5 253.1,924.0 252.1,924.5 251.2,925.0 250.3,925.5 249.5,926.0 248.7,926.5 247.9,927.0 247.1,927.5 246.4,928.0 245.7,928.5 245.0,929.0 244.4,929.5 243.9,930.0 243.4,930.5 243.0,931.0 242.6,931.5 242.2,932.0 241.8,932.5 241.5,933.0 241.2,933.5 241.0,934.0 240.9,934.5 240.7,935.0 240.6,935.5 240.5,936.0 240.4,936.5 240.3,937.0 240.2,937.5 240.1,938.0 240.1,938.5 240.0,939.0 239.9,939.5 239.9,940.0 239.8,940.5 239.8,941.0 239.7,941.5 239.6,942.0 239.6,942.5 239.5,943.0 239.5,943.5 239.4,944.0 239.4,944.5 239.3,945.0 239.3,945.5 239.2,946.0 239.2,946.5 239.1,947.0 239.0,947.5 238.9,948.0 238.9,948.5 238.7,949.0 238.6,949.5 238.5,950.0 238.3,950.5 238.2,951.0 238.0,951.5 237.9,952.0 237.7,952.5 237.5,953.0 237.4,953.5 237.3,954.0 237.1,954.5 237.0,955.0 236.9,955.5 236.8,956.0 236.6,956.5 236.5,957.0 236.4,957.5 236.3,958.0 236.2,958.5 236.1,959.0 236.0,959.5 235.9,960.0 235.8,960.5 235.7,961.0 235.6,961.5 235.5,962.0 235.5,962.5 235.4,963.0 235.3,963.5 235.3,964.0 235.2,964.5 235.1,965.0 235.1,965.5 235.0,966.0 235.0,966.5 235.0,967.0 235.0,967.5 235.0,968.0 235.0,968.5 235.0,969.0 235.0,969.0 235.0,968.5 235.0,968.0 235.0,967.5 235.0,967.0 235.0,966.5 235.0,966.0 234.9,965.5 234.9,965.0 234.8,964.5 234.7,964.0 234.7,963.5 234.6,963.0 234.5,962.5 234.5,962.0 234.4,961.5 234.3,961.0 234.2,960.5 234.1,960.0 234.0,959.5 233.9,959.0 233.8,958.5 233.7,958.0 233.6,957.5 233.5,957.0 233.4,956.5 233.2,956.0 233.1,955.5 233.0,955.0 232.9,954.5 232.7,954.0 232.6,953.5 232.5,953.0 232.3,952.5 232.1,952.0 232.0,951.5 231.8,951.0 231.7,950.5 231.5,950.0 231.4,949.5 231.3,949.0 231.1,948.5 231.1,948.0 231.0,947.5 230.9,947.0 230.8,946.5 230.8,946.0 230.7,945.5 230.7,945.0 230.6,944.5 230.6,944.0 230.5,943.5 230.5,943.0 230.4,942.5 230.4,942.0 230.3,941.5 230.2,941.0 230.2,940.5 230.1,940.0 230.1,939.5 230.0,939.0 229.9,938.5 229.9,938.0 229.8,937.5 229.7,937.0 229.6,936.5 229.5,936.0 229.4,935.5 229.3,935.0 229.1,934.5 229.0,934.0 228.8,933.5 228.5,933.0 228.2,932.5 227.8,932.0 227.4,931.5 227.0,931.0 226.6,930.5 226.1,930.0 225.6,929.5 225.0,929.0 224.3,928.5 223.6,928.0 222.9,927.5 222.1,927.0 221.3,926.5 220.5,926.0 219.7,925.5 218.8,925.0 217.9,924.5 216.9,924.0 216.0,923.5 215.1,923.0 214.1,922.5 213.2,922.0 212.2,921.5 211.2,921.0 210.3,920.5 209.3,920.0 208.2,919.5 207.2,919.0 206.2,918.5 205.1,918.0 204.0,917.5 202.9,917.0 201.8,916.5 200.7,916.0 199.5,915.5 198.3,915.0 197.1,914.5 195.9,914.0 194.6,913.5 193.4,913.0 192.1,912.5 190.8,912.0 189.5,911.5 188.2,911.0 187.0,910.5 185.7,910.0 184.4,909.5 183.1,909.0 181.8,908.5 180.6,908.0 179.4,907.5 178.4,907.0 177.4,906.5 176.4,906.0 175.4,905.5 174.5,905.0 173.6,904.5 172.7,904.0 171.9,903.5 171.1,903.0 170.3,902.5 169.5,902.0 168.7,901.5 167.9,901.0 167.2,900.5 166.5,900.0 165.8,899.5 165.1,899.0 164.5,898.5 163.9,898.0 163.3,897.5 162.7,897.0 162.2,896.5 161.6,896.0 161.1,895.5 160.6,895.0 160.2,894.5 159.8,894.0 159.4,893.5 159.1,893.0 158.9,892.5 158.7,892.0 158.5,891.5 158.4,891.0 158.2,890.5 158.1,890.0 158.0,889.5 157.9,889.0 157.8,888.5 157.8,888.0 157.8,887.5 157.9,887.0 158.0,886.5 158.2,886.0 158.4,885.5 158.6,885.0 158.8,884.5 159.0,884.0 159.3,883.5 159.7,883.0 160.1,882.5 160.5,882.0 161.0,881.5 161.5,881.0 162.1,880.5 162.6,880.0 163.3,879.5 164.1,879.0 165.0,878.5 165.9,878.0 166.8,877.5 167.8,877.0 168.8,876.5 169.8,876.0 170.9,875.5 172.0,875.0 173.1,874.5 174.3,874.0 175.5,873.5 176.7,873.0 177.9,872.5 179.1,872.0 180.4,871.5 181.6,871.0 182.9,870.5 184.2,870.0 185.4,869.5 186.6,869.0 187.7,868.5 188.8,868.0 189.9,867.5 191.0,867.0 192.0,866.5 193.0,866.0 194.0,865.5 195.0,865.0 195.9,864.5 196.8,864.0 197.7,863.5 198.6,863.0 199.5,862.5 200.3,862.0 201.1,861.5 201.9,861.0 202.7,860.5 203.5,860.0 204.2,859.5 204.9,859.0 205.6,858.5 206.2,858.0 206.8,857.5 207.4,857.0 208.0,856.5 208.5,856.0 209.1,855.5 209.7,855.0 210.2,854.5 210.8,854.0 211.4,853.5 212.0,853.0 212.6,852.5 213.2,852.0 213.8,851.5 214.4,851.0 215.0,850.5 215.7,850.0 216.3,849.5 216.9,849.0 217.5,848.5 218.1,848.0 218.7,847.5 219.3,847.0 220.0,846.5 220.6,846.0 221.2,845.5 221.7,845.0 222.3,844.5 222.9,844.0 223.4,843.5 224.0,843.0 224.5,842.5 225.1,842.0 225.6,841.5 226.1,841.0 226.5,840.5 226.9,840.0 227.2,839.5 227.6,839.0 227.9,838.5 228.2,838.0 228.5,837.5 228.7,837.0 229.0,836.5 229.2,836.0 229.4,835.5 229.5,835.0 229.7,834.5 229.7,834.0 229.8,833.5 229.9,833.0 230.0,832.5 230.0,832.0 230.1,831.5 230.1,831.0 230.1,830.5 230.2,830.0 230.2,829.5 230.2,829.0 230.2,828.5 230.2,828.0 230.2,827.5 230.2,827.0 230.2,826.5 230.3,826.0 230.3,825.5 230.3,825.0 230.3,824.5 230.3,824.0 230.3,823.5 230.4,823.0 230.4,822.5 230.4,822.0 230.4,821.5 230.5,821.0 230.5,820.5 230.5,820.0 230.6,819.5 230.6,819.0 230.6,818.5 230.7,818.0 230.7,817.5 230.7,817.0 230.8,816.5 230.8,816.0 230.8,815.5 230.9,815.0 230.9,814.5 231.0,814.0 231.0,813.5 231.1,813.0 231.1,812.5 231.1,812.0 231.2,811.5 231.2,811.0 231.3,810.5 231.3,810.0 231.3,809.5 231.4,809.0 231.4,808.5 231.4,808.0 231.5,807.5 231.5,807.0 231.5,806.5 231.6,806.0 231.6,805.5 231.6,805.0 231.7,804.5 231.7,804.0 231.7,803.5 231.8,803.0 231.8,802.5 231.8,802.0 231.8,801.5 231.9,801.0 231.9,800.5 231.9,800.0 232.0,799.5 232.0,799.0 232.1,798.5 232.1,798.0 232.2,797.5 232.2,797.0 232.3,796.5 232.4,796.0 232.4,795.5 232.5,795.0 232.5,794.5 232.6,794.0 232.6,793.5 232.7,793.0 232.7,792.5 232.8,792.0 232.8,791.5 232.8,791.0 232.9,790.5 232.9,790.0 232.9,789.5 232.9,789.0 232.9,788.5 232.9,788.0 232.9,787.5 232.8,787.0 232.8,786.5 232.8,786.0 232.8,785.5 232.8,785.0 232.8,784.5 232.8,784.0 232.8,783.5 232.7,783.0 232.7,782.5 232.7,782.0 232.7,781.5 232.7,781.0 232.7,780.5 232.7,780.0 232.7,779.5 232.7,779.0 232.7,778.5 232.7,778.0 232.7,777.5 232.7,777.0 232.7,776.5 232.8,776.0 232.8,775.5 232.9,775.0 232.9,774.5 233.0,774.0 233.1,773.5 233.1,773.0 233.2,772.5 233.3,772.0 233.4,771.5 233.4,771.0 233.5,770.5 233.6,770.0 233.7,769.5 233.8,769.0 233.9,768.5 234.0,768.0 234.1,767.5 234.3,767.0 234.4,766.5 234.5,766.0 234.6,765.5 234.7,765.0 234.7,764.5 234.8,764.0 234.8,763.5 234.9,763.0 234.9,762.5 234.9,762.0 234.9,761.5 234.9,761.0 234.9,760.5 234.9,760.0 234.9,759.5 234.9,759.0 234.9,758.5 234.9,758.0 234.9,757.5 234.9,757.0 234.9,756.5 234.9,756.0 234.9,755.5 234.9,755.0 234.9,754.5 234.9,754.0 234.9,753.5 234.9,753.0 234.9,752.5 234.9,752.0 234.9,751.5 234.9,751.0 234.9,750.5 234.9,750.0 234.9,749.5 234.9,749.0 234.9,748.5 234.9,748.0 234.9,747.5 234.9,747.0 234.9,746.5 234.9,746.0 234.9,745.5 234.9,745.0 234.9,744.5 234.9,744.0 234.9,743.5 234.9,743.0 234.9,742.5 234.9,742.0 234.9,741.5 234.9,741.0 234.9,740.5 234.9,740.0 234.9,739.5 234.9,739.0 234.9,738.5 234.9,738.0 234.9,737.5 234.9,737.0 234.9,736.5 234.9,736.0 234.9,735.5 234.9,735.0 234.9,734.5 234.9,734.0 234.9,733.5 234.9,733.0 234.9,732.5 234.9,732.0 234.9,731.5 234.9,731.0 234.9,730.5 234.9,730.0 234.9,729.5 234.9,729.0 234.9,728.5 234.9,728.0 234.9,727.5 234.9,727.0 234.9,726.5 234.9,726.0 234.9,725.5 234.9,725.0 234.9,724.5 234.9,724.0 234.9,723.5 234.9,723.0 234.9,722.5 234.9,722.0 234.9,721.5 234.9,721.0 234.9,720.5 234.9,720.0 234.9,719.5 234.9,719.0 234.9,718.5 234.9,718.0 234.9,717.5 234.9,717.0 234.9,716.5 234.9,716.0 234.9,715.5 234.9,715.0 234.9,714.5 234.9,714.0 234.9,713.5 234.9,713.0 234.9,712.5 234.9,712.0 234.9,711.5 234.9,711.0 234.9,710.5 234.9,710.0 234.9,709.5 234.9,709.0 234.9,708.5 234.9,708.0 234.9,707.5 234.9,707.0 234.9,706.5 234.9,706.0 234.9,705.5 234.9,705.0 234.9,704.5 234.9,704.0 234.9,703.5 234.9,703.0 234.9,702.5 234.9,702.0 234.9,701.5 234.9,701.0 234.9,700.5 234.9,700.0 234.9,699.5 234.9,699.0 234.9,698.5 234.9,698.0 234.9,697.5 234.9,697.0 234.9,696.5 234.9,696.0 234.9,695.5 234.9,695.0 234.9,694.5 234.9,694.0 234.9,693.5 234.9,693.0 234.9,692.5 234.9,692.0 234.9,691.5 234.9,691.0 234.9,690.5 234.9,690.0 234.9,689.5 234.9,689.0 234.9,688.5 234.9,688.0 234.9,687.5 234.9,687.0 234.9,686.5 234.9,686.0 234.9,685.5 234.9,685.0 234.9,684.5 234.9,684.0 234.9,683.5 234.9,683.0 234.9,682.5 234.9,682.0 234.9,681.5 234.9,681.0 234.9,680.5 234.9,680.0 234.9,679.5 234.9,679.0 234.9,678.5 234.9,678.0 234.9,677.5 234.9,677.0 234.9,676.5 234.9,676.0 234.9,675.5 234.9,675.0 234.9,674.5 234.9,674.0 234.9,673.5 234.9,673.0 234.9,672.5 234.9,672.0 234.9,671.5 234.9,671.0 234.9,670.5 234.9,670.0 234.9,669.5 234.9,669.0 234.9,668.5 234.9,668.0 234.9,667.5 234.9,667.0 234.9,666.5 234.8,666.0 234.8,665.5 234.8,665.0 234.8,664.5 234.8,664.0 234.7,663.5 234.7,663.0 234.6,662.5 234.6,662.0 234.5,661.5 234.5,661.0 234.4,660.5 234.4,660.0 234.3,659.5 234.2,659.0 234.1,658.5 234.0,658.0 233.9,657.5 233.8,657.0 233.7,656.5 233.6,656.0 233.4,655.5 233.3,655.0 233.2,654.5 233.2,654.0 233.1,653.5 233.1,653.0 233.1,652.5 233.1,652.0 233.2,651.5 233.2,651.0 233.3,650.5 233.4,650.0 233.5,649.5 233.6,649.0 233.7,648.5 233.8,648.0 234.0,647.5 234.1,647.0 234.2,646.5 234.2,646.0 234.3,645.5 234.4,645.0 234.4,644.5 234.5,644.0 234.5,643.5 234.6,643.0 234.6,642.5 234.7,642.0 234.7,641.5 234.8,641.0 234.8,640.5 234.9,640.0 234.9,639.5 235.0,639.0 235.0,638.5 235.0,638.0 235.0,637.5 235.0,637.0 235.0,636.5 235.0,636.0 235.0,635.5 235.0,635.0 235.0,634.5 235.0,634.0 235.0,633.5 235.0,633.0 235.0,632.5Z" fill="#00AFBB" stroke="#000" stroke-width="1.60" stroke-linejoin="round"/>
<line x1="235.00" y1="830.00" x2="235.00" y2="946.00" stroke="#000" stroke-width="1.50"/>
<circle cx="235.00" cy="652.80" r="2.50" fill="#000"/>
<circle cx="235.00" cy="778.00" r="2.50" fill="#000"/>
<circle cx="235.00" cy="784.00" r="2.50" fill="#000"/>
<circle cx="235.00" cy="792.00" r="2.50" fill="#000"/>
<circle cx="235.00" cy="800.00" r="2.50" fill="#000"/>
<circle cx="235.00" cy="806.00" r="2.50" fill="#000"/>
<circle cx="235.00" cy="812.00" r="2.50" fill="#000"/>
<circle cx="235.00" cy="818.00" r="2.50" fill="#000"/>
<circle cx="235.00" cy="825.40" r="2.60" fill="#000"/>
<circle cx="235.00" cy="949.50" r="2.40" fill="#000"/>
<rect x="216.10" y="872.60" width="37.60" height="29.30" fill="#fff" stroke="#000" stroke-width="1.50"/>
<line x1="216.10" y1="887.50" x2="253.70" y2="887.50" stroke="#000" stroke-width="3.00"/>
<path d="M421.4,576.0 421.4,576.5 421.4,577.0 421.4,577.5 421.4,578.0 421.4,578.5 421.4,579.0 421.4,579.5 421.5,580.0 421.5,580.5 421.6,581.0 421.6,581.5 421.7,582.0 421.7,582.5 421.8,583.0 421.8,583.5 421.9,584.0 422.0,584.5 422.0,585.0 422.1,585.5 422.2,586.0 422.3,586.5 422.3,587.0 422.5,587.5 422.6,588.0 422.7,588.5 422.8,589.0 422.9,589.5 423.0,590.0 423.1,590.5 423.1,591.0 423.2,591.5 423.3,592.0 423.3,592.5 423.3,593.0 423.3,593.5 423.3,594.0 423.2,594.5 423.2,595.0 423.1,595.5 423.0,596.0 422.9,596.5 422.8,597.0 422.7,597.5 422.6,598.0 422.5,598.5 422.4,599.0 422.3,599.5 422.2,600.0 422.1,600.5 422.1,601.0 422.0,601.5 422.0,602.0 421.9,602.5 421.8,603.0 421.8,603.5 421.7,604.0 421.7,604.5 421.6,605.0 421.6,605.5 421.6,606.0 421.6,606.5 421.5,607.0 421.5,607.5 421.5,608.0 421.5,608.5 421.5,609.0 421.5,609.5 421.5,610.0 421.5,610.5 421.5,611.0 421.5,611.5 421.5,612.0 421.5,612.5 421.5,613.0 421.5,613.5 421.5,614.0 421.5,614.5 421.5,615.0 421.5,615.5 421.5,616.0 421.5,616.5 421.5,617.0 421.5,617.5 421.5,618.0 421.5,618.5 421.5,619.0 421.5,619.5 421.5,620.0 421.5,620.5 421.5,621.0 421.5,621.5 421.5,622.0 421.5,622.5 421.5,623.0 421.5,623.5 421.5,624.0 421.5,624.5 421.5,625.0 421.5,625.5 421.5,626.0 421.5,626.5 421.5,627.0 421.5,627.5 421.5,628.0 421.5,628.5 421.5,629.0 421.5,629.5 421.5,630.0 421.5,630.5 421.5,631.0 421.5,631.5 421.5,632.0 421.5,632.5 421.5,633.0 421.5,633.5 421.5,634.0 421.5,634.5 421.5,635.0 421.5,635.5 421.5,636.0 421.5,636.5 421.5,637.0 421.5,637.5 421.5,638.0 421.5,638.5 421.5,639.0 421.5,639.5 421.5,640.0 421.5,640.5 421.5,641.0 421.5,641.5 421.5,642.0 421.5,642.5 421.5,643.0 421.5,643.5 421.5,644.0 421.5,644.5 421.5,645.0 421.5,645.5 421.5,646.0 421.5,646.5 421.5,647.0 421.5,647.5 421.5,648.0 421.5,648.5 421.5,649.0 421.5,649.5 421.5,650.0 421.5,650.5 421.5,651.0 421.5,651.5 421.5,652.0 421.5,652.5 421.5,653.0 421.5,653.5 421.5,654.0 421.5,654.5 421.5,655.0 421.5,655.5 421.5,656.0 421.5,656.5 421.5,657.0 421.5,657.5 421.5,658.0 421.5,658.5 421.5,659.0 421.5,659.5 421.5,660.0 421.5,660.5 421.5,661.0 421.5,661.5 421.5,662.0 421.5,662.5 421.5,663.0 421.5,663.5 421.5,664.0 421.5,664.5 421.5,665.0 421.5,665.5 421.5,666.0 421.5,666.5 421.5,667.0 421.5,667.5 421.5,668.0 421.5,668.5 421.5,669.0 421.5,669.5 421.5,670.0 421.5,670.5 421.5,671.0 421.5,671.5 421.5,672.0 421.5,672.5 421.5,673.0 421.5,673.5 421.5,674.0 421.5,674.5 421.5,675.0 421.5,675.5 421.5,676.0 421.5,676.5 421.5,677.0 421.5,677.5 421.5,678.0 421.5,678.5 421.5,679.0 421.5,679.5 421.5,680.0 421.5,680.5 421.5,681.0 421.5,681.5 421.5,682.0 421.5,682.5 421.5,683.0 421.5,683.5 421.5,684.0 421.5,684.5 421.5,685.0 421.5,685.5 421.5,686.0 421.5,686.5 421.5,687.0 421.5,687.5 421.5,688.0 421.5,688.5 421.5,689.0 421.5,689.5 421.5,690.0 421.6,690.5 421.6,691.0 421.6,691.5 421.6,692.0 421.7,692.5 421.7,693.0 421.7,693.5 421.8,694.0 421.8,694.5 421.9,695.0 422.0,695.5 422.0,696.0 422.1,696.5 422.2,697.0 422.2,697.5 422.3,698.0 422.3,698.5 422.4,699.0 422.5,699.5 422.5,700.0 422.6,700.5 422.6,701.0 422.7,701.5 422.7,702.0 422.8,702.5 422.8,703.0 422.9,703.5 423.0,704.0 423.0,704.5 423.1,705.0 423.1,705.5 423.2,706.0 423.2,706.5 423.2,707.0 423.3,707.5 423.3,708.0 423.3,708.5 423.3,709.0 423.3,709.5 423.3,710.0 423.3,710.5 423.3,711.0 423.3,711.5 423.3,712.0 423.3,712.5 423.3,713.0 423.3,713.5 423.3,714.0 423.3,714.5 423.3,715.0 423.3,715.5 423.3,716.0 423.3,716.5 423.3,717.0 423.3,717.5 423.3,718.0 423.3,718.5 423.3,719.0 423.3,719.5 423.2,720.0 423.2,720.5 423.1,721.0 423.1,721.5 423.0,722.0 422.9,722.5 422.8,723.0 422.7,723.5 422.6,724.0 422.6,724.5 422.5,725.0 422.4,725.5 422.4,726.0 422.4,726.5 422.3,727.0 422.3,727.5 422.3,728.0 422.2,728.5 422.2,729.0 422.1,729.5 422.1,730.0 422.1,730.5 422.0,731.0 422.0,731.5 422.0,732.0 422.0,732.5 422.0,733.0 421.9,733.5 421.9,734.0 421.9,734.5 421.9,735.0 421.9,735.5 421.9,736.0 421.9,736.5 421.9,737.0 421.9,737.5 421.9,738.0 421.9,738.5 421.9,739.0 421.9,739.5 421.9,740.0 421.9,740.5 421.9,741.0 421.9,741.5 421.9,742.0 421.9,742.5 421.9,743.0 422.0,743.5 422.0,744.0 422.0,744.5 422.0,745.0 422.0,745.5 422.0,746.0 422.0,746.5 422.0,747.0 422.0,747.5 422.0,748.0 422.0,748.5 422.0,749.0 422.0,749.5 422.0,750.0 422.0,750.5 422.0,751.0 422.1,751.5 422.1,752.0 422.2,752.5 422.2,753.0 422.3,753.5 422.3,754.0 422.4,754.5 422.5,755.0 422.5,755.5 422.6,756.0 422.7,756.5 422.7,757.0 422.8,757.5 422.8,758.0 422.9,758.5 422.9,759.0 423.0,759.5 423.0,760.0 423.0,760.5 423.0,761.0 423.0,761.5 423.0,762.0 423.0,762.5 422.9,763.0 422.9,763.5 422.8,764.0 422.8,764.5 422.7,765.0 422.7,765.5 422.6,766.0 422.6,766.5 422.5,767.0 422.5,767.5 422.5,768.0 422.5,768.5 422.5,769.0 422.5,769.5 422.5,770.0 422.4,770.5 422.4,771.0 422.4,771.5 422.4,772.0 422.4,772.5 422.4,773.0 422.4,773.5 422.4,774.0 422.4,774.5 422.4,775.0 422.4,775.5 422.5,776.0 422.5,776.5 422.6,777.0 422.7,777.5 422.8,778.0 422.9,778.5 423.0,779.0 423.2,779.5 423.3,780.0 423.4,780.5 423.5,781.0 423.6,781.5 423.7,782.0 423.8,782.5 423.9,783.0 423.9,783.5 424.0,784.0 424.0,784.5 423.9,785.0 423.9,785.5 423.9,786.0 423.8,786.5 423.7,787.0 423.6,787.5 423.5,788.0 423.4,788.5 423.3,789.0 423.2,789.5 423.1,790.0 423.0,790.5 422.9,791.0 422.8,791.5 422.8,792.0 422.7,792.5 422.6,793.0 422.5,793.5 422.5,794.0 422.5,794.5 422.4,795.0 422.4,795.5 422.3,796.0 422.3,796.5 422.3,797.0 422.2,797.5 422.2,798.0 422.2,798.5 422.2,799.0 422.2,799.5 422.2,800.0 422.2,800.5 422.3,801.0 422.3,801.5 422.3,802.0 422.4,802.5 422.4,803.0 422.5,803.5 422.7,804.0 422.9,804.5 423.1,805.0 423.4,805.5 423.8,806.0 424.1,806.5 424.5,807.0 424.8,807.5 425.1,808.0 425.5,808.5 426.0,809.0 426.5,809.5 427.1,810.0 427.6,810.5 428.0,811.0 428.4,811.5 428.7,812.0 429.0,812.5 429.2,813.0 429.4,813.5 429.7,814.0 429.9,814.5 430.0,815.0 430.2,815.5 430.3,816.0 430.4,816.5 430.5,817.0 430.5,817.5 430.5,818.0 430.5,818.5 430.5,819.0 430.5,819.5 430.5,820.0 430.5,820.5 430.5,821.0 430.5,821.5 430.5,822.0 430.5,822.5 430.5,823.0 430.5,823.5 430.5,824.0 430.4,824.5 430.3,825.0 430.3,825.5 430.2,826.0 430.1,826.5 430.1,827.0 430.0,827.5 430.0,828.0 430.0,828.5 430.1,829.0 430.2,829.5 430.3,830.0 430.5,830.5 430.7,831.0 430.9,831.5 431.1,832.0 431.3,832.5 431.5,833.0 431.7,833.5 432.0,834.0 432.3,834.5 432.7,835.0 433.0,835.5 433.4,836.0 433.8,836.5 434.3,837.0 434.7,837.5 435.2,838.0 435.7,838.5 436.2,839.0 436.8,839.5 437.4,840.0 438.0,840.5 438.7,841.0 439.3,841.5 440.0,842.0 440.6,842.5 441.3,843.0 441.9,843.5 442.6,844.0 443.4,844.5 444.1,845.0 444.8,845.5 445.5,846.0 446.3,846.5 447.0,847.0 447.7,847.5 448.4,848.0 449.1,848.5 449.8,849.0 450.5,849.5 451.2,850.0 451.9,850.5 452.6,851.0 453.3,851.5 454.0,852.0 454.6,852.5 455.2,853.0 455.8,853.5 456.4,854.0 457.0,854.5 457.6,855.0 458.1,855.5 458.7,856.0 459.4,856.5 460.0,857.0 460.7,857.5 461.4,858.0 462.1,858.5 462.8,859.0 463.5,859.5 464.3,860.0 465.2,860.5 466.1,861.0 467.0,861.5 468.1,862.0 469.2,862.5 470.4,863.0 471.6,863.5 472.9,864.0 474.2,864.5 475.6,865.0 477.0,865.5 478.6,866.0 480.1,866.5 481.8,867.0 483.5,867.5 485.2,868.0 487.1,868.5 489.0,869.0 490.8,869.5 492.6,870.0 494.5,870.5 496.3,871.0 498.1,871.5 499.8,872.0 501.6,872.5 503.3,873.0 504.9,873.5 506.4,874.0 507.7,874.5 509.0,875.0 510.2,875.5 511.3,876.0 512.2,876.5 512.9,877.0 513.6,877.5 514.2,878.0 514.5,878.5 514.5,879.0 514.3,879.5 514.1,880.0 513.9,880.5 513.6,881.0 513.2,881.5 512.5,882.0 511.8,882.5 510.9,883.0 510.0,883.5 509.1,884.0 508.2,884.5 507.3,885.0 506.3,885.5 505.4,886.0 504.4,886.5 503.4,887.0 502.4,887.5 501.5,888.0 500.5,888.5 499.5,889.0 498.5,889.5 497.5,890.0 496.5,890.5 495.6,891.0 494.6,891.5 493.6,892.0 492.6,892.5 491.4,893.0 490.1,893.5 488.8,894.0 487.3,894.5 485.9,895.0 484.4,895.5 483.0,896.0 481.5,896.5 480.0,897.0 478.5,897.5 477.0,898.0 475.5,898.5 474.0,899.0 472.5,899.5 471.0,900.0 469.4,900.5 467.9,901.0 466.3,901.5 464.7,902.0 463.1,902.5 461.5,903.0 459.9,903.5 458.2,904.0 456.5,904.5 454.7,905.0 453.0,905.5 451.3,906.0 449.8,906.5 448.3,907.0 446.8,907.5 445.3,908.0 444.0,908.5 442.9,909.0 442.0,909.5 441.1,910.0 440.3,910.5 439.6,911.0 439.0,911.5 438.4,912.0 437.8,912.5 437.3,913.0 436.8,913.5 436.3,914.0 435.9,914.5 435.4,915.0 435.0,915.5 434.6,916.0 434.3,916.5 433.9,917.0 433.6,917.5 433.2,918.0 432.9,918.5 432.6,919.0 432.3,919.5 432.0,920.0 431.7,920.5 431.4,921.0 431.2,921.5 430.9,922.0 430.6,922.5 430.3,923.0 430.1,923.5 429.8,924.0 429.6,924.5 429.3,925.0 429.1,925.5 428.8,926.0 428.6,926.5 428.3,927.0 428.0,927.5 427.8,928.0 427.5,928.5 427.2,929.0 426.9,929.5 426.6,930.0 426.4,930.5 426.1,931.0 425.8,931.5 425.6,932.0 425.4,932.5 425.1,933.0 424.9,933.5 424.7,934.0 424.5,934.5 424.3,935.0 424.1,935.5 424.0,936.0 423.8,936.5 423.6,937.0 423.5,937.5 423.3,938.0 423.2,938.5 423.1,939.0 423.0,939.5 422.8,940.0 422.7,940.5 422.6,941.0 422.5,941.5 422.4,942.0 422.3,942.5 422.2,943.0 422.1,943.5 422.0,944.0 421.9,944.5 421.8,945.0 421.8,945.5 421.7,946.0 421.6,946.5 421.5,947.0 421.5,947.5 421.4,948.0 421.4,948.5 421.4,949.0 421.4,949.5 421.4,950.0 421.4,950.5 421.4,951.0 421.4,951.5 421.4,952.0 421.4,952.5 421.4,953.0 421.4,953.5 421.4,953.5 421.4,953.0 421.4,952.5 421.4,952.0 421.4,951.5 421.4,951.0 421.4,950.5 421.4,950.0 421.4,949.5 421.4,949.0 421.4,948.5 421.4,948.0 421.3,947.5 421.3,947.0 421.2,946.5 421.1,946.0 421.0,945.5 421.0,945.0 420.9,944.5 420.8,944.0 420.7,943.5 420.6,943.0 420.5,942.5 420.4,942.0 420.3,941.5 420.2,941.0 420.1,940.5 420.0,940.0 419.8,939.5 419.7,939.0 419.6,938.5 419.5,938.0 419.3,937.5 419.2,937.0 419.0,936.5 418.8,936.0 418.7,935.5 418.5,935.0 418.3,934.5 418.1,934.0 417.9,933.5 417.7,933.0 417.4,932.5 417.2,932.0 417.0,931.5 416.7,931.0 416.4,930.5 416.2,930.0 415.9,929.5 415.6,929.0 415.3,928.5 415.0,928.0 414.8,927.5 414.5,927.0 414.2,926.5 414.0,926.0 413.7,925.5 413.5,925.0 413.2,924.5 413.0,924.0 412.7,923.5 412.5,923.0 412.2,922.5 411.9,922.0 411.6,921.5 411.4,921.0 411.1,920.5 410.8,920.0 410.5,919.5 410.2,919.0 409.9,918.5 409.6,918.0 409.2,917.5 408.9,917.0 408.5,916.5 408.2,916.0 407.8,915.5 407.4,915.0 406.9,914.5 406.5,914.0 406.0,913.5 405.5,913.0 405.0,912.5 404.4,912.0 403.8,911.5 403.2,911.0 402.5,910.5 401.7,910.0 400.8,909.5 399.9,909.0 398.8,908.5 397.5,908.0 396.0,907.5 394.5,907.0 393.0,906.5 391.5,906.0 389.8,905.5 388.1,905.0 386.3,904.5 384.6,904.0 382.9,903.5 381.3,903.0 379.7,902.5 378.1,902.0 376.5,901.5 374.9,901.0 373.4,900.5 371.8,900.0 370.3,899.5 368.8,899.0 367.3,898.5 365.8,898.0 364.3,897.5 362.8,897.0 361.3,896.5 359.8,896.0 358.4,895.5 356.9,895.0 355.5,894.5 354.0,894.0 352.7,893.5 351.4,893.0 350.2,892.5 349.2,892.0 348.2,891.5 347.2,891.0 346.3,890.5 345.3,890.0 344.3,889.5 343.3,889.0 342.3,888.5 341.3,888.0 340.4,887.5 339.4,887.0 338.4,886.5 337.4,886.0 336.5,885.5 335.5,885.0 334.6,884.5 333.7,884.0 332.8,883.5 331.9,883.0 331.0,882.5 330.3,882.0 329.6,881.5 329.2,881.0 328.9,880.5 328.7,880.0 328.5,879.5 328.3,879.0 328.3,878.5 328.6,878.0 329.2,877.5 329.9,877.0 330.6,876.5 331.5,876.0 332.6,875.5 333.8,875.0 335.1,874.5 336.4,874.0 337.9,873.5 339.5,873.0 341.2,872.5 343.0,872.0 344.7,871.5 346.5,871.0 348.3,870.5 350.2,870.0 352.0,869.5 353.8,869.0 355.7,868.5 357.6,868.0 359.3,867.5 361.0,867.0 362.7,866.5 364.2,866.0 365.8,865.5 367.2,865.0 368.6,864.5 369.9,864.0 371.2,863.5 372.4,863.0 373.6,862.5 374.7,862.0 375.8,861.5 376.7,861.0 377.6,860.5 378.5,860.0 379.3,859.5 380.0,859.0 380.7,858.5 381.4,858.0 382.1,857.5 382.8,857.0 383.4,856.5 384.1,856.0 384.7,855.5 385.2,855.0 385.8,854.5 386.4,854.0 387.0,853.5 387.6,853.0 388.2,852.5 388.8,852.0 389.5,851.5 390.2,851.0 390.9,850.5 391.6,850.0 392.3,849.5 393.0,849.0 393.7,848.5 394.4,848.0 395.1,847.5 395.8,847.0 396.5,846.5 397.3,846.0 398.0,845.5 398.7,845.0 399.4,844.5 400.2,844.0 400.9,843.5 401.5,843.0 402.2,842.5 402.8,842.0 403.5,841.5 404.1,841.0 404.8,840.5 405.4,840.0 406.0,839.5 406.6,839.0 407.1,838.5 407.6,838.0 408.1,837.5 408.5,837.0 409.0,836.5 409.4,836.0 409.8,835.5 410.1,835.0 410.5,834.5 410.8,834.0 411.1,833.5 411.3,833.0 411.5,832.5 411.7,832.0 411.9,831.5 412.1,831.0 412.3,830.5 412.5,830.0 412.6,829.5 412.7,829.0 412.8,828.5 412.8,828.0 412.8,827.5 412.7,827.0 412.7,826.5 412.6,826.0 412.5,825.5 412.5,825.0 412.4,824.5 412.3,824.0 412.3,823.5 412.3,823.0 412.3,822.5 412.3,822.0 412.3,821.5 412.3,821.0 412.3,820.5 412.3,820.0 412.3,819.5 412.3,819.0 412.3,818.5 412.3,818.0 412.3,817.5 412.3,817.0 412.4,816.5 412.5,816.0 412.6,815.5 412.8,815.0 412.9,814.5 413.1,814.0 413.4,813.5 413.6,813.0 413.8,812.5 414.1,812.0 414.4,811.5 414.8,811.0 415.2,810.5 415.7,810.0 416.3,809.5 416.8,809.0 417.3,808.5 417.7,808.0 418.0,807.5 418.3,807.0 418.7,806.5 419.0,806.0 419.4,805.5 419.7,805.0 419.9,804.5 420.1,804.0 420.3,803.5 420.4,803.0 420.4,802.5 420.5,802.0 420.5,801.5 420.5,801.0 420.6,800.5 420.6,800.0 420.6,799.5 420.6,799.0 420.6,798.5 420.6,798.0 420.6,797.5 420.5,797.0 420.5,796.5 420.5,796.0 420.4,795.5 420.4,795.0 420.3,794.5 420.3,794.0 420.3,793.5 420.2,793.0 420.1,792.5 420.0,792.0 420.0,791.5 419.9,791.0 419.8,790.5 419.7,790.0 419.6,789.5 419.5,789.0 419.4,788.5 419.3,788.0 419.2,787.5 419.1,787.0 419.0,786.5 418.9,786.0 418.9,785.5 418.9,785.0 418.8,784.5 418.8,784.0 418.9,783.5 418.9,783.0 419.0,782.5 419.1,782.0 419.2,781.5 419.3,781.0 419.4,780.5 419.5,780.0 419.6,779.5 419.8,779.0 419.9,778.5 420.0,778.0 420.1,777.5 420.2,777.0 420.3,776.5 420.3,776.0 420.4,775.5 420.4,775.0 420.4,774.5 420.4,774.0 420.4,773.5 420.4,773.0 420.4,772.5 420.4,772.0 420.4,771.5 420.4,771.0 420.4,770.5 420.3,770.0 420.3,769.5 420.3,769.0 420.3,768.5 420.3,768.0 420.3,767.5 420.3,767.0 420.2,766.5 420.2,766.0 420.1,765.5 420.1,765.0 420.0,764.5 420.0,764.0 419.9,763.5 419.9,763.0 419.8,762.5 419.8,762.0 419.8,761.5 419.8,761.0 419.8,760.5 419.8,760.0 419.8,759.5 419.9,759.0 419.9,758.5 420.0,758.0 420.0,757.5 420.1,757.0 420.1,756.5 420.2,756.0 420.3,755.5 420.3,755.0 420.4,754.5 420.5,754.0 420.5,753.5 420.6,753.0 420.6,752.5 420.7,752.0 420.7,751.5 420.8,751.0 420.8,750.5 420.8,750.0 420.8,749.5 420.8,749.0 420.8,748.5 420.8,748.0 420.8,747.5 420.8,747.0 420.8,746.5 420.8,746.0 420.8,745.5 420.8,745.0 420.8,744.5 420.8,744.0 420.8,743.5 420.9,743.0 420.9,742.5 420.9,742.0 420.9,741.5 420.9,741.0 420.9,740.5 420.9,740.0 420.9,739.5 420.9,739.0 420.9,738.5 420.9,738.0 420.9,737.5 420.9,737.0 420.9,736.5 420.9,736.0 420.9,735.5 420.9,735.0 420.9,734.5 420.9,734.0 420.9,733.5 420.8,733.0 420.8,732.5 420.8,732.0 420.8,731.5 420.8,731.0 420.7,730.5 420.7,730.0 420.7,729.5 420.6,729.0 420.6,728.5 420.5,728.0 420.5,727.5 420.5,727.0 420.4,726.5 420.4,726.0 420.4,725.5 420.3,725.0 420.2,724.5 420.2,724.0 420.1,723.5 420.0,723.0 419.9,722.5 419.8,722.0 419.7,721.5 419.7,721.0 419.6,720.5 419.6,720.0 419.5,719.5 419.5,719.0 419.5,718.5 419.5,718.0 419.5,717.5 419.5,717.0 419.5,716.5 419.5,716.0 419.5,715.5 419.5,715.0 419.5,714.5 419.5,714.0 419.5,713.5 419.5,713.0 419.5,712.5 419.5,712.0 419.5,711.5 419.5,711.0 419.5,710.5 419.5,710.0 419.5,709.5 419.5,709.0 419.5,708.5 419.5,708.0 419.5,707.5 419.6,707.0 419.6,706.5 419.6,706.0 419.7,705.5 419.7,705.0 419.8,704.5 419.8,704.0 419.9,703.5 420.0,703.0 420.0,702.5 420.1,702.0 420.1,701.5 420.2,701.0 420.2,700.5 420.3,700.0 420.3,699.5 420.4,699.0 420.5,698.5 420.5,698.0 420.6,697.5 420.6,697.0 420.7,696.5 420.8,696.0 420.8,695.5 420.9,695.0 421.0,694.5 421.0,694.0 421.1,693.5 421.1,693.0 421.1,692.5 421.2,692.0 421.2,691.5 421.2,691.0 421.2,690.5 421.3,690.0 421.3,689.5 421.3,689.0 421.3,688.5 421.3,688.0 421.3,687.5 421.3,687.0 421.3,686.5 421.3,686.0 421.3,685.5 421.3,685.0 421.3,684.5 421.3,684.0 421.3,683.5 421.3,683.0 421.3,682.5 421.3,682.0 421.3,681.5 421.3,681.0 421.3,680.5 421.3,680.0 421.3,679.5 421.3,679.0 421.3,678.5 421.3,678.0 421.3,677.5 421.3,677.0 421.3,676.5 421.3,676.0 421.3,675.5 421.3,675.0 421.3,674.5 421.3,674.0 421.3,673.5 421.3,673.0 421.3,672.5 421.3,672.0 421.3,671.5 421.3,671.0 421.3,670.5 421.3,670.0 421.3,669.5 421.3,669.0 421.3,668.5 421.3,668.0 421.3,667.5 421.3,667.0 421.3,666.5 421.3,666.0 421.3,665.5 421.3,665.0 421.3,664.5 421.3,664.0 421.3,663.5 421.3,663.0 421.3,662.5 421.3,662.0 421.3,661.5 421.3,661.0 421.3,660.5 421.3,660.0 421.3,659.5 421.3,659.0 421.3,658.5 421.3,658.0 421.3,657.5 421.3,657.0 421.3,656.5 421.3,656.0 421.3,655.5 421.3,655.0 421.3,654.5 421.3,654.0 421.3,653.5 421.3,653.0 421.3,652.5 421.3,652.0 421.3,651.5 421.3,651.0 421.3,650.5 421.3,650.0 421.3,649.5 421.3,649.0 421.3,648.5 421.3,648.0 421.3,647.5 421.3,647.0 421.3,646.5 421.3,646.0 421.3,645.5 421.3,645.0 421.3,644.5 421.3,644.0 421.3,643.5 421.3,643.0 421.3,642.5 421.3,642.0 421.3,641.5 421.3,641.0 421.3,640.5 421.3,640.0 421.3,639.5 421.3,639.0 421.3,638.5 421.3,638.0 421.3,637.5 421.3,637.0 421.3,636.5 421.3,636.0 421.3,635.5 421.3,635.0 421.3,634.5 421.3,634.0 421.3,633.5 421.3,633.0 421.3,632.5 421.3,632.0 421.3,631.5 421.3,631.0 421.3,630.5 421.3,630.0 421.3,629.5 421.3,629.0 421.3,628.5 421.3,628.0 421.3,627.5 421.3,627.0 421.3,626.5 421.3,626.0 421.3,625.5 421.3,625.0 421.3,624.5 421.3,624.0 421.3,623.5 421.3,623.0 421.3,622.5 421.3,622.0 421.3,621.5 421.3,621.0 421.3,620.5 421.3,620.0 421.3,619.5 421.3,619.0 421.3,618.5 421.3,618.0 421.3,617.5 421.3,617.0 421.3,616.5 421.3,616.0 421.3,615.5 421.3,615.0 421.3,614.5 421.3,614.0 421.3,613.5 421.3,613.0 421.3,612.5 421.3,612.0 421.3,611.5 421.3,611.0 421.3,610.5 421.3,610.0 421.3,609.5 421.3,609.0 421.3,608.5 421.3,608.0 421.3,607.5 421.3,607.0 421.2,606.5 421.2,606.0 421.2,605.5 421.2,605.0 421.1,604.5 421.1,604.0 421.0,603.5 421.0,603.0 420.9,602.5 420.8,602.0 420.8,601.5 420.7,601.0 420.7,600.5 420.6,600.0 420.5,599.5 420.4,599.0 420.3,598.5 420.2,598.0 420.1,597.5 420.0,597.0 419.9,596.5 419.8,596.0 419.7,595.5 419.6,595.0 419.6,594.5 419.5,594.0 419.5,593.5 419.5,593.0 419.5,592.5 419.5,592.0 419.6,591.5 419.7,591.0 419.7,590.5 419.8,590.0 419.9,589.5 420.0,589.0 420.1,588.5 420.2,588.0 420.3,587.5 420.5,587.0 420.5,586.5 420.6,586.0 420.7,585.5 420.8,585.0 420.8,584.5 420.9,584.0 421.0,583.5 421.0,583.0 421.1,582.5 421.1,582.0 421.2,581.5 421.2,581.0 421.3,580.5 421.3,580.0 421.4,579.5 421.4,579.0 421.4,578.5 421.4,578.0 421.4,577.5 421.4,577.0 421.4,576.5 421.4,576.0Z" fill="#E7B800" stroke="#000" stroke-width="1.60" stroke-linejoin="round"/>
<line x1="421.40" y1="828.00" x2="421.40" y2="928.00" stroke="#000" stroke-width="1.50"/>
<circle cx="421.40" cy="593.20" r="2.50" fill="#000"/>
<circle cx="421.40" cy="709.00" r="2.50" fill="#000"/>
<circle cx="421.40" cy="718.00" r="2.50" fill="#000"/>
<circle cx="421.40" cy="761.00" r="2.50" fill="#000"/>
<circle cx="421.40" cy="784.30" r="2.50" fill="#000"/>
<circle cx="421.40" cy="813.00" r="2.20" fill="#000"/>
<circle cx="421.40" cy="816.50" r="2.20" fill="#000"/>
<circle cx="421.40" cy="820.00" r="2.20" fill="#000"/>
<circle cx="421.40" cy="823.50" r="2.20" fill="#000"/>
<circle cx="421.40" cy="934.90" r="2.50" fill="#000"/>
<rect x="402.30" y="864.70" width="38.20" height="26.80" fill="#fff" stroke="#000" stroke-width="1.50"/>
<line x1="402.30" y1="878.60" x2="440.50" y2="878.60" stroke="#000" stroke-width="3.00"/>
<path d="M234.80,586.50 V575.60 H421.40 V575.60" fill="none" stroke="#1a1a1a" stroke-width="1.20"/>
<text transform="translate(338.75,567.05) scale(0.950,1.040)" font-size="39.00" x="-74.20 -51.65 -39.96 -17.13 5.73 29.68 52.51">8.6e−07</text>
<path d="M122.90,555.60 V989.00 H534.30" fill="none" stroke="#1c1c1c" stroke-width="1.90" stroke-linecap="butt" stroke-linejoin="round"/>
<line x1="119.30" y1="622.30" x2="122.90" y2="622.30" stroke="#000" stroke-width="1.90"/>
<text transform="translate(117.80,627.10) scale(0.950,1.040)" font-size="39.00" x="-45.09 -22.26">30</text>
<line x1="119.30" y1="700.00" x2="122.90" y2="700.00" stroke="#000" stroke-width="1.90"/>
<text transform="translate(117.80,704.50) scale(0.950,1.040)" font-size="39.00" x="-45.09 -22.26">20</text>
<line x1="119.30" y1="777.60" x2="122.90" y2="777.60" stroke="#000" stroke-width="1.90"/>
<text transform="translate(117.80,782.20) scale(0.950,1.040)" font-size="39.00" x="-45.09 -22.26">10</text>
<line x1="119.30" y1="855.20" x2="122.90" y2="855.20" stroke="#000" stroke-width="1.90"/>
<text transform="translate(102.50,860.20) scale(0.950,1.040)" font-size="39.00" x="-22.26">0</text>
<line x1="119.30" y1="932.80" x2="122.90" y2="932.80" stroke="#000" stroke-width="1.90"/>
<text transform="translate(118.80,938.00) scale(0.950,1.040)" font-size="39.00" x="-69.04 -45.09 -22.26">−10</text>
<line x1="235.00" y1="989.00" x2="235.00" y2="992.60" stroke="#000" stroke-width="1.90"/>
<line x1="421.50" y1="989.00" x2="421.50" y2="992.60" stroke="#000" stroke-width="1.90"/>
<text transform="translate(320.15,1027.55) scale(0.950,1.012)" font-size="39.00" x="-90.53 -61.06 -38.28 -17.70 4.85 16.54 39.31 59.89 82.38">Docetaxel</text>
<text transform="translate(54.30,712.45) rotate(-90) scale(0.950,1.030)" font-size="39.00" x="-95.61 -86.14 -63.31 -40.48 -17.88 -4.27 7.60 37.07 59.90 82.51">log2(IC50)</text>
</g>
<g>
<path d="M736.8,671.2 736.8,671.7 736.8,672.2 736.8,672.7 736.8,673.2 736.8,673.7 736.8,674.2 736.8,674.7 736.8,675.2 736.9,675.7 736.9,676.2 737.0,676.7 737.0,677.2 737.1,677.7 737.2,678.2 737.2,678.7 737.3,679.2 737.4,679.7 737.4,680.2 737.5,680.7 737.7,681.2 737.8,681.7 737.9,682.2 738.1,682.7 738.2,683.2 738.3,683.7 738.5,684.2 738.6,684.7 738.7,685.2 738.7,685.7 738.7,686.2 738.7,686.7 738.6,687.2 738.6,687.7 738.5,688.2 738.4,688.7 738.2,689.2 738.1,689.7 738.0,690.2 737.9,690.7 737.7,691.2 737.6,691.7 737.5,692.2 737.5,692.7 737.4,693.2 737.3,693.7 737.3,694.2 737.2,694.7 737.2,695.2 737.1,695.7 737.1,696.2 737.0,696.7 737.0,697.2 737.0,697.7 737.0,698.2 736.9,698.7 736.9,699.2 736.9,699.7 736.9,700.2 736.9,700.7 736.9,701.2 736.9,701.7 736.9,702.2 736.9,702.7 736.9,703.2 736.9,703.7 736.9,704.2 736.9,704.7 736.9,705.2 736.9,705.7 736.9,706.2 736.9,706.7 736.9,707.2 736.9,707.7 736.9,708.2 736.9,708.7 736.9,709.2 736.9,709.7 736.9,710.2 736.9,710.7 736.9,711.2 736.9,711.7 736.9,712.2 736.9,712.7 736.9,713.2 736.9,713.7 736.9,714.2 736.9,714.7 736.9,715.2 736.9,715.7 736.9,716.2 736.9,716.7 736.9,717.2 736.9,717.7 736.9,718.2 736.9,718.7 736.9,719.2 736.9,719.7 736.9,720.2 736.9,720.7 736.9,721.2 736.9,721.7 736.9,722.2 736.9,722.7 736.9,723.2 736.9,723.7 736.9,724.2 736.9,724.7 736.9,725.2 736.9,725.7 736.9,726.2 736.9,726.7 736.9,727.2 736.9,727.7 736.9,728.2 736.9,728.7 736.9,729.2 736.9,729.7 736.9,730.2 736.9,730.7 736.9,731.2 736.9,731.7 736.9,732.2 736.9,732.7 736.9,733.2 736.9,733.7 736.9,734.2 736.9,734.7 736.9,735.2 736.9,735.7 736.9,736.2 736.9,736.7 736.9,737.2 736.9,737.7 736.9,738.2 736.9,738.7 736.9,739.2 736.9,739.7 736.9,740.2 736.9,740.7 736.9,741.2 736.9,741.7 736.9,742.2 736.9,742.7 736.9,743.2 736.9,743.7 736.9,744.2 736.9,744.7 737.0,745.2 737.0,745.7 737.0,746.2 737.0,746.7 737.1,747.2 737.1,747.7 737.2,748.2 737.3,748.7 737.3,749.2 737.4,749.7 737.5,750.2 737.6,750.7 737.6,751.2 737.7,751.7 737.8,752.2 737.9,752.7 738.0,753.2 738.1,753.7 738.3,754.2 738.4,754.7 738.5,755.2 738.6,755.7 738.6,756.2 738.7,756.7 738.7,757.2 738.7,757.7 738.7,758.2 738.6,758.7 738.6,759.2 738.5,759.7 738.4,760.2 738.3,760.7 738.1,761.2 738.0,761.7 737.9,762.2 737.8,762.7 737.7,763.2 737.6,763.7 737.6,764.2 737.5,764.7 737.5,765.2 737.4,765.7 737.4,766.2 737.3,766.7 737.3,767.2 737.2,767.7 737.2,768.2 737.2,768.7 737.1,769.2 737.1,769.7 737.1,770.2 737.1,770.7 737.0,771.2 737.0,771.7 737.0,772.2 737.0,772.7 737.0,773.2 737.0,773.7 737.0,774.2 737.0,774.7 737.0,775.2 737.0,775.7 737.0,776.2 737.1,776.7 737.1,777.2 737.1,777.7 737.1,778.2 737.1,778.7 737.1,779.2 737.1,779.7 737.1,780.2 737.1,780.7 737.1,781.2 737.1,781.7 737.1,782.2 737.1,782.7 737.1,783.2 737.1,783.7 737.1,784.2 737.1,784.7 737.1,785.2 737.1,785.7 737.2,786.2 737.2,786.7 737.2,787.2 737.2,787.7 737.2,788.2 737.2,788.7 737.2,789.2 737.2,789.7 737.2,790.2 737.3,790.7 737.3,791.2 737.3,791.7 737.4,792.2 737.5,792.7 737.6,793.2 737.6,793.7 737.7,794.2 737.8,794.7 737.9,795.2 738.0,795.7 738.0,796.2 738.1,796.7 738.3,797.2 738.4,797.7 738.5,798.2 738.6,798.7 738.8,799.2 738.9,799.7 739.0,800.2 739.1,800.7 739.2,801.2 739.3,801.7 739.3,802.2 739.4,802.7 739.4,803.2 739.4,803.7 739.4,804.2 739.3,804.7 739.3,805.2 739.3,805.7 739.3,806.2 739.3,806.7 739.3,807.2 739.3,807.7 739.3,808.2 739.3,808.7 739.2,809.2 739.2,809.7 739.2,810.2 739.2,810.7 739.2,811.2 739.2,811.7 739.2,812.2 739.2,812.7 739.2,813.2 739.2,813.7 739.1,814.2 739.1,814.7 739.1,815.2 739.1,815.7 739.0,816.2 739.0,816.7 738.9,817.2 738.9,817.7 738.8,818.2 738.8,818.7 738.7,819.2 738.7,819.7 738.7,820.2 738.7,820.7 738.8,821.2 738.8,821.7 738.9,822.2 738.9,822.7 739.0,823.2 739.1,823.7 739.1,824.2 739.2,824.7 739.3,825.2 739.3,825.7 739.4,826.2 739.4,826.7 739.4,827.2 739.5,827.7 739.5,828.2 739.6,828.7 739.6,829.2 739.6,829.7 739.6,830.2 739.7,830.7 739.7,831.2 739.7,831.7 739.7,832.2 739.8,832.7 739.8,833.2 739.8,833.7 739.8,834.2 739.8,834.7 739.8,835.2 739.8,835.7 739.9,836.2 739.9,836.7 739.9,837.2 739.9,837.7 739.9,838.2 739.9,838.7 740.0,839.2 740.0,839.7 740.0,840.2 740.1,840.7 740.1,841.2 740.2,841.7 740.3,842.2 740.4,842.7 740.5,843.2 740.7,843.7 740.9,844.2 741.1,844.7 741.3,845.2 741.6,845.7 741.9,846.2 742.2,846.7 742.6,847.2 742.9,847.7 743.2,848.2 743.6,848.7 744.1,849.2 744.6,849.7 745.1,850.2 745.7,850.7 746.2,851.2 746.8,851.7 747.4,852.2 747.9,852.7 748.5,853.2 749.1,853.7 749.7,854.2 750.3,854.7 750.9,855.2 751.5,855.7 752.1,856.2 752.7,856.7 753.3,857.2 753.8,857.7 754.3,858.2 754.8,858.7 755.3,859.2 755.8,859.7 756.3,860.2 756.8,860.7 757.3,861.2 757.8,861.7 758.3,862.2 758.8,862.7 759.4,863.2 759.9,863.7 760.5,864.2 761.1,864.7 761.7,865.2 762.3,865.7 763.0,866.2 763.7,866.7 764.4,867.2 765.2,867.7 766.1,868.2 767.1,868.7 768.1,869.2 769.2,869.7 770.3,870.2 771.4,870.7 772.5,871.2 773.7,871.7 774.9,872.2 776.3,872.7 777.6,873.2 778.9,873.7 780.2,874.2 781.5,874.7 782.7,875.2 784.0,875.7 785.2,876.2 786.4,876.7 787.6,877.2 788.8,877.7 790.1,878.2 791.4,878.7 792.7,879.2 794.1,879.7 795.6,880.2 797.0,880.7 798.5,881.2 799.9,881.7 801.4,882.2 802.8,882.7 804.1,883.2 805.5,883.7 806.9,884.2 808.3,884.7 809.8,885.2 811.3,885.7 813.0,886.2 814.7,886.7 816.5,887.2 818.2,887.7 819.8,888.2 821.3,888.7 822.9,889.2 824.4,889.7 825.8,890.2 826.9,890.7 828.0,891.2 829.0,891.7 829.7,892.2 829.9,892.7 829.8,893.2 829.6,893.7 829.4,894.2 829.0,894.7 828.6,895.2 827.7,895.7 826.5,896.2 825.0,896.7 823.6,897.2 822.2,897.7 820.8,898.2 819.3,898.7 817.7,899.2 816.2,899.7 814.6,900.2 813.0,900.7 811.4,901.2 809.7,901.7 808.1,902.2 806.4,902.7 804.7,903.2 803.0,903.7 801.2,904.2 799.4,904.7 797.7,905.2 796.1,905.7 794.8,906.2 793.6,906.7 792.5,907.2 791.5,907.7 790.6,908.2 789.7,908.7 788.8,909.2 787.8,909.7 787.0,910.2 786.1,910.7 785.3,911.2 784.5,911.7 783.7,912.2 782.8,912.7 781.9,913.2 780.9,913.7 779.8,914.2 778.7,914.7 777.5,915.2 776.3,915.7 775.0,916.2 773.8,916.7 772.5,917.2 771.2,917.7 769.9,918.2 768.6,918.7 767.2,919.2 765.7,919.7 764.1,920.2 762.4,920.7 760.7,921.2 759.2,921.7 757.8,922.2 756.4,922.7 755.2,923.2 754.0,923.7 752.9,924.2 751.9,924.7 751.1,925.2 750.3,925.7 749.6,926.2 748.9,926.7 748.3,927.2 747.8,927.7 747.2,928.2 746.8,928.7 746.4,929.2 746.0,929.7 745.7,930.2 745.4,930.7 745.1,931.2 744.8,931.7 744.5,932.2 744.3,932.7 744.1,933.2 743.9,933.7 743.7,934.2 743.5,934.7 743.4,935.2 743.2,935.7 743.0,936.2 742.8,936.7 742.5,937.2 742.3,937.7 742.0,938.2 741.7,938.7 741.4,939.2 741.1,939.7 740.9,940.2 740.6,940.7 740.4,941.2 740.2,941.7 739.9,942.2 739.7,942.7 739.5,943.2 739.3,943.7 739.0,944.2 738.9,944.7 738.7,945.2 738.5,945.7 738.3,946.2 738.1,946.7 737.9,947.2 737.8,947.7 737.6,948.2 737.5,948.7 737.4,949.2 737.3,949.7 737.2,950.2 737.1,950.7 737.1,951.2 737.0,951.7 737.0,952.2 736.9,952.7 736.9,953.2 736.8,953.7 736.8,954.2 736.8,954.7 736.8,955.2 736.8,955.7 736.8,956.2 736.8,956.7 736.8,957.2 736.8,957.7 736.8,958.2 736.8,958.7 736.8,959.2 736.8,959.2 736.8,958.7 736.8,958.2 736.8,957.7 736.8,957.2 736.8,956.7 736.8,956.2 736.8,955.7 736.8,955.2 736.8,954.7 736.8,954.2 736.8,953.7 736.7,953.2 736.7,952.7 736.6,952.2 736.6,951.7 736.5,951.2 736.5,950.7 736.4,950.2 736.3,949.7 736.2,949.2 736.1,948.7 736.0,948.2 735.8,947.7 735.7,947.2 735.5,946.7 735.3,946.2 735.1,945.7 734.9,945.2 734.7,944.7 734.6,944.2 734.3,943.7 734.1,943.2 733.9,942.7 733.7,942.2 733.4,941.7 733.2,941.2 733.0,940.7 732.7,940.2 732.5,939.7 732.2,939.2 731.9,938.7 731.6,938.2 731.3,937.7 731.1,937.2 730.8,936.7 730.6,936.2 730.4,935.7 730.2,935.2 730.1,934.7 729.9,934.2 729.7,933.7 729.5,933.2 729.3,932.7 729.1,932.2 728.8,931.7 728.5,931.2 728.2,930.7 727.9,930.2 727.6,929.7 727.2,929.2 726.8,928.7 726.4,928.2 725.8,927.7 725.3,927.2 724.7,926.7 724.0,926.2 723.3,925.7 722.5,925.2 721.7,924.7 720.7,924.2 719.6,923.7 718.4,923.2 717.2,922.7 715.8,922.2 714.4,921.7 712.9,921.2 711.2,920.7 709.5,920.2 707.9,919.7 706.4,919.2 705.0,918.7 703.7,918.2 702.4,917.7 701.1,917.2 699.8,916.7 698.6,916.2 697.3,915.7 696.1,915.2 694.9,914.7 693.8,914.2 692.7,913.7 691.7,913.2 690.8,912.7 689.9,912.2 689.1,911.7 688.3,911.2 687.5,910.7 686.6,910.2 685.8,909.7 684.8,909.2 683.9,908.7 683.0,908.2 682.1,907.7 681.1,907.2 680.0,906.7 678.8,906.2 677.5,905.7 675.9,905.2 674.2,904.7 672.4,904.2 670.6,903.7 668.9,903.2 667.2,902.7 665.5,902.2 663.9,901.7 662.2,901.2 660.6,900.7 659.0,900.2 657.4,899.7 655.9,899.2 654.3,898.7 652.8,898.2 651.4,897.7 650.0,897.2 648.6,896.7 647.1,896.2 645.9,895.7 645.0,895.2 644.6,894.7 644.2,894.2 644.0,893.7 643.8,893.2 643.7,892.7 643.9,892.2 644.6,891.7 645.6,891.2 646.7,890.7 647.8,890.2 649.2,889.7 650.7,889.2 652.3,888.7 653.8,888.2 655.4,887.7 657.1,887.2 658.9,886.7 660.6,886.2 662.3,885.7 663.8,885.2 665.3,884.7 666.7,884.2 668.1,883.7 669.5,883.2 670.8,882.7 672.2,882.2 673.7,881.7 675.1,881.2 676.6,880.7 678.0,880.2 679.5,879.7 680.9,879.2 682.2,878.7 683.5,878.2 684.8,877.7 686.0,877.2 687.2,876.7 688.4,876.2 689.6,875.7 690.9,875.2 692.1,874.7 693.4,874.2 694.7,873.7 696.0,873.2 697.3,872.7 698.7,872.2 699.9,871.7 701.1,871.2 702.2,870.7 703.3,870.2 704.4,869.7 705.5,869.2 706.5,868.7 707.5,868.2 708.4,867.7 709.2,867.2 709.9,866.7 710.6,866.2 711.3,865.7 711.9,865.2 712.5,864.7 713.1,864.2 713.7,863.7 714.2,863.2 714.8,862.7 715.3,862.2 715.8,861.7 716.3,861.2 716.8,860.7 717.3,860.2 717.8,859.7 718.3,859.2 718.8,858.7 719.3,858.2 719.8,857.7 720.3,857.2 720.9,856.7 721.5,856.2 722.1,855.7 722.7,855.2 723.3,854.7 723.9,854.2 724.5,853.7 725.1,853.2 725.7,852.7 726.2,852.2 726.8,851.7 727.4,851.2 727.9,850.7 728.5,850.2 729.0,849.7 729.5,849.2 730.0,848.7 730.4,848.2 730.7,847.7 731.0,847.2 731.4,846.7 731.7,846.2 732.0,845.7 732.3,845.2 732.5,844.7 732.7,844.2 732.9,843.7 733.1,843.2 733.2,842.7 733.3,842.2 733.4,841.7 733.5,841.2 733.5,840.7 733.6,840.2 733.6,839.7 733.6,839.2 733.7,838.7 733.7,838.2 733.7,837.7 733.7,837.2 733.7,836.7 733.7,836.2 733.8,835.7 733.8,835.2 733.8,834.7 733.8,834.2 733.8,833.7 733.8,833.2 733.8,832.7 733.9,832.2 733.9,831.7 733.9,831.2 733.9,830.7 734.0,830.2 734.0,829.7 734.0,829.2 734.0,828.7 734.1,828.2 734.1,827.7 734.2,827.2 734.2,826.7 734.2,826.2 734.3,825.7 734.3,825.2 734.4,824.7 734.5,824.2 734.5,823.7 734.6,823.2 734.7,822.7 734.7,822.2 734.8,821.7 734.8,821.2 734.9,820.7 734.9,820.2 734.9,819.7 734.9,819.2 734.8,818.7 734.8,818.2 734.7,817.7 734.7,817.2 734.6,816.7 734.6,816.2 734.5,815.7 734.5,815.2 734.5,814.7 734.5,814.2 734.4,813.7 734.4,813.2 734.4,812.7 734.4,812.2 734.4,811.7 734.4,811.2 734.4,810.7 734.4,810.2 734.4,809.7 734.4,809.2 734.3,808.7 734.3,808.2 734.3,807.7 734.3,807.2 734.3,806.7 734.3,806.2 734.3,805.7 734.3,805.2 734.3,804.7 734.2,804.2 734.2,803.7 734.2,803.2 734.2,802.7 734.3,802.2 734.3,801.7 734.4,801.2 734.5,800.7 734.6,800.2 734.7,799.7 734.8,799.2 735.0,798.7 735.1,798.2 735.2,797.7 735.3,797.2 735.5,796.7 735.6,796.2 735.6,795.7 735.7,795.2 735.8,794.7 735.9,794.2 736.0,793.7 736.0,793.2 736.1,792.7 736.2,792.2 736.3,791.7 736.3,791.2 736.3,790.7 736.4,790.2 736.4,789.7 736.4,789.2 736.4,788.7 736.4,788.2 736.4,787.7 736.4,787.2 736.4,786.7 736.4,786.2 736.5,785.7 736.5,785.2 736.5,784.7 736.5,784.2 736.5,783.7 736.5,783.2 736.5,782.7 736.5,782.2 736.5,781.7 736.5,781.2 736.5,780.7 736.5,780.2 736.5,779.7 736.5,779.2 736.5,778.7 736.5,778.2 736.5,777.7 736.5,777.2 736.5,776.7 736.6,776.2 736.6,775.7 736.6,775.2 736.6,774.7 736.6,774.2 736.6,773.7 736.6,773.2 736.6,772.7 736.6,772.2 736.6,771.7 736.6,771.2 736.5,770.7 736.5,770.2 736.5,769.7 736.5,769.2 736.4,768.7 736.4,768.2 736.4,767.7 736.3,767.2 736.3,766.7 736.2,766.2 736.2,765.7 736.1,765.2 736.1,764.7 736.0,764.2 736.0,763.7 735.9,763.2 735.8,762.7 735.7,762.2 735.6,761.7 735.5,761.2 735.3,760.7 735.2,760.2 735.1,759.7 735.0,759.2 735.0,758.7 734.9,758.2 734.9,757.7 734.9,757.2 734.9,756.7 735.0,756.2 735.0,755.7 735.1,755.2 735.2,754.7 735.3,754.2 735.5,753.7 735.6,753.2 735.7,752.7 735.8,752.2 735.9,751.7 736.0,751.2 736.0,750.7 736.1,750.2 736.2,749.7 736.3,749.2 736.3,748.7 736.4,748.2 736.5,747.7 736.5,747.2 736.6,746.7 736.6,746.2 736.6,745.7 736.6,745.2 736.7,744.7 736.7,744.2 736.7,743.7 736.7,743.2 736.7,742.7 736.7,742.2 736.7,741.7 736.7,741.2 736.7,740.7 736.7,740.2 736.7,739.7 736.7,739.2 736.7,738.7 736.7,738.2 736.7,737.7 736.7,737.2 736.7,736.7 736.7,736.2 736.7,735.7 736.7,735.2 736.7,734.7 736.7,734.2 736.7,733.7 736.7,733.2 736.7,732.7 736.7,732.2 736.7,731.7 736.7,731.2 736.7,730.7 736.7,730.2 736.7,729.7 736.7,729.2 736.7,728.7 736.7,728.2 736.7,727.7 736.7,727.2 736.7,726.7 736.7,726.2 736.7,725.7 736.7,725.2 736.7,724.7 736.7,724.2 736.7,723.7 736.7,723.2 736.7,722.7 736.7,722.2 736.7,721.7 736.7,721.2 736.7,720.7 736.7,720.2 736.7,719.7 736.7,719.2 736.7,718.7 736.7,718.2 736.7,717.7 736.7,717.2 736.7,716.7 736.7,716.2 736.7,715.7 736.7,715.2 736.7,714.7 736.7,714.2 736.7,713.7 736.7,713.2 736.7,712.7 736.7,712.2 736.7,711.7 736.7,711.2 736.7,710.7 736.7,710.2 736.7,709.7 736.7,709.2 736.7,708.7 736.7,708.2 736.7,707.7 736.7,707.2 736.7,706.7 736.7,706.2 736.7,705.7 736.7,705.2 736.7,704.7 736.7,704.2 736.7,703.7 736.7,703.2 736.7,702.7 736.7,702.2 736.7,701.7 736.7,701.2 736.7,700.7 736.7,700.2 736.7,699.7 736.7,699.2 736.7,698.7 736.6,698.2 736.6,697.7 736.6,697.2 736.6,696.7 736.5,696.2 736.5,695.7 736.4,695.2 736.4,694.7 736.3,694.2 736.3,693.7 736.2,693.2 736.1,692.7 736.1,692.2 736.0,691.7 735.9,691.2 735.7,690.7 735.6,690.2 735.5,689.7 735.4,689.2 735.2,688.7 735.1,688.2 735.0,687.7 735.0,687.2 734.9,686.7 734.9,686.2 734.9,685.7 734.9,685.2 735.0,684.7 735.1,684.2 735.3,683.7 735.4,683.2 735.5,682.7 735.7,682.2 735.8,681.7 735.9,681.2 736.1,680.7 736.2,680.2 736.2,679.7 736.3,679.2 736.4,678.7 736.4,678.2 736.5,677.7 736.6,677.2 736.6,676.7 736.7,676.2 736.7,675.7 736.8,675.2 736.8,674.7 736.8,674.2 736.8,673.7 736.8,673.2 736.8,672.7 736.8,672.2 736.8,671.7 736.8,671.2Z" fill="#00AFBB" stroke="#000" stroke-width="1.60" stroke-linejoin="round"/>
<line x1="736.80" y1="845.60" x2="736.80" y2="940.20" stroke="#000" stroke-width="1.50"/>
<circle cx="736.80" cy="686.10" r="2.50" fill="#000"/>
<circle cx="736.80" cy="757.50" r="2.50" fill="#000"/>
<circle cx="736.80" cy="803.00" r="2.50" fill="#000"/>
<circle cx="736.80" cy="809.00" r="2.50" fill="#000"/>
<circle cx="736.80" cy="815.00" r="2.50" fill="#000"/>
<circle cx="736.80" cy="826.00" r="2.50" fill="#000"/>
<circle cx="736.80" cy="832.00" r="2.50" fill="#000"/>
<circle cx="736.80" cy="837.90" r="2.30" fill="#000"/>
<circle cx="736.80" cy="943.10" r="2.20" fill="#000"/>
<rect x="718.30" y="878.90" width="37.50" height="23.50" fill="#fff" stroke="#000" stroke-width="1.50"/>
<line x1="718.30" y1="891.60" x2="755.80" y2="891.60" stroke="#000" stroke-width="3.00"/>
<path d="M923.5,565.0 923.5,565.5 923.5,566.0 923.5,566.5 923.5,567.0 923.5,567.5 923.5,568.0 923.5,568.5 923.5,569.0 923.6,569.5 923.6,570.0 923.6,570.5 923.7,571.0 923.7,571.5 923.8,572.0 923.8,572.5 923.9,573.0 924.0,573.5 924.0,574.0 924.1,574.5 924.1,575.0 924.2,575.5 924.2,576.0 924.3,576.5 924.4,577.0 924.5,577.5 924.6,578.0 924.6,578.5 924.7,579.0 924.8,579.5 924.9,580.0 924.9,580.5 925.0,581.0 925.1,581.5 925.1,582.0 925.2,582.5 925.2,583.0 925.2,583.5 925.3,584.0 925.3,584.5 925.4,585.0 925.4,585.5 925.4,586.0 925.4,586.5 925.4,587.0 925.4,587.5 925.4,588.0 925.4,588.5 925.3,589.0 925.3,589.5 925.3,590.0 925.2,590.5 925.2,591.0 925.1,591.5 925.1,592.0 925.1,592.5 925.0,593.0 925.0,593.5 924.9,594.0 924.8,594.5 924.8,595.0 924.7,595.5 924.6,596.0 924.6,596.5 924.5,597.0 924.4,597.5 924.4,598.0 924.3,598.5 924.2,599.0 924.2,599.5 924.1,600.0 924.1,600.5 924.0,601.0 923.9,601.5 923.9,602.0 923.8,602.5 923.8,603.0 923.7,603.5 923.7,604.0 923.7,604.5 923.7,605.0 923.6,605.5 923.7,606.0 923.7,606.5 923.7,607.0 923.7,607.5 923.7,608.0 923.7,608.5 923.7,609.0 923.7,609.5 923.7,610.0 923.7,610.5 923.7,611.0 923.8,611.5 923.8,612.0 923.8,612.5 923.8,613.0 923.8,613.5 923.8,614.0 923.9,614.5 923.9,615.0 923.9,615.5 923.9,616.0 924.0,616.5 924.0,617.0 924.1,617.5 924.1,618.0 924.2,618.5 924.3,619.0 924.4,619.5 924.5,620.0 924.5,620.5 924.6,621.0 924.7,621.5 924.8,622.0 924.9,622.5 924.9,623.0 925.0,623.5 925.0,624.0 925.0,624.5 925.0,625.0 925.0,625.5 924.9,626.0 924.8,626.5 924.8,627.0 924.7,627.5 924.6,628.0 924.5,628.5 924.4,629.0 924.3,629.5 924.2,630.0 924.1,630.5 924.0,631.0 924.0,631.5 923.9,632.0 923.9,632.5 923.8,633.0 923.8,633.5 923.7,634.0 923.7,634.5 923.7,635.0 923.7,635.5 923.6,636.0 923.6,636.5 923.6,637.0 923.6,637.5 923.6,638.0 923.6,638.5 923.6,639.0 923.6,639.5 923.6,640.0 923.6,640.5 923.6,641.0 923.6,641.5 923.6,642.0 923.6,642.5 923.6,643.0 923.6,643.5 923.6,644.0 923.6,644.5 923.6,645.0 923.6,645.5 923.6,646.0 923.6,646.5 923.6,647.0 923.6,647.5 923.6,648.0 923.6,648.5 923.6,649.0 923.6,649.5 923.6,650.0 923.6,650.5 923.6,651.0 923.6,651.5 923.6,652.0 923.6,652.5 923.6,653.0 923.6,653.5 923.6,654.0 923.6,654.5 923.6,655.0 923.6,655.5 923.6,656.0 923.6,656.5 923.6,657.0 923.6,657.5 923.6,658.0 923.6,658.5 923.6,659.0 923.6,659.5 923.6,660.0 923.6,660.5 923.6,661.0 923.6,661.5 923.6,662.0 923.6,662.5 923.6,663.0 923.6,663.5 923.6,664.0 923.6,664.5 923.6,665.0 923.6,665.5 923.6,666.0 923.6,666.5 923.6,667.0 923.6,667.5 923.6,668.0 923.6,668.5 923.6,669.0 923.6,669.5 923.6,670.0 923.6,670.5 923.6,671.0 923.6,671.5 923.6,672.0 923.6,672.5 923.6,673.0 923.6,673.5 923.6,674.0 923.6,674.5 923.6,675.0 923.6,675.5 923.6,676.0 923.6,676.5 923.6,677.0 923.6,677.5 923.6,678.0 923.6,678.5 923.6,679.0 923.6,679.5 923.6,680.0 923.6,680.5 923.6,681.0 923.6,681.5 923.6,682.0 923.6,682.5 923.6,683.0 923.6,683.5 923.6,684.0 923.6,684.5 923.6,685.0 923.6,685.5 923.6,686.0 923.6,686.5 923.6,687.0 923.6,687.5 923.6,688.0 923.6,688.5 923.6,689.0 923.6,689.5 923.6,690.0 923.6,690.5 923.6,691.0 923.6,691.5 923.6,692.0 923.6,692.5 923.6,693.0 923.6,693.5 923.6,694.0 923.6,694.5 923.6,695.0 923.6,695.5 923.6,696.0 923.6,696.5 923.6,697.0 923.6,697.5 923.6,698.0 923.6,698.5 923.6,699.0 923.6,699.5 923.6,700.0 923.7,700.5 923.7,701.0 923.7,701.5 923.7,702.0 923.7,702.5 923.8,703.0 923.8,703.5 923.8,704.0 923.9,704.5 923.9,705.0 924.0,705.5 924.0,706.0 924.1,706.5 924.1,707.0 924.2,707.5 924.2,708.0 924.3,708.5 924.4,709.0 924.5,709.5 924.6,710.0 924.7,710.5 924.8,711.0 924.9,711.5 924.9,712.0 925.0,712.5 925.0,713.0 925.0,713.5 925.0,714.0 925.0,714.5 924.9,715.0 924.9,715.5 924.8,716.0 924.8,716.5 924.7,717.0 924.6,717.5 924.6,718.0 924.5,718.5 924.4,719.0 924.4,719.5 924.3,720.0 924.2,720.5 924.2,721.0 924.1,721.5 924.0,722.0 923.9,722.5 923.9,723.0 923.9,723.5 924.0,724.0 924.0,724.5 924.0,725.0 924.1,725.5 924.2,726.0 924.2,726.5 924.3,727.0 924.4,727.5 924.5,728.0 924.5,728.5 924.6,729.0 924.7,729.5 924.8,730.0 924.9,730.5 924.9,731.0 925.0,731.5 925.1,732.0 925.2,732.5 925.3,733.0 925.4,733.5 925.4,734.0 925.4,734.5 925.4,735.0 925.4,735.5 925.4,736.0 925.3,736.5 925.3,737.0 925.2,737.5 925.1,738.0 925.1,738.5 925.0,739.0 924.9,739.5 924.8,740.0 924.8,740.5 924.7,741.0 924.7,741.5 924.6,742.0 924.6,742.5 924.5,743.0 924.4,743.5 924.4,744.0 924.3,744.5 924.3,745.0 924.2,745.5 924.2,746.0 924.2,746.5 924.1,747.0 924.1,747.5 924.1,748.0 924.1,748.5 924.1,749.0 924.1,749.5 924.1,750.0 924.1,750.5 924.1,751.0 924.1,751.5 924.1,752.0 924.1,752.5 924.1,753.0 924.1,753.5 924.1,754.0 924.1,754.5 924.1,755.0 924.1,755.5 924.1,756.0 924.1,756.5 924.1,757.0 924.1,757.5 924.1,758.0 924.1,758.5 924.1,759.0 924.1,759.5 924.1,760.0 924.1,760.5 924.1,761.0 924.1,761.5 924.1,762.0 924.1,762.5 924.1,763.0 924.1,763.5 924.1,764.0 924.1,764.5 924.1,765.0 924.1,765.5 924.1,766.0 924.2,766.5 924.2,767.0 924.2,767.5 924.2,768.0 924.3,768.5 924.3,769.0 924.4,769.5 924.4,770.0 924.4,770.5 924.5,771.0 924.5,771.5 924.5,772.0 924.6,772.5 924.6,773.0 924.6,773.5 924.6,774.0 924.6,774.5 924.6,775.0 924.6,775.5 924.6,776.0 924.6,776.5 924.6,777.0 924.6,777.5 924.6,778.0 924.6,778.5 924.6,779.0 924.6,779.5 924.6,780.0 924.6,780.5 924.6,781.0 924.6,781.5 924.6,782.0 924.6,782.5 924.6,783.0 924.6,783.5 924.6,784.0 924.6,784.5 924.6,785.0 924.7,785.5 924.8,786.0 924.8,786.5 924.9,787.0 925.0,787.5 925.1,788.0 925.2,788.5 925.4,789.0 925.5,789.5 925.6,790.0 925.7,790.5 925.8,791.0 925.9,791.5 925.9,792.0 926.0,792.5 926.0,793.0 926.1,793.5 926.1,794.0 926.1,794.5 926.1,795.0 926.1,795.5 926.1,796.0 926.1,796.5 926.1,797.0 926.1,797.5 926.1,798.0 926.1,798.5 926.1,799.0 926.1,799.5 926.0,800.0 925.9,800.5 925.8,801.0 925.6,801.5 925.4,802.0 925.2,802.5 925.1,803.0 924.9,803.5 924.8,804.0 924.7,804.5 924.6,805.0 924.6,805.5 924.6,806.0 924.6,806.5 924.6,807.0 924.6,807.5 924.6,808.0 924.6,808.5 924.6,809.0 924.6,809.5 924.6,810.0 924.6,810.5 924.6,811.0 924.7,811.5 924.7,812.0 924.8,812.5 924.9,813.0 924.9,813.5 925.0,814.0 925.1,814.5 925.2,815.0 925.4,815.5 925.5,816.0 925.7,816.5 925.9,817.0 926.1,817.5 926.3,818.0 926.5,818.5 926.7,819.0 927.0,819.5 927.4,820.0 927.7,820.5 928.1,821.0 928.6,821.5 929.1,822.0 929.5,822.5 929.9,823.0 930.3,823.5 930.7,824.0 931.1,824.5 931.4,825.0 931.8,825.5 932.2,826.0 932.6,826.5 933.0,827.0 933.4,827.5 933.9,828.0 934.3,828.5 934.7,829.0 935.2,829.5 935.7,830.0 936.1,830.5 936.6,831.0 936.9,831.5 937.2,832.0 937.4,832.5 937.6,833.0 937.9,833.5 938.0,834.0 938.1,834.5 938.2,835.0 938.2,835.5 938.1,836.0 937.9,836.5 937.8,837.0 937.6,837.5 937.4,838.0 937.2,838.5 937.0,839.0 936.8,839.5 936.7,840.0 936.5,840.5 936.3,841.0 936.2,841.5 936.1,842.0 936.0,842.5 936.0,843.0 936.1,843.5 936.1,844.0 936.3,844.5 936.4,845.0 936.6,845.5 936.8,846.0 936.9,846.5 937.1,847.0 937.3,847.5 937.5,848.0 937.8,848.5 938.0,849.0 938.3,849.5 938.6,850.0 938.9,850.5 939.2,851.0 939.5,851.5 939.9,852.0 940.3,852.5 940.6,853.0 941.0,853.5 941.5,854.0 941.9,854.5 942.3,855.0 942.8,855.5 943.3,856.0 943.8,856.5 944.3,857.0 944.8,857.5 945.4,858.0 945.9,858.5 946.5,859.0 947.1,859.5 947.7,860.0 948.3,860.5 949.0,861.0 949.6,861.5 950.4,862.0 951.1,862.5 951.9,863.0 952.7,863.5 953.5,864.0 954.4,864.5 955.3,865.0 956.3,865.5 957.3,866.0 958.5,866.5 959.6,867.0 960.9,867.5 962.1,868.0 963.3,868.5 964.6,869.0 965.9,869.5 967.2,870.0 968.5,870.5 969.9,871.0 971.4,871.5 973.0,872.0 974.6,872.5 976.3,873.0 977.9,873.5 979.4,874.0 980.7,874.5 982.0,875.0 983.3,875.5 984.6,876.0 985.9,876.5 987.3,877.0 988.6,877.5 990.0,878.0 991.3,878.5 992.7,879.0 994.0,879.5 995.4,880.0 996.7,880.5 998.1,881.0 999.5,881.5 1000.7,882.0 1001.9,882.5 1003.0,883.0 1004.0,883.5 1005.0,884.0 1006.0,884.5 1006.9,885.0 1007.9,885.5 1008.9,886.0 1009.9,886.5 1010.7,887.0 1011.2,887.5 1011.6,888.0 1011.8,888.5 1011.7,889.0 1011.6,889.5 1011.3,890.0 1010.9,890.5 1010.5,891.0 1010.0,891.5 1009.2,892.0 1008.3,892.5 1007.3,893.0 1006.3,893.5 1005.2,894.0 1004.1,894.5 1002.8,895.0 1001.5,895.5 1000.2,896.0 998.8,896.5 997.4,897.0 995.9,897.5 994.4,898.0 992.9,898.5 991.3,899.0 989.7,899.5 988.1,900.0 986.5,900.5 984.9,901.0 983.2,901.5 981.5,902.0 979.8,902.5 978.2,903.0 976.6,903.5 974.9,904.0 973.3,904.5 971.6,905.0 969.8,905.5 967.9,906.0 965.9,906.5 963.8,907.0 961.8,907.5 959.8,908.0 957.9,908.5 955.9,909.0 954.0,909.5 952.4,910.0 951.0,910.5 949.8,911.0 948.7,911.5 947.7,912.0 946.8,912.5 945.9,913.0 945.0,913.5 944.0,914.0 943.0,914.5 941.9,915.0 940.8,915.5 939.7,916.0 938.7,916.5 937.8,917.0 937.0,917.5 936.3,918.0 935.6,918.5 935.0,919.0 934.4,919.5 933.9,920.0 933.5,920.5 933.1,921.0 932.7,921.5 932.3,922.0 932.0,922.5 931.7,923.0 931.3,923.5 931.0,924.0 930.7,924.5 930.3,925.0 930.0,925.5 929.7,926.0 929.4,926.5 929.1,927.0 928.7,927.5 928.4,928.0 928.1,928.5 927.8,929.0 927.6,929.5 927.3,930.0 927.0,930.5 926.8,931.0 926.6,931.5 926.3,932.0 926.1,932.5 925.8,933.0 925.6,933.5 925.4,934.0 925.1,934.5 924.9,935.0 924.8,935.5 924.6,936.0 924.4,936.5 924.3,937.0 924.2,937.5 924.0,938.0 923.9,938.5 923.8,939.0 923.7,939.5 923.7,940.0 923.6,940.5 923.5,941.0 923.5,941.5 923.5,942.0 923.5,942.5 923.5,943.0 923.5,943.5 923.5,944.0 923.5,944.5 923.5,945.0 923.5,945.0 923.5,944.5 923.5,944.0 923.5,943.5 923.5,943.0 923.5,942.5 923.5,942.0 923.5,941.5 923.5,941.0 923.4,940.5 923.3,940.0 923.3,939.5 923.2,939.0 923.1,938.5 923.0,938.0 922.8,937.5 922.7,937.0 922.6,936.5 922.4,936.0 922.2,935.5 922.1,935.0 921.9,934.5 921.6,934.0 921.4,933.5 921.2,933.0 920.9,932.5 920.7,932.0 920.4,931.5 920.2,931.0 920.0,930.5 919.7,930.0 919.4,929.5 919.2,929.0 918.9,928.5 918.6,928.0 918.3,927.5 917.9,927.0 917.6,926.5 917.3,926.0 917.0,925.5 916.7,925.0 916.3,924.5 916.0,924.0 915.7,923.5 915.3,923.0 915.0,922.5 914.7,922.0 914.3,921.5 913.9,921.0 913.5,920.5 913.1,920.0 912.6,919.5 912.0,919.0 911.4,918.5 910.7,918.0 910.0,917.5 909.2,917.0 908.3,916.5 907.3,916.0 906.2,915.5 905.1,915.0 904.0,914.5 903.0,914.0 902.0,913.5 901.1,913.0 900.2,912.5 899.3,912.0 898.3,911.5 897.2,911.0 896.0,910.5 894.6,910.0 893.0,909.5 891.1,909.0 889.1,908.5 887.2,908.0 885.2,907.5 883.2,907.0 881.1,906.5 879.1,906.0 877.2,905.5 875.4,905.0 873.7,904.5 872.1,904.0 870.4,903.5 868.8,903.0 867.2,902.5 865.5,902.0 863.8,901.5 862.1,901.0 860.5,900.5 858.9,900.0 857.3,899.5 855.7,899.0 854.1,898.5 852.6,898.0 851.1,897.5 849.6,897.0 848.2,896.5 846.8,896.0 845.5,895.5 844.2,895.0 842.9,894.5 841.8,894.0 840.7,893.5 839.7,893.0 838.7,892.5 837.8,892.0 837.0,891.5 836.5,891.0 836.1,890.5 835.7,890.0 835.4,889.5 835.3,889.0 835.2,888.5 835.4,888.0 835.8,887.5 836.3,887.0 837.1,886.5 838.1,886.0 839.1,885.5 840.1,885.0 841.0,884.5 842.0,884.0 843.0,883.5 844.0,883.0 845.1,882.5 846.3,882.0 847.5,881.5 848.9,881.0 850.3,880.5 851.6,880.0 853.0,879.5 854.3,879.0 855.7,878.5 857.0,878.0 858.4,877.5 859.7,877.0 861.1,876.5 862.4,876.0 863.7,875.5 865.0,875.0 866.3,874.5 867.6,874.0 869.1,873.5 870.7,873.0 872.4,872.5 874.0,872.0 875.6,871.5 877.1,871.0 878.5,870.5 879.8,870.0 881.1,869.5 882.4,869.0 883.7,868.5 884.9,868.0 886.1,867.5 887.4,867.0 888.5,866.5 889.7,866.0 890.7,865.5 891.7,865.0 892.6,864.5 893.5,864.0 894.3,863.5 895.1,863.0 895.9,862.5 896.6,862.0 897.4,861.5 898.0,861.0 898.7,860.5 899.3,860.0 899.9,859.5 900.5,859.0 901.1,858.5 901.6,858.0 902.2,857.5 902.7,857.0 903.2,856.5 903.7,856.0 904.2,855.5 904.7,855.0 905.1,854.5 905.5,854.0 906.0,853.5 906.4,853.0 906.7,852.5 907.1,852.0 907.5,851.5 907.8,851.0 908.1,850.5 908.4,850.0 908.7,849.5 909.0,849.0 909.2,848.5 909.5,848.0 909.7,847.5 909.9,847.0 910.1,846.5 910.2,846.0 910.4,845.5 910.6,845.0 910.7,844.5 910.9,844.0 910.9,843.5 911.0,843.0 911.0,842.5 910.9,842.0 910.8,841.5 910.7,841.0 910.5,840.5 910.3,840.0 910.2,839.5 910.0,839.0 909.8,838.5 909.6,838.0 909.4,837.5 909.2,837.0 909.1,836.5 908.9,836.0 908.8,835.5 908.8,835.0 908.9,834.5 909.0,834.0 909.1,833.5 909.4,833.0 909.6,832.5 909.8,832.0 910.1,831.5 910.4,831.0 910.9,830.5 911.3,830.0 911.8,829.5 912.3,829.0 912.7,828.5 913.1,828.0 913.6,827.5 914.0,827.0 914.4,826.5 914.8,826.0 915.2,825.5 915.6,825.0 915.9,824.5 916.3,824.0 916.7,823.5 917.1,823.0 917.5,822.5 917.9,822.0 918.4,821.5 918.9,821.0 919.3,820.5 919.6,820.0 920.0,819.5 920.3,819.0 920.5,818.5 920.7,818.0 920.9,817.5 921.1,817.0 921.3,816.5 921.5,816.0 921.6,815.5 921.8,815.0 921.9,814.5 922.0,814.0 922.1,813.5 922.1,813.0 922.2,812.5 922.3,812.0 922.3,811.5 922.4,811.0 922.4,810.5 922.4,810.0 922.4,809.5 922.4,809.0 922.4,808.5 922.4,808.0 922.4,807.5 922.4,807.0 922.4,806.5 922.4,806.0 922.4,805.5 922.4,805.0 922.3,804.5 922.2,804.0 922.1,803.5 921.9,803.0 921.8,802.5 921.6,802.0 921.4,801.5 921.2,801.0 921.1,800.5 921.0,800.0 920.9,799.5 920.9,799.0 920.9,798.5 920.9,798.0 920.9,797.5 920.9,797.0 920.9,796.5 920.9,796.0 920.9,795.5 920.9,795.0 920.9,794.5 920.9,794.0 920.9,793.5 921.0,793.0 921.0,792.5 921.1,792.0 921.1,791.5 921.2,791.0 921.3,790.5 921.4,790.0 921.5,789.5 921.6,789.0 921.8,788.5 921.9,788.0 922.0,787.5 922.1,787.0 922.2,786.5 922.2,786.0 922.3,785.5 922.4,785.0 922.4,784.5 922.4,784.0 922.4,783.5 922.4,783.0 922.4,782.5 922.4,782.0 922.4,781.5 922.4,781.0 922.4,780.5 922.4,780.0 922.4,779.5 922.4,779.0 922.4,778.5 922.4,778.0 922.4,777.5 922.4,777.0 922.4,776.5 922.4,776.0 922.4,775.5 922.4,775.0 922.4,774.5 922.4,774.0 922.4,773.5 922.4,773.0 922.4,772.5 922.5,772.0 922.5,771.5 922.5,771.0 922.6,770.5 922.6,770.0 922.6,769.5 922.7,769.0 922.7,768.5 922.8,768.0 922.8,767.5 922.8,767.0 922.8,766.5 922.9,766.0 922.9,765.5 922.9,765.0 922.9,764.5 922.9,764.0 922.9,763.5 922.9,763.0 922.9,762.5 922.9,762.0 922.9,761.5 922.9,761.0 922.9,760.5 922.9,760.0 922.9,759.5 922.9,759.0 922.9,758.5 922.9,758.0 922.9,757.5 922.9,757.0 922.9,756.5 922.9,756.0 922.9,755.5 922.9,755.0 922.9,754.5 922.9,754.0 922.9,753.5 922.9,753.0 922.9,752.5 922.9,752.0 922.9,751.5 922.9,751.0 922.9,750.5 922.9,750.0 922.9,749.5 922.9,749.0 922.9,748.5 922.9,748.0 922.9,747.5 922.9,747.0 922.8,746.5 922.8,746.0 922.8,745.5 922.7,745.0 922.7,744.5 922.6,744.0 922.6,743.5 922.5,743.0 922.4,742.5 922.4,742.0 922.3,741.5 922.3,741.0 922.2,740.5 922.2,740.0 922.1,739.5 922.0,739.0 921.9,738.5 921.9,738.0 921.8,737.5 921.7,737.0 921.7,736.5 921.6,736.0 921.6,735.5 921.6,735.0 921.6,734.5 921.6,734.0 921.6,733.5 921.7,733.0 921.8,732.5 921.9,732.0 922.0,731.5 922.1,731.0 922.1,730.5 922.2,730.0 922.3,729.5 922.4,729.0 922.5,728.5 922.5,728.0 922.6,727.5 922.7,727.0 922.8,726.5 922.8,726.0 922.9,725.5 923.0,725.0 923.0,724.5 923.0,724.0 923.1,723.5 923.1,723.0 923.1,722.5 923.0,722.0 922.9,721.5 922.8,721.0 922.8,720.5 922.7,720.0 922.6,719.5 922.6,719.0 922.5,718.5 922.4,718.0 922.4,717.5 922.3,717.0 922.2,716.5 922.2,716.0 922.1,715.5 922.1,715.0 922.0,714.5 922.0,714.0 922.0,713.5 922.0,713.0 922.0,712.5 922.1,712.0 922.1,711.5 922.2,711.0 922.3,710.5 922.4,710.0 922.5,709.5 922.6,709.0 922.7,708.5 922.8,708.0 922.8,707.5 922.9,707.0 922.9,706.5 923.0,706.0 923.0,705.5 923.1,705.0 923.1,704.5 923.2,704.0 923.2,703.5 923.2,703.0 923.3,702.5 923.3,702.0 923.3,701.5 923.3,701.0 923.3,700.5 923.4,700.0 923.4,699.5 923.4,699.0 923.4,698.5 923.4,698.0 923.4,697.5 923.4,697.0 923.4,696.5 923.4,696.0 923.4,695.5 923.4,695.0 923.4,694.5 923.4,694.0 923.4,693.5 923.4,693.0 923.4,692.5 923.4,692.0 923.4,691.5 923.4,691.0 923.4,690.5 923.4,690.0 923.4,689.5 923.4,689.0 923.4,688.5 923.4,688.0 923.4,687.5 923.4,687.0 923.4,686.5 923.4,686.0 923.4,685.5 923.4,685.0 923.4,684.5 923.4,684.0 923.4,683.5 923.4,683.0 923.4,682.5 923.4,682.0 923.4,681.5 923.4,681.0 923.4,680.5 923.4,680.0 923.4,679.5 923.4,679.0 923.4,678.5 923.4,678.0 923.4,677.5 923.4,677.0 923.4,676.5 923.4,676.0 923.4,675.5 923.4,675.0 923.4,674.5 923.4,674.0 923.4,673.5 923.4,673.0 923.4,672.5 923.4,672.0 923.4,671.5 923.4,671.0 923.4,670.5 923.4,670.0 923.4,669.5 923.4,669.0 923.4,668.5 923.4,668.0 923.4,667.5 923.4,667.0 923.4,666.5 923.4,666.0 923.4,665.5 923.4,665.0 923.4,664.5 923.4,664.0 923.4,663.5 923.4,663.0 923.4,662.5 923.4,662.0 923.4,661.5 923.4,661.0 923.4,660.5 923.4,660.0 923.4,659.5 923.4,659.0 923.4,658.5 923.4,658.0 923.4,657.5 923.4,657.0 923.4,656.5 923.4,656.0 923.4,655.5 923.4,655.0 923.4,654.5 923.4,654.0 923.4,653.5 923.4,653.0 923.4,652.5 923.4,652.0 923.4,651.5 923.4,651.0 923.4,650.5 923.4,650.0 923.4,649.5 923.4,649.0 923.4,648.5 923.4,648.0 923.4,647.5 923.4,647.0 923.4,646.5 923.4,646.0 923.4,645.5 923.4,645.0 923.4,644.5 923.4,644.0 923.4,643.5 923.4,643.0 923.4,642.5 923.4,642.0 923.4,641.5 923.4,641.0 923.4,640.5 923.4,640.0 923.4,639.5 923.4,639.0 923.4,638.5 923.4,638.0 923.4,637.5 923.4,637.0 923.4,636.5 923.4,636.0 923.3,635.5 923.3,635.0 923.3,634.5 923.3,634.0 923.2,633.5 923.2,633.0 923.1,632.5 923.1,632.0 923.0,631.5 923.0,631.0 922.9,630.5 922.8,630.0 922.7,629.5 922.6,629.0 922.5,628.5 922.4,628.0 922.3,627.5 922.2,627.0 922.2,626.5 922.1,626.0 922.0,625.5 922.0,625.0 922.0,624.5 922.0,624.0 922.0,623.5 922.1,623.0 922.1,622.5 922.2,622.0 922.3,621.5 922.4,621.0 922.5,620.5 922.5,620.0 922.6,619.5 922.7,619.0 922.8,618.5 922.9,618.0 922.9,617.5 923.0,617.0 923.0,616.5 923.1,616.0 923.1,615.5 923.1,615.0 923.1,614.5 923.2,614.0 923.2,613.5 923.2,613.0 923.2,612.5 923.2,612.0 923.2,611.5 923.3,611.0 923.3,610.5 923.3,610.0 923.3,609.5 923.3,609.0 923.3,608.5 923.3,608.0 923.3,607.5 923.3,607.0 923.3,606.5 923.3,606.0 923.4,605.5 923.3,605.0 923.3,604.5 923.3,604.0 923.3,603.5 923.2,603.0 923.2,602.5 923.1,602.0 923.1,601.5 923.0,601.0 922.9,600.5 922.9,600.0 922.8,599.5 922.8,599.0 922.7,598.5 922.6,598.0 922.6,597.5 922.5,597.0 922.4,596.5 922.4,596.0 922.3,595.5 922.2,595.0 922.2,594.5 922.1,594.0 922.0,593.5 922.0,593.0 921.9,592.5 921.9,592.0 921.9,591.5 921.8,591.0 921.8,590.5 921.7,590.0 921.7,589.5 921.7,589.0 921.6,588.5 921.6,588.0 921.6,587.5 921.6,587.0 921.6,586.5 921.6,586.0 921.6,585.5 921.6,585.0 921.7,584.5 921.7,584.0 921.8,583.5 921.8,583.0 921.8,582.5 921.9,582.0 921.9,581.5 922.0,581.0 922.1,580.5 922.1,580.0 922.2,579.5 922.3,579.0 922.4,578.5 922.4,578.0 922.5,577.5 922.6,577.0 922.7,576.5 922.8,576.0 922.8,575.5 922.9,575.0 922.9,574.5 923.0,574.0 923.0,573.5 923.1,573.0 923.2,572.5 923.2,572.0 923.3,571.5 923.3,571.0 923.4,570.5 923.4,570.0 923.4,569.5 923.5,569.0 923.5,568.5 923.5,568.0 923.5,567.5 923.5,567.0 923.5,566.5 923.5,566.0 923.5,565.5 923.5,565.0Z" fill="#E7B800" stroke="#000" stroke-width="1.60" stroke-linejoin="round"/>
<line x1="923.50" y1="834.20" x2="923.50" y2="926.80" stroke="#000" stroke-width="1.50"/>
<circle cx="923.50" cy="586.90" r="2.50" fill="#000"/>
<circle cx="923.50" cy="624.50" r="2.50" fill="#000"/>
<circle cx="923.50" cy="713.30" r="2.50" fill="#000"/>
<circle cx="923.50" cy="734.50" r="2.50" fill="#000"/>
<circle cx="923.50" cy="765.00" r="2.50" fill="#000"/>
<circle cx="923.50" cy="794.00" r="2.50" fill="#000"/>
<circle cx="923.50" cy="799.00" r="2.50" fill="#000"/>
<circle cx="923.50" cy="824.90" r="2.40" fill="#000"/>
<circle cx="923.50" cy="832.60" r="2.40" fill="#000"/>
<rect x="904.60" y="870.20" width="38.10" height="24.50" fill="#fff" stroke="#000" stroke-width="1.50"/>
<line x1="904.60" y1="884.30" x2="942.70" y2="884.30" stroke="#000" stroke-width="3.00"/>
<path d="M737.00,576.00 V564.70 H923.50 V564.70" fill="none" stroke="#1a1a1a" stroke-width="1.20"/>
<text transform="translate(826.80,555.90) scale(0.950,1.040)" font-size="39.00" x="-74.20 -51.65 -39.96 -17.13 5.73 29.68 52.51">1.1e−06</text>
<path d="M625.20,545.60 V978.30 H1036.00" fill="none" stroke="#1c1c1c" stroke-width="1.90" stroke-linecap="butt" stroke-linejoin="round"/>
<line x1="621.60" y1="579.70" x2="625.20" y2="579.70" stroke="#000" stroke-width="1.90"/>
<text transform="translate(616.40,593.10) scale(0.950,1.040)" font-size="39.00" x="-45.09 -22.26">30</text>
<line x1="621.60" y1="668.30" x2="625.20" y2="668.30" stroke="#000" stroke-width="1.90"/>
<text transform="translate(616.00,679.00) scale(0.950,1.040)" font-size="39.00" x="-45.09 -22.26">20</text>
<line x1="621.60" y1="756.60" x2="625.20" y2="756.60" stroke="#000" stroke-width="1.90"/>
<text transform="translate(611.90,768.15) scale(0.950,1.040)" font-size="39.00" x="-45.09 -22.26">10</text>
<line x1="621.60" y1="845.30" x2="625.20" y2="845.30" stroke="#000" stroke-width="1.90"/>
<text transform="translate(614.20,860.70) scale(0.950,1.040)" font-size="39.00" x="-22.26">0</text>
<line x1="621.60" y1="933.90" x2="625.20" y2="933.90" stroke="#000" stroke-width="1.90"/>
<text transform="translate(620.80,944.85) scale(0.950,1.040)" font-size="39.00" x="-69.04 -45.09 -22.26">−10</text>
<line x1="736.90" y1="978.30" x2="736.90" y2="981.90" stroke="#000" stroke-width="1.90"/>
<line x1="923.40" y1="978.30" x2="923.40" y2="981.90" stroke="#000" stroke-width="1.90"/>
<text transform="translate(816.10,1027.80) scale(0.950,1.012)" font-size="39.00" x="-102.02 -75.09 -65.63 -42.80 -20.19 -6.29 16.19 25.66 48.15 57.61 80.44">Vinorelbine</text>
<text transform="translate(561.25,715.85) rotate(-90) scale(0.950,1.030)" font-size="39.00" x="-95.61 -86.14 -63.31 -40.48 -17.88 -4.27 7.60 37.07 59.90 82.51">log2(IC50)</text>
</g>
<g>
<text transform="translate(1140.25,655.00) scale(0.950,1.012)" font-size="39.00" x="0.80 32.27 46.17 69.01 91.84">Group</text>
<rect x="1143.10" y="681.40" width="38.70" height="29.10" fill="#00AFBB"/>
<text transform="translate(1201.65,710.30) scale(0.950,1.012)" font-size="39.00" x="0.57 23.40 46.40 75.60 87.06 100.61 110.02 130.55">Low risk</text>
<rect x="1143.10" y="747.10" width="38.70" height="30.00" fill="#E7B800"/>
<text transform="translate(1202.60,771.60) scale(0.950,1.012)" font-size="39.00" x="0.74 29.87 39.34 62.17 84.72 96.18 109.74 119.14 139.67">High risk</text>
</g>
</svg></body></html>
